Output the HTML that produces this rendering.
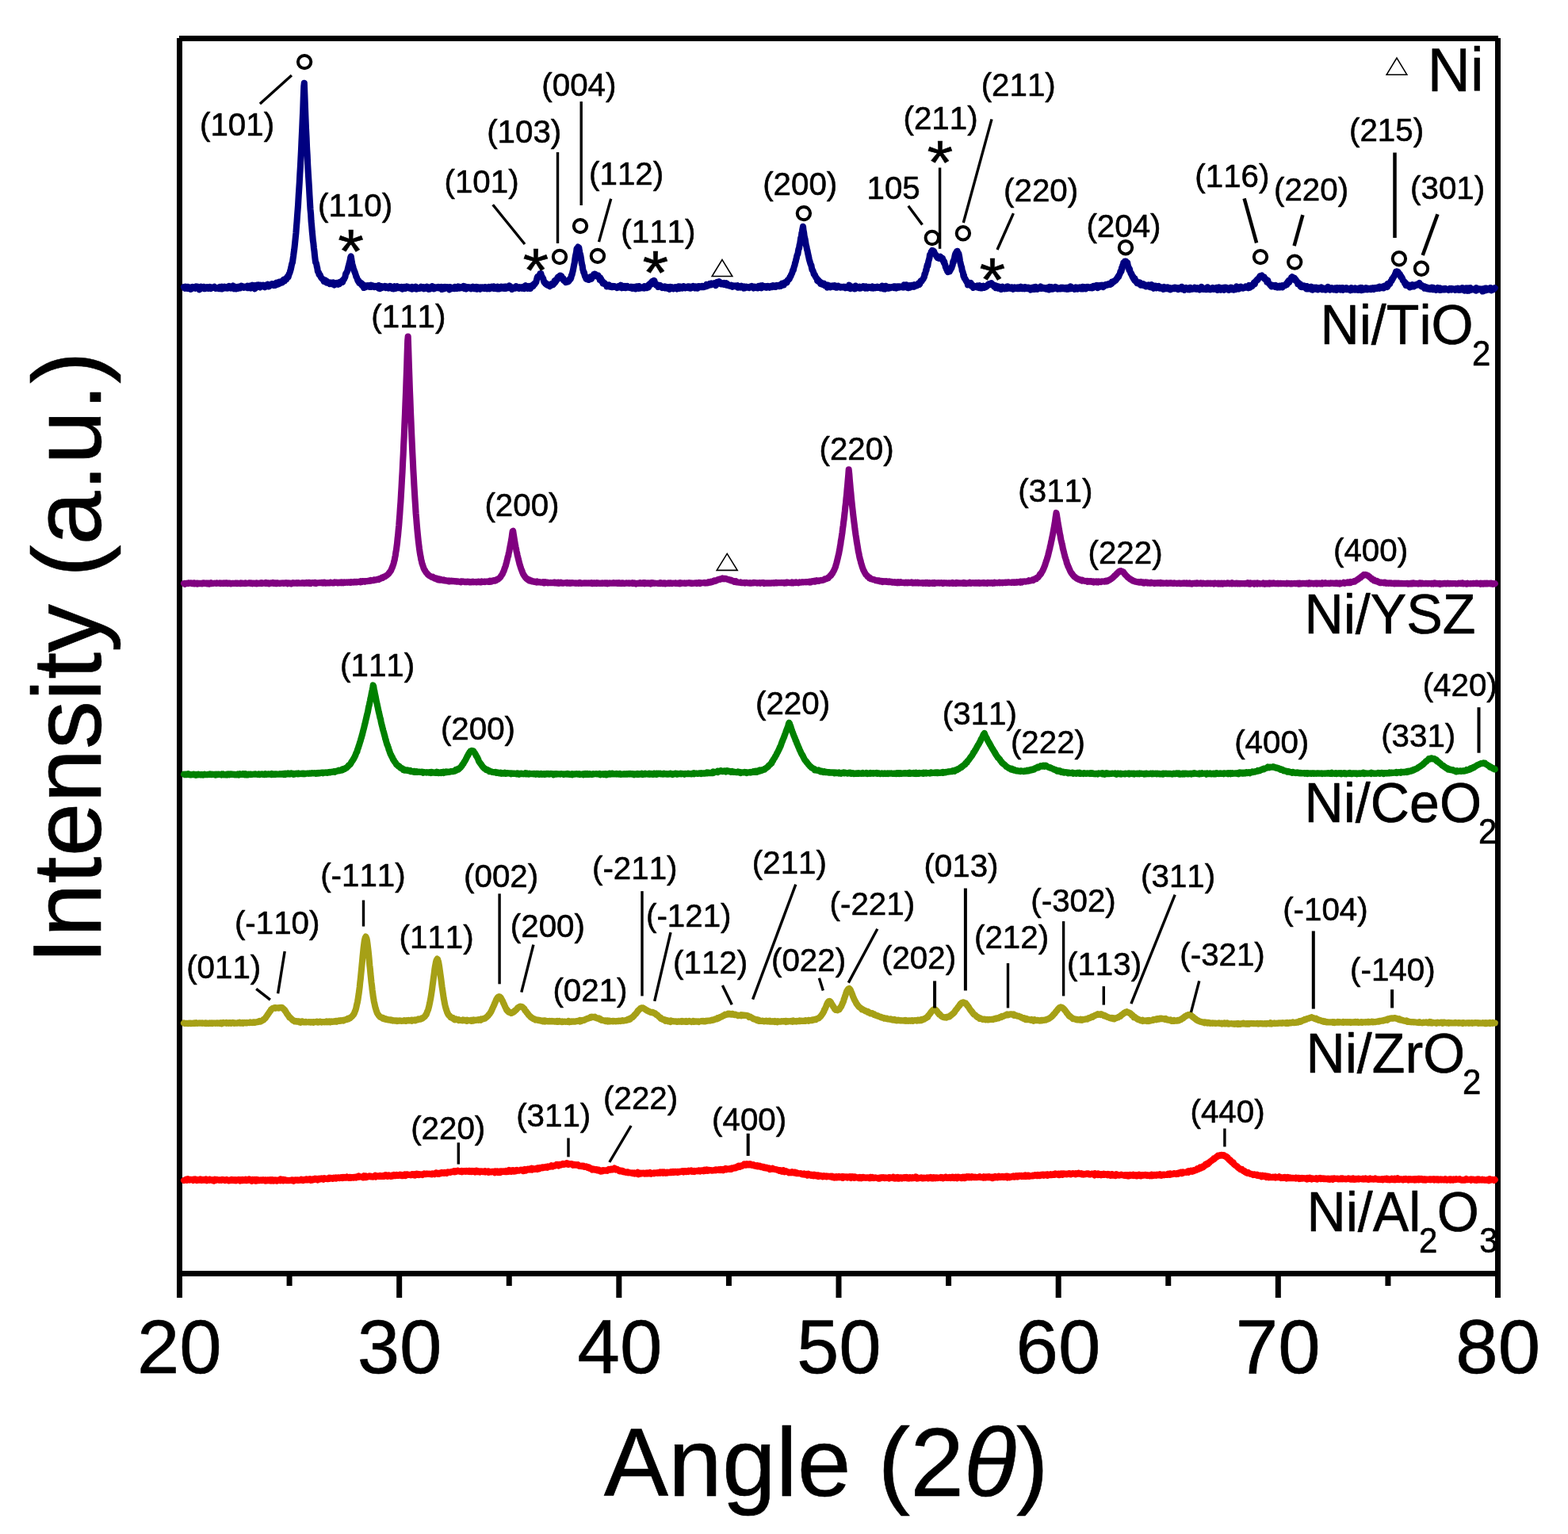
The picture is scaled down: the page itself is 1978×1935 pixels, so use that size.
<!DOCTYPE html>
<html lang="en">
<head>
<meta charset="utf-8">
<title>XRD patterns of Ni catalysts</title>
<style>
html,body{margin:0;padding:0;background:#fff;}
body{width:1978px;height:1935px;overflow:hidden;}
svg{display:block;}
text{font-family:"Liberation Sans",Arial,sans-serif;font-kerning:none;fill:#000;stroke:#000;stroke-width:0.6px;stroke-linejoin:round;}
</style>
</head>
<body>
<svg xmlns="http://www.w3.org/2000/svg" width="1978" height="1935" viewBox="0 0 1978 1935">
<rect x="0" y="0" width="1978" height="1935" fill="#ffffff"/>
<rect x="223.00" y="48.00" width="7.00" height="1589.00" fill="#000"/>
<rect x="1886.00" y="48.00" width="7.00" height="1589.00" fill="#000"/>
<rect x="226.00" y="45.00" width="1664.00" height="7.00" fill="#000"/>
<rect x="223.00" y="1603.00" width="1670.00" height="7.00" fill="#000"/>
<rect x="361.58" y="1608.00" width="7.00" height="14.00" fill="#000"/>
<rect x="500.17" y="1608.00" width="7.00" height="29.00" fill="#000"/>
<rect x="638.75" y="1608.00" width="7.00" height="14.00" fill="#000"/>
<rect x="777.33" y="1608.00" width="7.00" height="29.00" fill="#000"/>
<rect x="915.92" y="1608.00" width="7.00" height="14.00" fill="#000"/>
<rect x="1054.50" y="1608.00" width="7.00" height="29.00" fill="#000"/>
<rect x="1193.08" y="1608.00" width="7.00" height="14.00" fill="#000"/>
<rect x="1331.67" y="1608.00" width="7.00" height="29.00" fill="#000"/>
<rect x="1470.25" y="1608.00" width="7.00" height="14.00" fill="#000"/>
<rect x="1608.83" y="1608.00" width="7.00" height="29.00" fill="#000"/>
<rect x="1747.42" y="1608.00" width="7.00" height="14.00" fill="#000"/>
<path d="M232.0,361.9 232.6,363.2 233.1,363.7 233.7,362.5 234.2,361.8 234.8,362.8 235.3,363.2 235.9,363.7 236.4,361.9 237.0,361.8 237.5,363.4 238.1,363.2 238.6,364.1 239.2,363.6 239.7,362.8 240.3,362.6 240.8,364.9 241.4,362.6 241.9,362.2 242.5,361.9 243.0,362.9 243.6,362.9 244.1,362.5 244.7,362.8 245.2,363.0 245.8,363.4 246.3,363.7 246.9,363.0 247.4,361.4 248.0,363.4 248.5,361.7 249.1,362.7 249.6,361.6 250.2,362.8 250.7,362.2 251.3,363.0 251.8,365.4 252.4,362.7 252.9,363.5 253.5,361.7 254.0,362.5 254.6,363.3 255.1,362.7 255.7,363.1 256.2,362.8 256.8,362.0 257.3,363.2 257.9,362.1 258.4,364.2 259.0,362.3 259.5,363.3 260.1,362.7 260.6,363.5 261.2,362.2 261.7,363.5 262.3,362.6 262.8,363.7 263.4,363.2 263.9,362.8 264.5,362.1 265.0,363.3 265.6,363.1 266.1,364.0 266.7,362.4 267.2,363.1 267.8,363.1 268.3,362.9 268.9,362.8 269.4,362.8 270.0,362.2 270.5,361.8 271.1,362.3 271.6,363.1 272.2,363.8 272.7,363.4 273.3,363.5 273.8,363.2 274.4,363.2 274.9,362.8 275.5,363.2 276.0,364.0 276.6,362.3 277.1,362.0 277.7,364.2 278.2,362.8 278.8,363.3 279.3,363.3 279.9,361.6 280.4,364.5 281.0,364.0 281.5,362.7 282.1,363.1 282.6,362.6 283.2,361.8 283.7,362.4 284.3,362.8 284.8,363.4 285.4,363.1 285.9,362.5 286.5,363.6 287.0,361.9 287.6,363.1 288.1,363.3 288.7,362.2 289.2,361.0 289.8,361.7 290.3,362.6 290.9,362.8 291.4,363.6 292.0,361.6 292.5,362.4 293.1,362.9 293.6,362.2 294.2,360.5 294.7,363.0 295.3,364.2 295.8,363.1 296.4,361.6 296.9,362.0 297.5,362.5 298.0,364.3 298.6,362.8 299.1,362.3 299.7,363.5 300.2,362.2 300.8,363.7 301.3,361.7 301.9,361.8 302.4,362.8 303.0,363.3 303.5,362.7 304.1,362.4 304.6,360.7 305.2,361.5 305.7,361.6 306.3,361.7 306.8,362.5 307.4,361.8 307.9,362.7 308.5,362.1 309.0,361.7 309.6,362.1 310.1,362.3 310.7,362.6 311.2,361.5 311.8,361.7 312.3,360.8 312.9,363.2 313.4,363.0 314.0,361.7 314.5,361.4 315.1,360.8 315.6,361.9 316.2,361.9 316.7,363.5 317.3,361.9 317.8,361.1 318.4,359.7 318.9,362.8 319.5,361.8 320.0,360.3 320.6,361.7 321.1,360.2 321.7,364.3 322.2,362.4 322.8,361.9 323.3,361.3 323.9,359.7 324.4,361.2 325.0,360.1 325.5,361.8 326.1,359.5 326.6,360.5 327.2,362.1 327.7,362.4 328.3,360.2 328.8,359.8 329.4,361.7 329.9,361.7 330.5,360.1 331.0,360.3 331.6,360.3 332.1,359.8 332.7,360.2 333.2,361.7 333.8,361.2 334.3,362.2 334.9,360.5 335.4,360.4 336.0,359.6 336.5,360.3 337.1,359.2 337.6,358.8 338.2,360.7 338.7,361.3 339.3,360.7 339.8,361.0 340.4,360.1 340.9,359.2 341.5,359.8 342.0,359.3 342.6,358.7 343.1,358.1 343.7,358.2 344.2,359.3 344.8,359.3 345.3,358.7 345.9,360.1 346.4,359.0 347.0,359.2 347.5,359.6 348.1,357.8 348.6,356.7 349.2,358.8 349.7,357.5 350.3,358.9 350.8,358.0 351.4,358.3 351.9,358.0 352.5,355.5 353.0,357.5 353.6,356.2 354.1,355.9 354.7,355.9 355.2,356.6 355.8,356.5 356.3,356.3 356.9,353.8 357.4,354.3 358.0,352.6 358.5,354.0 359.1,354.1 359.6,352.6 360.2,352.9 360.7,352.3 361.3,352.3 361.8,350.2 362.4,349.4 362.9,348.6 363.5,349.7 364.0,348.1 364.6,346.0 365.1,344.9 365.7,343.4 366.2,341.8 366.8,339.6 367.3,337.4 367.9,334.3 368.4,332.2 369.0,331.1 369.5,327.0 370.1,323.1 370.6,319.0 371.2,314.9 371.7,310.5 372.3,304.6 372.8,299.7 373.4,293.8 373.9,286.6 374.5,279.7 375.0,272.3 375.6,264.5 376.1,257.9 376.7,246.7 377.2,239.4 377.8,229.8 378.3,220.0 378.9,210.3 379.4,200.5 380.0,188.6 380.5,176.9 381.1,164.5 381.6,152.3 382.2,139.8 382.7,124.7 383.3,109.0 383.8,104.7 384.4,120.1 384.9,134.2 385.5,149.7 386.0,161.9 386.6,173.6 387.1,186.6 387.7,196.1 388.2,208.0 388.8,218.3 389.3,226.3 389.9,235.8 390.4,245.4 391.0,255.6 391.5,264.1 392.1,269.9 392.6,279.1 393.2,285.0 393.7,291.5 394.3,297.4 394.8,303.2 395.4,307.2 395.9,312.7 396.5,316.9 397.0,322.3 397.6,327.2 398.1,331.0 398.7,331.5 399.2,333.1 399.8,336.5 400.3,338.2 400.9,342.5 401.4,343.1 402.0,343.5 402.5,346.2 403.1,347.1 403.6,346.5 404.2,348.3 404.7,349.4 405.3,350.3 405.8,351.1 406.4,351.4 406.9,352.3 407.5,352.2 408.0,352.4 408.6,354.8 409.1,354.2 409.7,354.7 410.2,353.3 410.8,354.8 411.3,355.9 411.9,354.4 412.4,356.6 413.0,355.6 413.5,356.4 414.1,356.2 414.6,356.7 415.2,357.6 415.7,356.5 416.3,358.2 416.8,356.5 417.4,356.5 417.9,357.9 418.5,356.6 419.0,357.3 419.6,358.4 420.1,358.7 420.7,356.4 421.2,358.3 421.8,359.4 422.3,358.9 422.9,357.8 423.4,357.5 424.0,357.7 424.5,357.0 425.1,357.7 425.6,357.7 426.2,357.7 426.7,358.7 427.3,357.4 427.8,356.3 428.4,358.1 428.9,356.1 429.5,356.3 430.0,356.2 430.6,355.6 431.1,354.6 431.7,354.6 432.2,355.9 432.8,352.9 433.3,352.5 433.9,352.5 434.4,351.2 435.0,350.1 435.5,348.9 436.1,345.3 436.6,344.7 437.2,344.0 437.7,342.7 438.3,341.6 438.8,339.1 439.4,336.6 439.9,334.8 440.5,332.4 441.0,330.5 441.6,328.4 442.1,325.0 442.7,323.3 443.2,326.1 443.8,330.3 444.3,332.8 444.9,334.9 445.4,336.9 446.0,338.9 446.5,340.2 447.1,342.6 447.6,342.9 448.2,345.3 448.7,346.4 449.3,349.0 449.8,349.3 450.4,351.0 450.9,352.5 451.5,354.4 452.0,353.6 452.6,354.3 453.1,356.5 453.7,355.7 454.2,357.5 454.8,357.2 455.3,358.1 455.9,357.1 456.4,359.5 457.0,358.9 457.5,358.8 458.1,361.4 458.6,360.5 459.2,363.0 459.7,360.6 460.3,360.2 460.8,360.7 461.4,362.0 461.9,360.8 462.5,361.3 463.0,361.4 463.6,360.3 464.1,361.2 464.7,360.8 465.2,360.3 465.8,362.0 466.3,361.9 466.9,361.5 467.4,360.7 468.0,359.9 468.5,361.9 469.1,361.5 469.6,360.3 470.2,361.6 470.7,360.5 471.3,361.7 471.8,361.9 472.4,362.1 472.9,362.0 473.5,362.0 474.0,361.0 474.6,361.6 475.1,361.5 475.7,361.8 476.2,362.2 476.8,362.5 477.3,363.4 477.9,360.0 478.4,362.4 479.0,362.0 479.5,364.0 480.1,362.9 480.6,360.9 481.2,362.5 481.7,361.8 482.3,363.0 482.8,361.4 483.4,362.2 483.9,362.2 484.5,362.2 485.0,361.8 485.6,360.9 486.1,362.7 486.7,363.1 487.2,362.3 487.8,361.6 488.3,362.6 488.9,362.9 489.4,362.3 490.0,362.4 490.5,363.6 491.1,361.6 491.6,362.0 492.2,360.9 492.7,361.9 493.3,361.9 493.8,361.7 494.4,362.0 494.9,364.0 495.5,362.4 496.0,362.5 496.6,364.3 497.1,362.5 497.7,361.2 498.2,362.9 498.8,361.8 499.3,363.9 499.9,361.6 500.4,362.1 501.0,361.3 501.5,362.7 502.1,361.8 502.6,362.6 503.2,362.3 503.7,362.2 504.3,363.4 504.8,363.4 505.4,362.7 505.9,362.0 506.5,361.8 507.0,362.9 507.6,364.6 508.1,362.3 508.7,362.1 509.2,362.2 509.8,361.8 510.3,362.0 510.9,362.6 511.4,363.9 512.0,362.7 512.5,362.3 513.1,361.5 513.6,362.9 514.2,362.7 514.7,361.8 515.3,361.9 515.8,362.8 516.4,363.6 516.9,363.3 517.5,363.0 518.0,362.5 518.6,363.1 519.1,362.8 519.7,364.6 520.2,361.9 520.8,362.5 521.3,363.8 521.9,362.6 522.4,364.0 523.0,362.8 523.5,363.0 524.1,362.6 524.6,361.7 525.2,362.1 525.7,364.6 526.3,363.4 526.8,363.4 527.4,363.6 527.9,363.3 528.5,363.7 529.0,362.7 529.6,362.7 530.1,363.7 530.7,362.6 531.2,361.8 531.8,362.7 532.3,362.5 532.9,363.4 533.4,362.3 534.0,362.1 534.5,362.6 535.1,364.2 535.6,362.9 536.2,363.0 536.7,362.9 537.3,363.2 537.8,363.7 538.4,364.0 538.9,361.6 539.5,364.0 540.0,362.9 540.6,362.7 541.1,364.9 541.7,362.8 542.2,364.5 542.8,363.7 543.3,362.1 543.9,363.3 544.4,363.5 545.0,362.9 545.5,361.1 546.1,362.7 546.6,362.8 547.2,362.1 547.7,364.4 548.3,362.8 548.8,362.7 549.4,362.7 549.9,362.4 550.5,362.4 551.0,363.1 551.6,363.2 552.1,362.6 552.7,362.9 553.2,361.9 553.8,363.4 554.3,362.4 554.9,363.2 555.4,362.3 556.0,362.6 556.5,363.2 557.1,362.0 557.6,365.0 558.2,363.0 558.7,362.9 559.3,362.4 559.8,364.3 560.4,364.1 560.9,363.3 561.5,361.9 562.0,362.6 562.6,363.5 563.1,362.6 563.7,362.1 564.2,362.1 564.8,362.4 565.3,363.0 565.9,362.5 566.4,363.0 567.0,365.3 567.5,364.4 568.1,362.2 568.6,363.3 569.2,363.1 569.7,362.9 570.3,363.9 570.8,362.8 571.4,362.8 571.9,362.7 572.5,363.0 573.0,364.1 573.6,363.7 574.1,362.0 574.7,362.7 575.2,362.4 575.8,363.7 576.3,363.2 576.9,363.8 577.4,363.0 578.0,361.5 578.5,363.4 579.1,363.2 579.6,363.5 580.2,362.0 580.7,363.1 581.3,362.5 581.8,362.5 582.4,363.3 582.9,363.3 583.4,362.3 584.0,361.7 584.5,361.1 585.1,362.6 585.6,364.0 586.2,363.0 586.7,361.3 587.3,362.4 587.8,363.4 588.4,364.4 588.9,364.0 589.5,363.3 590.0,363.2 590.6,362.2 591.1,362.7 591.7,362.8 592.2,362.4 592.8,363.1 593.3,362.7 593.9,363.3 594.4,364.2 595.0,363.6 595.5,363.4 596.1,362.9 596.6,361.8 597.2,363.0 597.7,363.5 598.3,362.2 598.8,364.1 599.4,362.8 599.9,363.4 600.5,362.8 601.0,362.1 601.6,364.7 602.1,362.1 602.7,363.8 603.2,362.6 603.8,363.3 604.3,362.4 604.9,362.7 605.4,363.8 606.0,364.6 606.5,362.4 607.1,363.1 607.6,363.8 608.2,362.5 608.7,363.6 609.3,362.4 609.8,363.5 610.4,363.4 610.9,364.0 611.5,363.3 612.0,362.1 612.6,363.6 613.1,362.2 613.7,363.6 614.2,364.2 614.8,363.5 615.3,362.6 615.9,364.0 616.4,363.2 617.0,362.0 617.5,362.7 618.1,364.2 618.6,362.8 619.2,363.1 619.7,362.8 620.3,361.7 620.8,362.6 621.4,363.3 621.9,363.2 622.5,362.9 623.0,361.3 623.6,364.0 624.1,363.6 624.7,363.8 625.2,364.0 625.8,362.6 626.3,362.5 626.9,363.3 627.4,364.3 628.0,361.6 628.5,362.8 629.1,362.4 629.6,363.4 630.2,364.2 630.7,362.7 631.3,362.0 631.8,363.0 632.4,362.7 632.9,361.7 633.5,363.7 634.0,362.5 634.6,363.5 635.1,361.9 635.7,363.8 636.2,361.8 636.8,363.8 637.3,361.5 637.9,364.0 638.4,362.6 639.0,361.7 639.5,362.7 640.1,363.2 640.6,362.1 641.2,362.5 641.7,363.1 642.3,362.8 642.8,360.4 643.4,362.5 643.9,363.2 644.5,363.1 645.0,363.7 645.6,362.3 646.1,364.9 646.7,363.5 647.2,363.1 647.8,363.7 648.3,363.6 648.9,362.9 649.4,362.3 650.0,363.6 650.5,363.1 651.1,361.2 651.6,361.9 652.2,363.1 652.7,362.8 653.3,362.9 653.8,363.2 654.4,362.8 654.9,363.9 655.5,362.2 656.0,362.3 656.6,362.9 657.1,363.2 657.7,363.2 658.2,363.7 658.8,362.1 659.3,363.4 659.9,362.8 660.4,361.6 661.0,362.3 661.5,364.0 662.1,363.0 662.6,361.9 663.2,360.3 663.7,361.6 664.3,361.6 664.8,362.2 665.4,363.9 665.9,362.6 666.5,362.2 667.0,361.1 667.6,360.8 668.1,361.5 668.7,361.2 669.2,363.9 669.8,361.0 670.3,360.7 670.9,361.9 671.4,360.8 672.0,359.4 672.5,361.1 673.1,359.4 673.6,358.1 674.2,358.8 674.7,358.2 675.3,356.7 675.8,356.6 676.4,355.6 676.9,353.0 677.5,350.8 678.0,349.2 678.6,349.6 679.1,349.4 679.7,348.0 680.2,347.4 680.8,347.1 681.3,345.4 681.9,346.5 682.4,345.1 683.0,347.8 683.5,348.7 684.1,349.6 684.6,350.7 685.2,351.4 685.7,353.7 686.3,355.7 686.8,355.4 687.4,357.0 687.9,356.7 688.5,358.1 689.0,357.6 689.6,359.1 690.1,359.0 690.7,359.7 691.2,359.1 691.8,358.8 692.3,359.5 692.9,360.7 693.4,361.1 694.0,359.5 694.5,360.3 695.1,360.2 695.6,359.7 696.2,357.9 696.7,359.1 697.3,357.8 697.8,359.1 698.4,358.3 698.9,357.7 699.5,354.6 700.0,356.5 700.6,355.8 701.1,353.4 701.7,354.4 702.2,352.8 702.8,351.8 703.3,350.5 703.9,349.4 704.4,349.1 705.0,351.3 705.5,348.5 706.1,348.3 706.6,347.5 707.2,347.7 707.7,348.2 708.3,348.4 708.8,350.5 709.4,350.3 709.9,351.9 710.5,351.0 711.0,353.4 711.6,353.2 712.1,354.4 712.7,354.2 713.2,354.0 713.8,356.0 714.3,355.0 714.9,355.3 715.4,354.8 716.0,355.5 716.5,354.9 717.1,355.1 717.6,354.7 718.2,353.3 718.7,351.9 719.3,352.5 719.8,351.8 720.4,350.3 720.9,347.2 721.5,346.9 722.0,344.6 722.6,342.3 723.1,339.9 723.7,336.5 724.2,334.0 724.8,331.4 725.3,327.0 725.9,323.0 726.4,320.9 727.0,318.2 727.5,314.0 728.1,312.9 728.6,312.7 729.2,311.6 729.7,312.2 730.3,312.4 730.8,316.0 731.4,319.2 731.9,320.5 732.5,323.2 733.0,326.1 733.6,330.9 734.1,333.3 734.7,335.4 735.2,339.7 735.8,341.7 736.3,343.7 736.9,343.7 737.4,346.6 738.0,348.6 738.5,348.3 739.1,350.9 739.6,352.0 740.2,352.2 740.7,351.2 741.3,351.4 741.8,352.8 742.4,352.9 742.9,352.9 743.5,352.7 744.0,351.4 744.6,350.8 745.1,349.2 745.7,350.9 746.2,351.6 746.8,348.9 747.3,348.3 747.9,348.8 748.4,348.1 749.0,346.2 749.5,346.4 750.1,345.8 750.6,348.1 751.2,345.8 751.7,347.1 752.3,348.1 752.8,348.4 753.4,348.4 753.9,349.0 754.5,347.3 755.0,348.6 755.6,349.0 756.1,350.0 756.7,353.0 757.2,350.3 757.8,352.8 758.3,352.1 758.9,354.8 759.4,355.5 760.0,354.6 760.5,357.3 761.1,356.3 761.6,357.8 762.2,357.5 762.7,357.2 763.3,357.8 763.8,358.4 764.4,359.3 764.9,359.3 765.5,361.4 766.0,359.6 766.6,359.6 767.1,359.6 767.7,359.8 768.2,359.4 768.8,359.9 769.3,361.6 769.9,361.1 770.4,361.0 771.0,361.5 771.5,362.2 772.1,361.9 772.6,362.1 773.2,361.1 773.7,361.4 774.3,361.1 774.8,361.7 775.4,361.2 775.9,361.6 776.5,361.8 777.0,361.8 777.6,361.8 778.1,361.6 778.7,363.1 779.2,361.8 779.8,361.3 780.3,362.3 780.9,361.3 781.4,361.4 782.0,362.3 782.5,361.0 783.1,359.7 783.6,362.6 784.2,363.2 784.7,361.0 785.3,361.7 785.8,362.9 786.4,360.8 786.9,361.7 787.5,361.5 788.0,362.3 788.6,360.9 789.1,363.2 789.7,362.4 790.2,362.8 790.8,362.3 791.3,360.9 791.9,362.4 792.4,361.5 793.0,362.6 793.5,361.9 794.1,362.3 794.6,362.4 795.2,363.2 795.7,363.2 796.3,361.8 796.8,362.6 797.4,363.8 797.9,363.0 798.5,362.1 799.0,362.5 799.6,362.4 800.1,363.4 800.7,362.7 801.2,362.9 801.8,364.4 802.3,361.5 802.9,361.8 803.4,361.2 804.0,361.3 804.5,363.3 805.1,362.8 805.6,363.9 806.2,361.0 806.7,361.9 807.3,363.7 807.8,363.4 808.4,363.2 808.9,363.2 809.5,362.5 810.0,362.4 810.6,362.4 811.1,363.1 811.7,362.2 812.2,362.5 812.8,363.4 813.3,361.2 813.9,361.4 814.4,362.4 815.0,361.6 815.5,361.5 816.1,363.1 816.6,361.5 817.2,360.5 817.7,361.4 818.3,362.1 818.8,358.7 819.4,358.5 819.9,358.6 820.5,357.4 821.0,359.0 821.6,357.0 822.1,355.7 822.7,355.9 823.2,354.5 823.8,354.5 824.3,355.1 824.9,357.2 825.4,353.9 826.0,356.5 826.5,357.9 827.1,358.0 827.6,359.6 828.2,359.0 828.7,359.4 829.3,359.7 829.8,359.5 830.4,361.9 830.9,360.0 831.5,361.2 832.0,361.1 832.6,361.1 833.1,360.1 833.7,361.7 834.2,362.2 834.8,362.3 835.3,363.0 835.9,362.2 836.4,361.9 837.0,362.7 837.5,363.0 838.1,361.8 838.6,361.4 839.2,361.8 839.7,363.5 840.3,363.4 840.8,362.0 841.4,362.8 841.9,363.4 842.5,363.8 843.0,362.2 843.6,362.5 844.1,363.9 844.7,364.7 845.2,364.0 845.8,361.9 846.3,363.1 846.9,362.6 847.4,362.8 848.0,362.3 848.5,362.4 849.1,362.8 849.6,364.3 850.2,363.4 850.7,363.2 851.3,362.8 851.8,362.2 852.4,362.6 852.9,363.8 853.5,363.5 854.0,364.4 854.6,363.0 855.1,362.8 855.7,361.5 856.2,363.1 856.8,361.4 857.3,364.0 857.9,362.3 858.4,362.8 859.0,361.7 859.5,362.4 860.1,362.1 860.6,363.7 861.2,363.0 861.7,361.8 862.3,361.2 862.8,362.7 863.4,362.4 863.9,361.9 864.5,363.2 865.0,362.6 865.6,362.8 866.1,362.3 866.7,362.3 867.2,362.3 867.8,361.4 868.3,363.2 868.9,363.0 869.4,361.3 870.0,362.7 870.5,363.6 871.1,362.8 871.6,363.6 872.2,362.4 872.7,362.6 873.3,361.5 873.8,361.8 874.4,361.0 874.9,361.7 875.5,362.6 876.0,362.8 876.6,363.3 877.1,362.4 877.7,361.5 878.2,362.6 878.8,362.1 879.3,363.6 879.9,363.7 880.4,362.8 881.0,361.1 881.5,361.5 882.1,362.0 882.6,361.2 883.2,362.2 883.7,362.2 884.3,362.3 884.8,361.7 885.4,360.7 885.9,360.7 886.5,361.1 887.0,362.2 887.6,362.3 888.1,361.7 888.7,361.1 889.2,361.3 889.8,361.3 890.3,361.5 890.9,361.0 891.4,359.0 892.0,360.9 892.5,360.3 893.1,359.5 893.6,360.1 894.2,359.8 894.7,359.4 895.3,357.9 895.8,359.2 896.4,359.4 896.9,358.8 897.5,357.4 898.0,358.9 898.6,359.0 899.1,358.4 899.7,358.5 900.2,357.7 900.8,357.3 901.3,358.2 901.9,357.3 902.4,357.7 903.0,360.0 903.5,357.9 904.1,357.4 904.6,355.9 905.2,357.2 905.7,357.7 906.3,356.5 906.8,356.9 907.4,355.3 907.9,357.5 908.5,356.6 909.0,357.7 909.6,358.3 910.1,357.1 910.7,358.1 911.2,357.6 911.8,357.4 912.3,357.4 912.9,357.1 913.4,358.9 914.0,358.7 914.5,357.3 915.1,358.9 915.6,357.8 916.2,357.3 916.7,359.6 917.3,357.8 917.8,359.9 918.4,359.3 918.9,360.0 919.5,359.8 920.0,360.4 920.6,359.9 921.1,360.2 921.7,360.1 922.2,360.9 922.8,359.8 923.3,361.1 923.9,361.6 924.4,360.5 925.0,361.0 925.5,360.3 926.1,360.6 926.6,361.1 927.2,360.7 927.7,360.4 928.3,361.2 928.8,361.4 929.4,361.6 929.9,362.0 930.5,360.1 931.0,362.7 931.6,361.5 932.1,361.1 932.7,361.4 933.2,362.1 933.8,362.5 934.3,361.6 934.9,362.0 935.4,360.7 936.0,362.1 936.5,361.9 937.1,361.7 937.6,362.8 938.2,363.5 938.7,363.0 939.3,361.5 939.8,363.4 940.4,361.9 940.9,362.2 941.5,361.8 942.0,362.6 942.6,362.7 943.1,362.4 943.7,362.1 944.2,362.2 944.8,362.0 945.3,363.1 945.9,361.9 946.4,362.2 947.0,362.1 947.5,361.7 948.1,362.1 948.6,361.1 949.2,362.6 949.7,362.7 950.3,362.0 950.8,363.5 951.4,361.6 951.9,362.7 952.5,362.6 953.0,361.8 953.6,362.0 954.1,362.9 954.7,362.3 955.2,362.4 955.8,363.3 956.3,362.4 956.9,360.9 957.4,361.6 958.0,362.8 958.5,362.0 959.1,361.3 959.6,360.5 960.2,362.4 960.7,363.3 961.3,361.1 961.8,360.3 962.4,362.4 962.9,361.6 963.5,361.8 964.0,361.7 964.6,361.2 965.1,362.3 965.7,362.6 966.2,362.2 966.8,361.4 967.3,362.7 967.9,361.7 968.4,362.2 969.0,361.0 969.5,362.2 970.1,362.3 970.6,362.7 971.2,361.6 971.7,361.9 972.3,361.1 972.8,362.2 973.4,362.1 973.9,362.2 974.5,361.0 975.0,360.3 975.6,361.2 976.1,361.0 976.7,360.5 977.2,361.5 977.8,361.8 978.3,361.2 978.9,361.7 979.4,361.1 980.0,359.9 980.5,360.2 981.1,360.2 981.6,361.0 982.2,361.1 982.7,360.3 983.3,360.9 983.8,359.3 984.4,359.7 984.9,360.8 985.5,359.8 986.0,360.1 986.6,357.6 987.1,357.6 987.7,358.0 988.2,359.2 988.8,359.4 989.3,357.3 989.9,356.6 990.4,356.2 991.0,355.9 991.5,356.6 992.1,355.4 992.6,356.6 993.2,355.1 993.7,353.4 994.3,353.4 994.8,352.3 995.4,352.3 995.9,351.5 996.5,349.5 997.0,349.5 997.6,348.1 998.1,346.4 998.7,345.5 999.2,344.5 999.8,342.3 1000.3,340.5 1000.9,340.5 1001.4,337.9 1002.0,335.7 1002.5,334.7 1003.1,331.3 1003.6,330.5 1004.2,327.4 1004.7,326.0 1005.3,322.8 1005.8,321.3 1006.4,320.3 1006.9,317.0 1007.5,313.7 1008.0,313.5 1008.6,309.0 1009.1,307.9 1009.7,303.5 1010.2,299.8 1010.8,299.3 1011.3,294.3 1011.9,291.9 1012.4,288.7 1013.0,285.8 1013.5,290.4 1014.1,293.3 1014.6,297.5 1015.2,300.1 1015.7,302.1 1016.3,306.0 1016.8,309.3 1017.4,311.2 1017.9,314.4 1018.5,316.1 1019.0,318.9 1019.6,321.6 1020.1,323.7 1020.7,326.8 1021.2,328.6 1021.8,330.6 1022.3,332.5 1022.9,334.0 1023.4,334.7 1024.0,338.2 1024.5,340.4 1025.1,340.8 1025.6,342.0 1026.2,343.6 1026.7,345.9 1027.3,346.4 1027.8,346.6 1028.4,348.4 1028.9,349.0 1029.5,350.4 1030.0,350.7 1030.6,351.6 1031.1,354.2 1031.7,354.6 1032.2,353.1 1032.8,354.2 1033.3,355.2 1033.9,355.8 1034.4,355.5 1035.0,357.7 1035.5,356.1 1036.1,358.3 1036.6,358.6 1037.2,358.0 1037.7,358.1 1038.3,358.9 1038.8,359.2 1039.4,357.6 1039.9,358.5 1040.5,360.1 1041.0,359.7 1041.6,359.6 1042.1,359.3 1042.7,359.7 1043.2,359.7 1043.8,362.6 1044.3,359.6 1044.9,361.9 1045.4,361.1 1046.0,361.0 1046.5,361.1 1047.1,360.7 1047.6,362.3 1048.2,361.5 1048.7,361.2 1049.3,361.1 1049.8,361.5 1050.4,360.5 1050.9,361.2 1051.5,361.0 1052.0,362.0 1052.6,362.0 1053.1,360.1 1053.7,361.5 1054.2,362.4 1054.8,360.7 1055.3,360.8 1055.9,362.6 1056.4,361.7 1057.0,361.5 1057.5,360.9 1058.1,362.0 1058.6,361.5 1059.2,362.1 1059.7,362.3 1060.3,362.6 1060.8,361.8 1061.4,361.7 1061.9,362.1 1062.5,362.0 1063.0,362.3 1063.6,361.8 1064.1,362.0 1064.7,361.7 1065.2,361.8 1065.8,362.4 1066.3,363.2 1066.9,361.9 1067.4,362.8 1068.0,362.6 1068.5,362.4 1069.1,362.9 1069.6,361.9 1070.2,362.8 1070.7,362.6 1071.3,359.7 1071.8,362.7 1072.4,362.9 1072.9,364.0 1073.5,361.6 1074.0,362.5 1074.6,362.8 1075.1,361.7 1075.7,363.4 1076.2,362.9 1076.8,361.9 1077.3,361.6 1077.9,362.2 1078.4,364.4 1079.0,364.2 1079.5,360.6 1080.1,361.2 1080.6,363.1 1081.2,362.5 1081.7,362.1 1082.3,363.1 1082.8,362.7 1083.4,362.8 1083.9,362.8 1084.5,361.8 1085.0,363.7 1085.6,362.3 1086.1,363.5 1086.7,363.2 1087.2,362.7 1087.8,362.8 1088.3,362.6 1088.9,361.2 1089.4,362.4 1090.0,363.0 1090.5,361.4 1091.1,361.5 1091.6,363.5 1092.2,363.3 1092.7,361.5 1093.3,363.1 1093.8,362.7 1094.4,363.5 1094.9,362.5 1095.5,362.5 1096.0,362.1 1096.6,362.9 1097.1,362.6 1097.7,362.2 1098.2,362.4 1098.8,362.1 1099.3,363.2 1099.9,361.9 1100.4,361.5 1101.0,362.0 1101.5,363.6 1102.1,362.3 1102.6,363.2 1103.2,363.3 1103.7,362.3 1104.3,363.3 1104.8,363.1 1105.4,362.7 1105.9,362.2 1106.5,362.7 1107.0,361.7 1107.6,362.5 1108.1,362.2 1108.7,363.0 1109.2,363.0 1109.8,362.2 1110.3,363.4 1110.9,363.6 1111.4,362.7 1112.0,362.1 1112.5,363.1 1113.1,360.7 1113.6,362.2 1114.2,363.1 1114.7,364.2 1115.3,362.1 1115.8,363.9 1116.4,364.5 1116.9,364.1 1117.5,360.8 1118.0,363.5 1118.6,362.8 1119.1,363.4 1119.7,362.5 1120.2,362.1 1120.8,362.4 1121.3,363.8 1121.9,363.2 1122.4,362.3 1123.0,362.8 1123.5,363.2 1124.1,363.0 1124.6,362.5 1125.2,362.0 1125.7,361.9 1126.3,362.1 1126.8,362.0 1127.4,361.2 1127.9,361.3 1128.5,363.1 1129.0,361.5 1129.6,361.3 1130.1,362.3 1130.7,363.5 1131.2,363.3 1131.8,362.0 1132.3,361.5 1132.9,361.8 1133.4,361.5 1134.0,361.8 1134.5,362.6 1135.1,361.3 1135.6,361.5 1136.2,361.9 1136.7,362.1 1137.3,361.5 1137.8,361.4 1138.4,361.1 1138.9,361.4 1139.5,362.4 1140.0,361.7 1140.6,359.4 1141.1,362.3 1141.7,361.7 1142.2,361.1 1142.8,361.5 1143.3,359.3 1143.9,360.3 1144.4,362.5 1145.0,363.2 1145.5,363.2 1146.1,360.8 1146.6,361.4 1147.2,361.9 1147.7,360.2 1148.3,362.5 1148.8,360.5 1149.4,361.3 1149.9,360.0 1150.5,361.1 1151.0,360.7 1151.6,361.5 1152.1,359.6 1152.7,360.4 1153.2,361.7 1153.8,359.2 1154.3,360.3 1154.9,360.2 1155.4,359.3 1156.0,359.3 1156.5,360.4 1157.1,360.0 1157.6,359.3 1158.2,358.8 1158.7,357.3 1159.3,358.0 1159.8,358.9 1160.4,357.9 1160.9,355.5 1161.5,354.4 1162.0,354.9 1162.6,354.8 1163.1,353.4 1163.7,352.8 1164.2,352.3 1164.8,351.6 1165.3,349.9 1165.9,349.4 1166.4,345.7 1167.0,345.7 1167.5,343.9 1168.1,340.5 1168.6,340.8 1169.2,336.4 1169.7,334.4 1170.3,335.4 1170.8,332.0 1171.4,329.0 1171.9,327.5 1172.5,325.2 1173.0,321.4 1173.6,320.8 1174.1,320.1 1174.7,317.6 1175.2,317.0 1175.8,316.1 1176.3,316.9 1176.9,316.2 1177.4,316.6 1178.0,316.9 1178.5,318.0 1179.1,319.8 1179.6,320.9 1180.2,321.1 1180.7,321.4 1181.3,323.2 1181.8,323.8 1182.4,325.0 1182.9,323.8 1183.5,324.1 1184.0,324.9 1184.6,325.7 1185.1,324.4 1185.7,324.4 1186.2,323.7 1186.8,324.3 1187.3,325.7 1187.9,326.1 1188.4,327.0 1189.0,325.6 1189.5,328.6 1190.1,328.4 1190.6,330.9 1191.2,329.9 1191.7,333.1 1192.3,333.9 1192.8,337.0 1193.4,337.3 1193.9,339.4 1194.5,339.1 1195.0,341.9 1195.6,340.7 1196.1,343.1 1196.7,341.5 1197.2,341.2 1197.8,342.6 1198.3,341.2 1198.9,340.8 1199.4,338.9 1200.0,338.6 1200.5,337.6 1201.1,335.4 1201.6,334.5 1202.2,330.4 1202.7,330.9 1203.3,327.7 1203.8,327.0 1204.4,323.4 1204.9,321.2 1205.5,319.6 1206.0,318.8 1206.6,318.1 1207.1,316.9 1207.7,316.8 1208.2,318.5 1208.8,320.1 1209.3,319.7 1209.9,322.4 1210.4,325.0 1211.0,329.4 1211.5,331.6 1212.1,333.8 1212.6,336.1 1213.2,337.2 1213.7,341.4 1214.3,342.3 1214.8,344.0 1215.4,348.1 1215.9,347.0 1216.5,350.8 1217.0,351.2 1217.6,351.6 1218.1,353.5 1218.7,353.7 1219.2,355.3 1219.8,355.4 1220.3,355.6 1220.9,359.3 1221.4,357.2 1222.0,358.8 1222.5,358.4 1223.1,359.3 1223.6,358.0 1224.2,358.4 1224.7,356.9 1225.3,360.5 1225.8,360.3 1226.4,359.1 1226.9,360.9 1227.5,360.9 1228.0,362.9 1228.6,360.8 1229.1,361.5 1229.7,361.4 1230.2,361.6 1230.8,361.0 1231.3,360.8 1231.9,361.8 1232.4,362.3 1233.0,360.4 1233.5,360.5 1234.1,361.5 1234.6,363.0 1235.2,361.4 1235.7,360.3 1236.3,362.3 1236.8,362.3 1237.4,363.3 1237.9,361.9 1238.5,363.4 1239.0,361.2 1239.6,362.6 1240.1,361.9 1240.7,360.8 1241.2,361.5 1241.8,362.8 1242.3,362.5 1242.9,361.2 1243.4,362.2 1244.0,361.9 1244.5,361.6 1245.1,360.8 1245.6,360.5 1246.2,359.2 1246.7,359.4 1247.3,359.1 1247.8,358.0 1248.4,358.0 1248.9,358.1 1249.5,357.9 1250.0,358.6 1250.6,357.1 1251.1,357.9 1251.7,358.8 1252.2,358.7 1252.8,359.7 1253.3,359.6 1253.9,361.3 1254.4,360.6 1255.0,360.2 1255.5,362.1 1256.1,363.1 1256.6,360.4 1257.2,362.1 1257.7,362.4 1258.3,363.3 1258.8,363.7 1259.4,362.5 1259.9,361.4 1260.5,363.3 1261.0,363.6 1261.6,363.2 1262.1,362.9 1262.7,362.2 1263.2,364.9 1263.8,362.0 1264.3,361.7 1264.9,363.8 1265.4,363.2 1266.0,363.6 1266.5,363.3 1267.1,364.4 1267.6,364.2 1268.2,362.7 1268.7,363.9 1269.3,362.2 1269.8,361.8 1270.4,364.1 1270.9,362.8 1271.5,361.4 1272.0,363.2 1272.6,362.7 1273.1,363.6 1273.7,363.2 1274.2,362.6 1274.8,362.7 1275.3,363.9 1275.9,362.5 1276.4,363.4 1277.0,362.5 1277.5,363.7 1278.1,364.7 1278.6,363.8 1279.2,364.2 1279.7,363.7 1280.3,362.5 1280.8,363.1 1281.4,363.4 1281.9,363.7 1282.5,362.9 1283.0,363.9 1283.6,362.8 1284.1,363.4 1284.7,363.4 1285.2,362.5 1285.8,364.2 1286.3,363.4 1286.9,363.5 1287.4,363.4 1288.0,361.7 1288.5,362.3 1289.1,362.7 1289.6,364.2 1290.2,363.0 1290.7,363.9 1291.3,362.6 1291.8,362.8 1292.4,363.1 1292.9,364.3 1293.5,362.1 1294.0,363.3 1294.6,363.8 1295.1,363.6 1295.7,363.5 1296.2,364.1 1296.8,363.7 1297.3,362.7 1297.9,364.0 1298.4,362.9 1299.0,363.2 1299.5,364.7 1300.1,365.5 1300.6,364.7 1301.2,363.8 1301.7,362.9 1302.3,362.9 1302.8,364.9 1303.4,363.8 1303.9,362.4 1304.5,364.8 1305.0,364.0 1305.6,364.6 1306.1,363.9 1306.7,361.8 1307.2,362.9 1307.8,363.4 1308.3,363.4 1308.9,364.8 1309.4,363.0 1310.0,363.5 1310.5,363.5 1311.1,363.5 1311.6,362.7 1312.2,362.6 1312.7,361.5 1313.3,363.8 1313.8,363.4 1314.4,363.7 1314.9,362.7 1315.5,363.6 1316.0,362.8 1316.6,362.7 1317.1,363.8 1317.7,364.1 1318.2,364.0 1318.8,363.5 1319.3,363.2 1319.9,364.7 1320.4,364.6 1321.0,363.0 1321.5,362.7 1322.1,363.9 1322.6,363.8 1323.2,362.8 1323.7,365.4 1324.3,361.9 1324.8,362.9 1325.4,363.8 1325.9,364.4 1326.5,362.1 1327.0,363.2 1327.6,364.7 1328.1,364.7 1328.7,363.4 1329.2,363.6 1329.8,362.8 1330.3,363.9 1330.9,362.7 1331.4,361.9 1332.0,362.3 1332.5,363.6 1333.1,362.5 1333.6,364.4 1334.2,364.6 1334.7,364.3 1335.3,364.1 1335.8,364.4 1336.4,363.7 1336.9,364.2 1337.5,363.9 1338.0,364.2 1338.6,362.7 1339.1,363.0 1339.7,362.7 1340.2,364.2 1340.8,363.9 1341.3,362.9 1341.9,362.7 1342.4,363.0 1343.0,364.2 1343.5,363.4 1344.1,363.3 1344.6,362.9 1345.2,363.4 1345.7,364.8 1346.3,362.9 1346.8,363.2 1347.4,364.8 1347.9,364.0 1348.5,362.5 1349.0,364.3 1349.6,362.4 1350.1,363.9 1350.7,361.4 1351.2,362.6 1351.8,364.1 1352.3,362.9 1352.9,362.8 1353.4,363.4 1354.0,363.4 1354.5,363.0 1355.1,362.8 1355.6,364.8 1356.2,364.5 1356.7,363.6 1357.3,362.4 1357.8,362.9 1358.4,363.0 1358.9,363.7 1359.5,364.5 1360.0,362.8 1360.6,363.3 1361.1,362.9 1361.7,363.3 1362.2,362.6 1362.8,363.5 1363.3,364.1 1363.9,362.8 1364.4,362.8 1365.0,363.2 1365.5,362.0 1366.1,364.5 1366.6,361.9 1367.2,362.7 1367.7,362.2 1368.3,364.1 1368.8,362.5 1369.4,362.4 1369.9,364.3 1370.5,362.7 1371.0,362.1 1371.6,362.7 1372.1,362.8 1372.7,362.0 1373.2,362.5 1373.8,362.4 1374.3,363.1 1374.9,363.1 1375.4,363.1 1376.0,362.3 1376.5,363.0 1377.1,362.1 1377.6,363.2 1378.2,362.5 1378.7,361.8 1379.3,363.0 1379.8,360.8 1380.4,361.1 1380.9,361.2 1381.5,361.7 1382.0,360.7 1382.6,360.7 1383.1,360.1 1383.7,361.6 1384.2,360.8 1384.8,363.1 1385.3,361.9 1385.9,360.2 1386.4,362.1 1387.0,361.1 1387.5,361.7 1388.1,359.9 1388.6,361.6 1389.2,361.5 1389.7,360.1 1390.3,359.7 1390.8,359.9 1391.4,360.3 1391.9,362.0 1392.5,361.4 1393.0,361.0 1393.6,359.5 1394.1,359.2 1394.7,359.7 1395.2,359.0 1395.8,358.7 1396.3,358.8 1396.9,359.5 1397.4,358.6 1398.0,358.7 1398.5,358.1 1399.1,358.0 1399.6,357.7 1400.2,358.8 1400.7,357.8 1401.3,358.6 1401.8,357.0 1402.4,357.8 1402.9,355.6 1403.5,356.1 1404.0,356.1 1404.6,355.3 1405.1,355.4 1405.7,354.4 1406.2,354.6 1406.8,353.7 1407.3,353.8 1407.9,353.0 1408.4,351.8 1409.0,351.5 1409.5,351.1 1410.1,349.2 1410.6,349.3 1411.2,349.2 1411.7,346.9 1412.3,346.3 1412.8,345.1 1413.4,342.5 1413.9,342.8 1414.5,342.3 1415.0,338.0 1415.6,339.0 1416.1,335.2 1416.7,335.6 1417.2,331.7 1417.8,333.0 1418.3,331.3 1418.9,329.6 1419.4,329.6 1420.0,329.5 1420.5,329.9 1421.1,331.6 1421.6,332.0 1422.2,331.3 1422.7,334.3 1423.3,336.3 1423.8,337.5 1424.4,340.3 1424.9,339.0 1425.5,342.1 1426.0,343.4 1426.6,345.3 1427.1,344.9 1427.7,346.2 1428.2,348.2 1428.8,349.5 1429.3,348.9 1429.9,351.5 1430.4,352.0 1431.0,353.3 1431.5,351.2 1432.1,354.3 1432.6,353.7 1433.2,354.5 1433.7,355.9 1434.3,357.0 1434.8,356.1 1435.4,356.2 1435.9,357.6 1436.5,356.1 1437.0,356.9 1437.6,356.9 1438.1,356.7 1438.7,357.9 1439.2,359.6 1439.8,358.3 1440.3,358.7 1440.9,358.4 1441.4,359.5 1442.0,358.9 1442.5,358.2 1443.1,359.2 1443.6,360.4 1444.2,359.3 1444.7,360.5 1445.3,359.6 1445.8,361.4 1446.4,360.2 1446.9,360.6 1447.5,360.0 1448.0,361.0 1448.6,360.3 1449.1,359.4 1449.7,360.9 1450.2,359.8 1450.8,362.1 1451.3,361.6 1451.9,361.1 1452.4,361.7 1453.0,359.2 1453.5,362.6 1454.1,360.9 1454.6,362.1 1455.2,363.7 1455.7,360.4 1456.3,361.5 1456.8,362.2 1457.4,362.3 1457.9,360.7 1458.5,361.3 1459.0,363.4 1459.6,361.7 1460.1,362.7 1460.7,361.3 1461.2,361.7 1461.8,361.0 1462.3,362.8 1462.9,363.5 1463.4,362.7 1464.0,362.5 1464.5,362.9 1465.1,363.2 1465.6,362.6 1466.2,363.3 1466.7,364.5 1467.3,364.8 1467.8,362.5 1468.4,362.0 1468.9,364.6 1469.5,363.9 1470.0,364.1 1470.6,363.7 1471.1,363.0 1471.7,364.0 1472.2,364.2 1472.8,364.3 1473.3,362.5 1473.9,364.2 1474.4,363.1 1475.0,363.1 1475.5,363.7 1476.1,363.2 1476.6,365.4 1477.2,364.0 1477.7,363.7 1478.3,363.4 1478.8,363.8 1479.4,363.4 1479.9,364.1 1480.5,364.3 1481.0,364.3 1481.6,362.6 1482.1,363.4 1482.7,363.8 1483.2,362.7 1483.8,364.0 1484.3,363.6 1484.9,363.8 1485.4,364.1 1486.0,363.3 1486.5,365.0 1487.1,364.6 1487.6,363.4 1488.2,364.2 1488.7,364.4 1489.3,363.2 1489.8,363.6 1490.4,364.4 1490.9,361.8 1491.5,362.8 1492.0,364.1 1492.6,364.4 1493.1,363.2 1493.7,364.6 1494.2,365.7 1494.8,364.1 1495.3,363.9 1495.9,364.0 1496.4,363.1 1497.0,364.4 1497.5,364.1 1498.1,364.6 1498.6,365.1 1499.2,364.0 1499.7,364.1 1500.3,364.3 1500.8,365.4 1501.4,362.8 1501.9,364.0 1502.5,363.5 1503.0,364.1 1503.6,364.7 1504.1,364.1 1504.7,364.6 1505.2,364.2 1505.8,363.5 1506.3,363.5 1506.9,362.9 1507.4,364.2 1508.0,363.7 1508.5,364.7 1509.1,364.8 1509.6,363.4 1510.2,363.2 1510.7,364.6 1511.3,363.4 1511.8,364.2 1512.4,364.6 1512.9,363.8 1513.5,365.5 1514.0,363.5 1514.6,364.4 1515.1,363.8 1515.7,361.8 1516.2,364.0 1516.8,364.0 1517.3,364.6 1517.9,364.0 1518.4,363.5 1519.0,363.7 1519.5,363.9 1520.1,364.7 1520.6,363.9 1521.2,365.1 1521.7,364.8 1522.3,363.5 1522.8,365.0 1523.4,362.3 1523.9,364.1 1524.5,363.3 1525.0,364.0 1525.6,365.1 1526.1,364.1 1526.7,364.0 1527.2,365.2 1527.8,363.5 1528.3,363.5 1528.9,364.9 1529.4,364.6 1530.0,363.0 1530.5,364.2 1531.1,364.8 1531.6,364.0 1532.2,363.8 1532.7,364.2 1533.3,364.3 1533.8,363.6 1534.4,364.8 1534.9,362.8 1535.5,364.1 1536.0,365.8 1536.6,363.3 1537.1,364.1 1537.7,362.3 1538.2,363.4 1538.8,363.2 1539.3,364.1 1539.9,363.7 1540.4,365.6 1541.0,363.3 1541.5,364.1 1542.1,364.2 1542.6,364.6 1543.2,364.8 1543.7,362.8 1544.3,365.8 1544.8,363.8 1545.4,363.5 1545.9,362.7 1546.5,363.7 1547.0,362.6 1547.6,364.2 1548.1,363.5 1548.7,364.3 1549.2,363.4 1549.8,364.0 1550.3,365.8 1550.9,364.9 1551.4,364.1 1552.0,363.2 1552.5,365.1 1553.1,362.6 1553.6,362.8 1554.2,364.9 1554.7,363.4 1555.3,365.0 1555.8,364.3 1556.4,365.6 1556.9,365.3 1557.5,364.3 1558.0,363.3 1558.6,364.2 1559.1,364.9 1559.7,363.8 1560.2,361.4 1560.8,363.4 1561.3,363.4 1561.9,363.6 1562.4,363.3 1563.0,364.5 1563.5,362.5 1564.1,363.9 1564.6,361.9 1565.2,361.7 1565.7,362.6 1566.3,362.8 1566.8,362.6 1567.4,362.7 1567.9,363.7 1568.5,363.6 1569.0,363.2 1569.6,363.2 1570.1,362.4 1570.7,362.1 1571.2,361.6 1571.8,362.4 1572.3,361.7 1572.9,362.2 1573.4,362.9 1574.0,362.7 1574.5,363.1 1575.1,361.1 1575.6,359.9 1576.2,360.6 1576.7,362.9 1577.3,361.6 1577.8,360.4 1578.4,361.5 1578.9,359.8 1579.5,361.1 1580.0,359.0 1580.6,358.6 1581.1,359.0 1581.7,357.0 1582.2,357.2 1582.8,358.4 1583.3,356.5 1583.9,354.7 1584.4,354.7 1585.0,354.2 1585.5,352.9 1586.1,353.1 1586.6,353.0 1587.2,351.4 1587.7,351.4 1588.3,350.3 1588.8,349.6 1589.4,348.4 1589.9,349.4 1590.5,349.5 1591.0,347.9 1591.6,347.6 1592.1,348.9 1592.7,348.9 1593.2,350.1 1593.8,350.1 1594.3,350.1 1594.9,349.8 1595.4,352.1 1596.0,352.3 1596.5,351.9 1597.1,352.5 1597.6,352.9 1598.2,355.5 1598.7,355.3 1599.3,353.6 1599.8,356.1 1600.4,356.9 1600.9,357.8 1601.5,358.4 1602.0,358.5 1602.6,359.8 1603.1,360.4 1603.7,359.7 1604.2,361.4 1604.8,360.3 1605.3,360.0 1605.9,361.0 1606.4,359.9 1607.0,361.0 1607.5,360.5 1608.1,361.2 1608.6,361.8 1609.2,359.8 1609.7,362.1 1610.3,362.1 1610.8,361.7 1611.4,362.5 1611.9,362.2 1612.5,361.7 1613.0,361.1 1613.6,362.5 1614.1,362.5 1614.7,360.6 1615.2,361.2 1615.8,360.7 1616.3,362.2 1616.9,361.0 1617.4,360.3 1618.0,362.3 1618.5,361.3 1619.1,360.8 1619.6,360.6 1620.2,359.9 1620.7,359.8 1621.3,360.1 1621.8,359.3 1622.4,358.1 1622.9,358.1 1623.5,358.9 1624.0,356.4 1624.6,355.2 1625.1,355.7 1625.7,354.0 1626.2,356.3 1626.8,354.0 1627.3,353.3 1627.9,352.5 1628.4,353.2 1629.0,350.4 1629.5,350.7 1630.1,349.2 1630.6,351.4 1631.2,350.4 1631.7,352.1 1632.3,350.8 1632.8,350.6 1633.4,351.5 1633.9,353.3 1634.5,352.7 1635.0,354.3 1635.6,354.2 1636.1,354.9 1636.7,355.7 1637.2,358.1 1637.8,356.6 1638.3,358.3 1638.9,359.2 1639.4,358.5 1640.0,358.4 1640.5,361.2 1641.1,361.8 1641.6,360.6 1642.2,360.1 1642.7,362.1 1643.3,361.6 1643.8,361.2 1644.4,361.8 1644.9,360.4 1645.5,361.8 1646.0,361.6 1646.6,361.7 1647.1,363.3 1647.7,363.2 1648.2,364.4 1648.8,361.0 1649.3,362.7 1649.9,362.6 1650.4,364.4 1651.0,364.3 1651.5,363.6 1652.1,363.6 1652.6,363.0 1653.2,363.2 1653.7,363.3 1654.3,361.7 1654.8,365.3 1655.4,364.4 1655.9,365.5 1656.5,364.8 1657.0,364.3 1657.6,364.6 1658.1,362.6 1658.7,363.1 1659.2,364.7 1659.8,363.7 1660.3,362.7 1660.9,364.0 1661.4,363.0 1662.0,364.1 1662.5,365.4 1663.1,363.2 1663.6,363.8 1664.2,364.6 1664.7,364.1 1665.3,364.3 1665.8,363.5 1666.4,363.9 1666.9,362.3 1667.5,364.1 1668.0,365.3 1668.6,363.3 1669.1,364.1 1669.7,364.8 1670.2,365.3 1670.8,365.2 1671.3,363.6 1671.9,364.0 1672.4,365.7 1673.0,363.9 1673.5,364.6 1674.1,363.7 1674.6,363.8 1675.2,361.9 1675.7,363.9 1676.3,362.6 1676.8,363.5 1677.4,363.6 1677.9,365.5 1678.5,365.0 1679.0,364.7 1679.6,364.0 1680.1,363.3 1680.7,364.8 1681.2,363.7 1681.8,364.3 1682.3,365.2 1682.9,364.3 1683.4,364.4 1684.0,363.6 1684.5,365.3 1685.1,364.9 1685.6,365.0 1686.2,365.8 1686.7,363.1 1687.3,364.5 1687.8,365.0 1688.4,364.7 1688.9,364.7 1689.5,364.8 1690.0,363.2 1690.6,364.4 1691.1,365.4 1691.7,364.4 1692.2,364.3 1692.8,365.1 1693.3,363.0 1693.9,364.8 1694.4,365.7 1695.0,364.3 1695.5,363.8 1696.1,364.9 1696.6,364.1 1697.2,363.8 1697.7,364.6 1698.3,363.1 1698.8,365.0 1699.4,363.5 1699.9,364.0 1700.5,365.0 1701.0,364.4 1701.6,364.7 1702.1,365.6 1702.7,365.7 1703.2,366.1 1703.8,364.0 1704.3,365.2 1704.9,363.1 1705.4,365.1 1706.0,365.5 1706.5,363.9 1707.1,364.8 1707.6,365.1 1708.2,364.3 1708.7,363.9 1709.3,365.6 1709.8,363.4 1710.4,364.6 1710.9,365.2 1711.5,364.6 1712.0,365.7 1712.6,365.6 1713.1,364.8 1713.7,365.8 1714.2,365.0 1714.8,363.4 1715.3,364.1 1715.9,364.6 1716.4,364.5 1717.0,363.0 1717.5,366.2 1718.1,363.1 1718.6,363.4 1719.2,364.7 1719.7,364.5 1720.3,365.5 1720.8,364.5 1721.4,364.6 1721.9,364.9 1722.5,363.7 1723.0,363.2 1723.6,363.9 1724.1,365.0 1724.7,364.0 1725.2,365.2 1725.8,363.7 1726.3,364.8 1726.9,364.2 1727.4,364.8 1728.0,364.1 1728.5,364.3 1729.1,363.7 1729.6,365.1 1730.2,364.0 1730.7,364.4 1731.3,364.5 1731.8,363.2 1732.4,363.3 1732.9,363.9 1733.5,364.9 1734.0,363.0 1734.6,363.0 1735.1,363.0 1735.7,363.4 1736.2,362.8 1736.8,363.0 1737.3,364.0 1737.9,362.7 1738.4,363.5 1739.0,362.5 1739.5,363.2 1740.1,363.7 1740.6,361.6 1741.2,363.2 1741.7,363.3 1742.3,363.0 1742.8,363.1 1743.4,363.1 1743.9,361.6 1744.5,362.5 1745.0,362.9 1745.6,363.3 1746.1,361.0 1746.7,361.4 1747.2,360.6 1747.8,361.4 1748.3,360.3 1748.9,360.1 1749.4,361.1 1750.0,362.0 1750.5,358.1 1751.1,360.6 1751.6,358.0 1752.2,358.8 1752.7,357.9 1753.3,358.0 1753.8,356.1 1754.4,354.8 1754.9,354.6 1755.5,354.5 1756.0,352.2 1756.6,352.3 1757.1,351.0 1757.7,350.1 1758.2,348.9 1758.8,348.4 1759.3,347.6 1759.9,345.8 1760.4,344.9 1761.0,342.8 1761.5,343.3 1762.1,342.4 1762.6,344.0 1763.2,342.6 1763.7,343.2 1764.3,344.6 1764.8,345.6 1765.4,346.5 1765.9,345.7 1766.5,347.5 1767.0,349.2 1767.6,348.6 1768.1,350.1 1768.7,350.3 1769.2,351.8 1769.8,353.8 1770.3,354.2 1770.9,354.6 1771.4,355.2 1772.0,357.6 1772.5,357.7 1773.1,356.7 1773.6,360.0 1774.2,358.4 1774.7,359.1 1775.3,359.2 1775.8,359.5 1776.4,360.7 1776.9,359.3 1777.5,360.7 1778.0,360.6 1778.6,362.4 1779.1,361.5 1779.7,361.6 1780.2,361.7 1780.8,361.7 1781.3,361.3 1781.9,359.2 1782.4,361.4 1783.0,360.7 1783.5,361.3 1784.1,360.8 1784.6,359.9 1785.2,359.4 1785.7,359.1 1786.3,359.9 1786.8,359.4 1787.4,358.6 1787.9,358.8 1788.5,359.2 1789.0,358.4 1789.6,358.8 1790.1,358.5 1790.7,357.0 1791.2,359.4 1791.8,359.6 1792.3,360.5 1792.9,361.2 1793.4,359.9 1794.0,361.3 1794.5,361.3 1795.1,361.5 1795.6,362.4 1796.2,362.7 1796.7,361.2 1797.3,363.7 1797.8,362.6 1798.4,362.4 1798.9,362.5 1799.5,363.1 1800.0,362.5 1800.6,364.4 1801.1,364.0 1801.7,363.0 1802.2,364.5 1802.8,364.1 1803.3,364.0 1803.9,364.8 1804.4,364.0 1805.0,363.9 1805.5,364.6 1806.1,362.7 1806.6,363.3 1807.2,364.7 1807.7,365.2 1808.3,363.0 1808.8,364.4 1809.4,363.8 1809.9,364.2 1810.5,364.9 1811.0,365.6 1811.6,365.9 1812.1,365.2 1812.7,365.0 1813.2,364.6 1813.8,363.0 1814.3,364.9 1814.9,363.6 1815.4,363.7 1816.0,364.7 1816.5,363.3 1817.1,366.0 1817.6,365.1 1818.2,364.9 1818.7,365.0 1819.3,364.8 1819.8,364.7 1820.4,365.2 1820.9,364.1 1821.5,364.9 1822.0,364.8 1822.6,365.3 1823.1,363.8 1823.7,364.9 1824.2,364.6 1824.8,365.2 1825.3,365.2 1825.9,364.9 1826.4,365.1 1827.0,365.1 1827.5,365.9 1828.1,365.0 1828.6,365.2 1829.2,364.0 1829.7,364.6 1830.3,365.4 1830.8,365.6 1831.4,364.0 1831.9,364.8 1832.5,364.6 1833.0,364.9 1833.6,364.4 1834.1,364.5 1834.7,364.8 1835.2,364.9 1835.8,365.7 1836.3,364.2 1836.9,364.1 1837.4,365.5 1838.0,365.3 1838.5,364.7 1839.1,363.9 1839.6,365.7 1840.2,364.0 1840.7,365.8 1841.3,365.1 1841.8,364.8 1842.4,364.8 1842.9,365.6 1843.5,364.9 1844.0,363.5 1844.6,364.3 1845.1,363.2 1845.7,365.2 1846.2,365.7 1846.8,365.8 1847.3,363.8 1847.9,366.6 1848.4,366.4 1849.0,364.8 1849.5,363.3 1850.1,364.2 1850.6,365.8 1851.2,366.6 1851.7,364.5 1852.3,363.5 1852.8,364.2 1853.4,366.5 1853.9,365.0 1854.5,363.8 1855.0,363.3 1855.6,365.5 1856.1,365.6 1856.7,364.6 1857.2,364.8 1857.8,365.0 1858.3,364.7 1858.9,364.5 1859.4,364.5 1860.0,364.5 1860.5,366.0 1861.1,365.3 1861.6,365.8 1862.2,366.5 1862.7,363.2 1863.3,364.9 1863.8,365.8 1864.4,364.8 1864.9,364.5 1865.5,365.3 1866.0,364.6 1866.6,364.3 1867.1,364.8 1867.7,365.1 1868.2,365.0 1868.8,365.7 1869.3,365.0 1869.9,364.6 1870.4,367.5 1871.0,364.8 1871.5,364.8 1872.1,364.9 1872.6,364.5 1873.2,363.8 1873.7,365.2 1874.3,366.2 1874.8,363.6 1875.4,364.4 1875.9,365.4 1876.5,364.5 1877.0,365.5 1877.6,365.0 1878.1,364.2 1878.7,364.9 1879.2,364.6 1879.8,365.5 1880.3,363.0 1880.9,365.4 1881.4,366.1 1882.0,365.2 1882.5,365.3 1883.1,364.6 1883.6,365.3 1884.2,365.0 1884.7,364.0 1885.3,364.1 1885.8,363.2" fill="none" stroke="#000080" stroke-width="8.10" stroke-linejoin="round" stroke-linecap="round"/>
<path d="M232.0,736.0 232.6,735.8 233.1,736.8 233.7,736.0 234.2,735.9 234.8,736.0 235.3,735.7 235.9,735.7 236.4,736.0 237.0,735.7 237.5,736.1 238.1,735.8 238.6,735.4 239.2,735.5 239.7,735.6 240.3,735.3 240.8,735.8 241.4,735.8 241.9,736.1 242.5,735.6 243.0,735.8 243.6,736.0 244.1,736.1 244.7,735.6 245.2,736.3 245.8,735.7 246.3,736.2 246.9,735.8 247.4,735.7 248.0,735.5 248.5,735.8 249.1,736.5 249.6,735.7 250.2,736.3 250.7,736.2 251.3,735.8 251.8,736.1 252.4,736.2 252.9,735.8 253.5,735.7 254.0,736.1 254.6,735.9 255.1,736.4 255.7,736.0 256.2,735.5 256.8,735.8 257.3,735.5 257.9,736.0 258.4,736.0 259.0,735.7 259.5,735.6 260.1,736.1 260.6,735.7 261.2,736.2 261.7,735.6 262.3,735.8 262.8,735.7 263.4,735.6 263.9,736.6 264.5,736.3 265.0,735.7 265.6,736.0 266.1,735.4 266.7,736.2 267.2,736.1 267.8,735.7 268.3,735.7 268.9,735.9 269.4,736.0 270.0,735.7 270.5,735.6 271.1,735.8 271.6,735.7 272.2,736.0 272.7,735.9 273.3,735.9 273.8,735.4 274.4,735.7 274.9,735.7 275.5,735.7 276.0,735.8 276.6,735.7 277.1,735.4 277.7,736.1 278.2,736.1 278.8,735.7 279.3,736.0 279.9,735.6 280.4,735.5 281.0,735.8 281.5,736.2 282.1,735.8 282.6,735.4 283.2,735.9 283.7,735.7 284.3,735.6 284.8,735.9 285.4,735.4 285.9,735.3 286.5,735.4 287.0,736.1 287.6,735.8 288.1,735.7 288.7,735.6 289.2,736.0 289.8,736.1 290.3,735.6 290.9,735.9 291.4,736.4 292.0,736.0 292.5,735.7 293.1,735.9 293.6,735.8 294.2,736.0 294.7,735.9 295.3,735.7 295.8,735.8 296.4,735.9 296.9,735.6 297.5,735.8 298.0,735.6 298.6,736.1 299.1,736.2 299.7,735.6 300.2,736.0 300.8,735.8 301.3,735.8 301.9,735.7 302.4,735.9 303.0,736.1 303.5,735.5 304.1,736.1 304.6,735.7 305.2,735.5 305.7,735.8 306.3,736.0 306.8,735.8 307.4,735.9 307.9,735.7 308.5,735.7 309.0,736.1 309.6,735.5 310.1,736.0 310.7,735.9 311.2,735.7 311.8,735.7 312.3,735.7 312.9,735.8 313.4,735.8 314.0,735.7 314.5,735.3 315.1,735.2 315.6,735.9 316.2,735.6 316.7,735.6 317.3,735.7 317.8,735.5 318.4,736.2 318.9,735.8 319.5,735.7 320.0,735.5 320.6,736.0 321.1,736.0 321.7,736.1 322.2,736.0 322.8,735.5 323.3,735.4 323.9,736.1 324.4,735.6 325.0,735.7 325.5,735.7 326.1,735.9 326.6,735.9 327.2,735.5 327.7,735.6 328.3,735.3 328.8,735.9 329.4,735.7 329.9,735.3 330.5,736.0 331.0,735.7 331.6,735.5 332.1,735.6 332.7,735.6 333.2,735.8 333.8,735.8 334.3,735.6 334.9,735.8 335.4,735.1 336.0,735.6 336.5,735.9 337.1,736.0 337.6,735.9 338.2,735.4 338.7,735.3 339.3,735.6 339.8,736.3 340.4,735.8 340.9,735.5 341.5,735.3 342.0,735.7 342.6,735.6 343.1,735.8 343.7,735.7 344.2,735.1 344.8,735.7 345.3,735.9 345.9,735.5 346.4,735.4 347.0,735.4 347.5,735.3 348.1,736.2 348.6,736.0 349.2,735.5 349.7,736.0 350.3,735.4 350.8,735.5 351.4,735.5 351.9,735.6 352.5,735.8 353.0,736.2 353.6,735.8 354.1,735.6 354.7,735.7 355.2,735.6 355.8,735.7 356.3,735.4 356.9,735.7 357.4,735.8 358.0,735.9 358.5,735.4 359.1,735.7 359.6,735.7 360.2,735.4 360.7,735.1 361.3,735.5 361.8,735.8 362.4,735.5 362.9,736.2 363.5,735.8 364.0,735.4 364.6,735.6 365.1,735.7 365.7,735.7 366.2,735.5 366.8,735.7 367.3,736.3 367.9,735.8 368.4,735.6 369.0,735.5 369.5,735.1 370.1,735.6 370.6,735.5 371.2,735.6 371.7,735.4 372.3,735.8 372.8,735.8 373.4,735.4 373.9,735.2 374.5,735.6 375.0,735.9 375.6,735.6 376.1,735.7 376.7,735.2 377.2,735.4 377.8,735.7 378.3,735.6 378.9,735.5 379.4,735.7 380.0,735.7 380.5,735.5 381.1,735.3 381.6,735.1 382.2,735.6 382.7,735.4 383.3,735.4 383.8,735.8 384.4,735.3 384.9,735.4 385.5,735.6 386.0,735.2 386.6,734.9 387.1,735.3 387.7,735.7 388.2,735.3 388.8,735.4 389.3,735.0 389.9,735.7 390.4,735.0 391.0,735.3 391.5,735.4 392.1,735.9 392.6,735.4 393.2,735.2 393.7,735.0 394.3,735.3 394.8,735.1 395.4,735.2 395.9,735.4 396.5,735.7 397.0,735.1 397.6,735.7 398.1,734.9 398.7,735.8 399.2,735.2 399.8,735.2 400.3,735.2 400.9,735.4 401.4,735.3 402.0,735.2 402.5,735.1 403.1,735.2 403.6,735.3 404.2,735.1 404.7,735.1 405.3,734.9 405.8,735.3 406.4,735.4 406.9,735.0 407.5,735.5 408.0,735.2 408.6,735.3 409.1,734.8 409.7,735.4 410.2,735.5 410.8,735.7 411.3,735.0 411.9,735.2 412.4,735.4 413.0,735.3 413.5,735.0 414.1,735.2 414.6,735.4 415.2,735.3 415.7,735.1 416.3,735.4 416.8,734.7 417.4,735.2 417.9,734.9 418.5,735.0 419.0,735.3 419.6,735.5 420.1,735.1 420.7,735.1 421.2,735.4 421.8,735.2 422.3,734.4 422.9,734.8 423.4,734.8 424.0,734.8 424.5,734.6 425.1,735.1 425.6,735.0 426.2,735.3 426.7,734.8 427.3,734.9 427.8,734.7 428.4,735.1 428.9,735.2 429.5,735.2 430.0,735.1 430.6,734.6 431.1,735.1 431.7,734.5 432.2,734.6 432.8,734.7 433.3,735.2 433.9,734.5 434.4,734.4 435.0,734.7 435.5,734.9 436.1,734.8 436.6,734.7 437.2,734.4 437.7,734.5 438.3,734.9 438.8,734.6 439.4,734.4 439.9,734.4 440.5,734.8 441.0,734.9 441.6,734.5 442.1,734.2 442.7,734.8 443.2,734.2 443.8,734.4 444.3,734.4 444.9,734.3 445.4,734.2 446.0,734.6 446.5,734.3 447.1,733.8 447.6,734.0 448.2,734.4 448.7,734.0 449.3,733.8 449.8,734.3 450.4,734.1 450.9,734.0 451.5,734.1 452.0,733.8 452.6,733.9 453.1,734.0 453.7,733.6 454.2,734.1 454.8,733.4 455.3,734.2 455.9,733.6 456.4,733.7 457.0,733.2 457.5,733.7 458.1,733.2 458.6,733.5 459.2,733.4 459.7,733.1 460.3,733.7 460.8,733.2 461.4,733.0 461.9,733.0 462.5,733.1 463.0,733.0 463.6,733.1 464.1,732.7 464.7,732.8 465.2,732.6 465.8,732.5 466.3,732.8 466.9,732.3 467.4,732.0 468.0,732.5 468.5,732.1 469.1,732.3 469.6,732.2 470.2,732.1 470.7,731.9 471.3,732.2 471.8,731.5 472.4,731.9 472.9,731.5 473.5,731.5 474.0,731.2 474.6,731.4 475.1,731.2 475.7,730.8 476.2,730.8 476.8,730.8 477.3,730.5 477.9,731.0 478.4,730.4 479.0,729.9 479.5,730.1 480.1,729.8 480.6,729.4 481.2,729.2 481.7,728.7 482.3,729.1 482.8,729.0 483.4,728.4 483.9,728.0 484.5,727.5 485.0,727.3 485.6,727.3 486.1,726.8 486.7,726.6 487.2,726.1 487.8,725.8 488.3,725.4 488.9,725.0 489.4,724.5 490.0,724.0 490.5,723.2 491.1,722.6 491.6,721.7 492.2,721.1 492.7,720.3 493.3,719.5 493.8,718.0 494.4,716.8 494.9,715.6 495.5,713.9 496.0,712.5 496.6,710.6 497.1,708.3 497.7,706.5 498.2,703.4 498.8,700.6 499.3,696.8 499.9,693.8 500.4,689.7 501.0,685.3 501.5,679.8 502.1,675.0 502.6,669.1 503.2,663.1 503.7,656.3 504.3,648.9 504.8,641.1 505.4,633.3 505.9,624.4 506.5,614.4 507.0,605.0 507.6,594.9 508.1,583.9 508.7,572.9 509.2,561.0 509.8,549.3 510.3,536.4 510.9,523.0 511.4,509.6 512.0,495.1 512.5,480.3 513.1,464.0 513.6,447.0 514.2,429.7 514.7,424.5 515.3,442.2 515.8,458.7 516.4,475.7 516.9,490.9 517.5,505.2 518.0,519.2 518.6,532.7 519.1,545.1 519.7,558.1 520.2,569.3 520.8,581.0 521.3,591.9 521.9,602.2 522.4,612.0 523.0,621.9 523.5,630.2 524.1,639.0 524.6,647.3 525.2,654.1 525.7,660.8 526.3,667.5 526.8,672.8 527.4,678.7 527.9,683.6 528.5,688.2 529.0,692.3 529.6,696.4 530.1,699.6 530.7,702.4 531.2,705.7 531.8,707.6 532.3,710.4 532.9,711.8 533.4,713.5 534.0,715.2 534.5,717.0 535.1,717.9 535.6,719.0 536.2,719.6 536.7,720.9 537.3,721.6 537.8,722.3 538.4,722.9 538.9,723.3 539.5,724.6 540.0,724.5 540.6,725.4 541.1,725.8 541.7,726.1 542.2,726.5 542.8,726.9 543.3,727.0 543.9,727.4 544.4,727.8 545.0,728.0 545.5,728.2 546.1,727.8 546.6,728.7 547.2,728.6 547.7,729.4 548.3,729.6 548.8,729.6 549.4,729.8 549.9,729.4 550.5,730.0 551.0,730.0 551.6,730.8 552.1,730.1 552.7,731.2 553.2,730.7 553.8,730.4 554.3,731.4 554.9,731.1 555.4,731.3 556.0,731.6 556.5,731.0 557.1,731.4 557.6,731.7 558.2,732.0 558.7,731.8 559.3,732.1 559.8,731.5 560.4,732.2 560.9,731.9 561.5,732.1 562.0,732.3 562.6,732.6 563.1,732.3 563.7,732.6 564.2,732.5 564.8,732.8 565.3,732.6 565.9,733.1 566.4,732.5 567.0,732.6 567.5,733.2 568.1,732.8 568.6,733.2 569.2,733.2 569.7,732.7 570.3,733.1 570.8,733.1 571.4,733.2 571.9,732.9 572.5,733.3 573.0,733.4 573.6,733.1 574.1,733.4 574.7,733.5 575.2,733.1 575.8,733.5 576.3,733.8 576.9,733.8 577.4,733.3 578.0,733.4 578.5,733.7 579.1,733.8 579.6,733.9 580.2,733.8 580.7,734.0 581.3,733.6 581.8,734.3 582.4,733.8 582.9,733.6 583.4,733.7 584.0,733.4 584.5,733.7 585.1,733.8 585.6,734.0 586.2,734.2 586.7,733.7 587.3,733.8 587.8,734.2 588.4,734.3 588.9,734.2 589.5,734.1 590.0,733.7 590.6,733.9 591.1,733.7 591.7,733.9 592.2,734.4 592.8,734.5 593.3,734.0 593.9,734.2 594.4,734.4 595.0,733.8 595.5,733.8 596.1,733.9 596.6,733.6 597.2,734.3 597.7,734.1 598.3,734.0 598.8,734.1 599.4,734.2 599.9,734.1 600.5,733.8 601.0,734.3 601.6,734.0 602.1,734.2 602.7,733.9 603.2,734.1 603.8,733.7 604.3,734.1 604.9,734.0 605.4,734.3 606.0,733.8 606.5,733.8 607.1,734.2 607.6,733.5 608.2,734.1 608.7,733.9 609.3,733.8 609.8,733.9 610.4,733.8 610.9,733.6 611.5,734.0 612.0,733.6 612.6,733.8 613.1,733.7 613.7,733.5 614.2,733.5 614.8,733.7 615.3,733.5 615.9,733.9 616.4,733.7 617.0,733.4 617.5,733.7 618.1,732.8 618.6,733.7 619.2,732.9 619.7,732.8 620.3,733.4 620.8,732.6 621.4,732.7 621.9,732.9 622.5,732.2 623.0,732.6 623.6,732.7 624.1,732.1 624.7,732.5 625.2,731.7 625.8,732.1 626.3,731.6 626.9,731.3 627.4,730.9 628.0,730.4 628.5,730.6 629.1,729.6 629.6,729.5 630.2,729.2 630.7,728.5 631.3,728.0 631.8,726.9 632.4,726.0 632.9,725.5 633.5,724.5 634.0,723.8 634.6,721.9 635.1,721.1 635.7,719.9 636.2,718.2 636.8,716.4 637.3,715.2 637.9,713.6 638.4,711.3 639.0,709.3 639.5,707.2 640.1,705.0 640.6,702.5 641.2,701.4 641.7,698.0 642.3,695.8 642.8,693.1 643.4,689.8 643.9,687.2 644.5,684.5 645.0,681.1 645.6,677.7 646.1,673.7 646.7,669.9 647.2,669.7 647.8,673.9 648.3,677.0 648.9,680.7 649.4,684.0 650.0,687.0 650.5,689.8 651.1,692.4 651.6,695.5 652.2,697.8 652.7,700.5 653.3,702.7 653.8,705.0 654.4,707.3 654.9,709.2 655.5,711.7 656.0,713.0 656.6,715.2 657.1,716.7 657.7,718.5 658.2,719.4 658.8,721.2 659.3,722.5 659.9,723.9 660.4,724.9 661.0,725.7 661.5,726.5 662.1,727.3 662.6,728.2 663.2,728.9 663.7,729.3 664.3,730.0 664.8,729.8 665.4,730.8 665.9,731.4 666.5,731.3 667.0,731.4 667.6,732.2 668.1,731.6 668.7,732.6 669.2,732.2 669.8,732.8 670.3,732.5 670.9,733.3 671.4,733.1 672.0,733.1 672.5,733.3 673.1,733.8 673.6,733.9 674.2,733.7 674.7,733.6 675.3,734.1 675.8,733.9 676.4,733.8 676.9,734.4 677.5,733.6 678.0,734.2 678.6,734.5 679.1,734.3 679.7,734.3 680.2,734.5 680.8,734.1 681.3,734.4 681.9,734.4 682.4,734.7 683.0,734.6 683.5,734.6 684.1,734.9 684.6,734.9 685.2,734.3 685.7,735.3 686.3,734.8 686.8,734.6 687.4,735.2 687.9,734.2 688.5,734.5 689.0,734.9 689.6,734.7 690.1,734.6 690.7,734.8 691.2,735.3 691.8,734.9 692.3,735.2 692.9,735.2 693.4,735.0 694.0,735.0 694.5,734.9 695.1,735.1 695.6,735.3 696.2,735.0 696.7,735.1 697.3,735.2 697.8,735.1 698.4,735.2 698.9,734.7 699.5,735.3 700.0,734.8 700.6,735.4 701.1,735.2 701.7,735.1 702.2,734.9 702.8,735.5 703.3,735.2 703.9,735.2 704.4,734.8 705.0,735.7 705.5,735.2 706.1,735.1 706.6,735.6 707.2,735.5 707.7,734.7 708.3,735.3 708.8,735.7 709.4,735.3 709.9,735.2 710.5,735.6 711.0,735.6 711.6,735.2 712.1,735.2 712.7,735.3 713.2,735.3 713.8,735.1 714.3,735.3 714.9,735.6 715.4,735.1 716.0,735.7 716.5,735.6 717.1,735.6 717.6,735.7 718.2,735.3 718.7,735.1 719.3,735.8 719.8,735.5 720.4,735.6 720.9,735.7 721.5,735.2 722.0,735.5 722.6,735.5 723.1,735.3 723.7,735.3 724.2,735.5 724.8,735.6 725.3,735.8 725.9,735.8 726.4,735.9 727.0,735.4 727.5,735.6 728.1,735.5 728.6,735.5 729.2,735.4 729.7,735.9 730.3,735.9 730.8,735.6 731.4,734.9 731.9,735.3 732.5,735.4 733.0,736.0 733.6,735.9 734.1,735.5 734.7,735.8 735.2,735.7 735.8,735.6 736.3,735.6 736.9,735.4 737.4,735.4 738.0,735.6 738.5,735.4 739.1,735.7 739.6,735.6 740.2,735.4 740.7,735.7 741.3,735.5 741.8,735.6 742.4,735.4 742.9,735.8 743.5,735.7 744.0,735.6 744.6,735.6 745.1,735.8 745.7,735.5 746.2,735.2 746.8,736.1 747.3,735.7 747.9,735.9 748.4,735.5 749.0,735.3 749.5,735.4 750.1,735.8 750.6,735.6 751.2,735.6 751.7,735.6 752.3,735.3 752.8,736.1 753.4,735.5 753.9,735.4 754.5,735.4 755.0,735.8 755.6,736.0 756.1,735.7 756.7,735.8 757.2,735.6 757.8,736.0 758.3,735.8 758.9,735.8 759.4,735.5 760.0,736.0 760.5,735.9 761.1,735.6 761.6,735.5 762.2,735.8 762.7,735.4 763.3,735.7 763.8,735.5 764.4,735.5 764.9,736.0 765.5,735.5 766.0,735.3 766.6,736.1 767.1,735.6 767.7,736.0 768.2,735.7 768.8,735.5 769.3,735.3 769.9,735.7 770.4,735.8 771.0,735.6 771.5,735.6 772.1,735.5 772.6,735.7 773.2,735.8 773.7,735.7 774.3,735.2 774.8,735.5 775.4,735.6 775.9,735.6 776.5,735.3 777.0,735.6 777.6,735.4 778.1,735.3 778.7,735.8 779.2,735.5 779.8,736.0 780.3,736.0 780.9,735.3 781.4,735.8 782.0,735.4 782.5,735.9 783.1,736.0 783.6,736.1 784.2,736.0 784.7,735.4 785.3,735.8 785.8,735.4 786.4,735.9 786.9,735.9 787.5,735.7 788.0,736.0 788.6,735.5 789.1,735.6 789.7,735.5 790.2,735.3 790.8,735.8 791.3,735.8 791.9,735.5 792.4,735.5 793.0,735.4 793.5,735.9 794.1,735.9 794.6,735.6 795.2,735.7 795.7,735.6 796.3,735.5 796.8,735.8 797.4,736.0 797.9,735.3 798.5,736.0 799.0,735.5 799.6,735.7 800.1,735.4 800.7,735.6 801.2,735.7 801.8,735.7 802.3,736.4 802.9,735.7 803.4,735.7 804.0,735.7 804.5,735.9 805.1,735.9 805.6,735.9 806.2,735.8 806.7,735.8 807.3,735.2 807.8,735.8 808.4,735.5 808.9,735.8 809.5,735.6 810.0,735.9 810.6,735.7 811.1,735.9 811.7,735.3 812.2,736.0 812.8,735.4 813.3,736.2 813.9,735.4 814.4,735.8 815.0,735.5 815.5,735.8 816.1,736.0 816.6,735.5 817.2,735.8 817.7,736.0 818.3,735.5 818.8,736.0 819.4,735.6 819.9,735.9 820.5,735.5 821.0,736.5 821.6,735.7 822.1,735.3 822.7,735.9 823.2,735.7 823.8,735.4 824.3,735.7 824.9,735.5 825.4,735.8 826.0,735.5 826.5,735.5 827.1,735.8 827.6,735.8 828.2,735.8 828.7,735.8 829.3,735.7 829.8,735.8 830.4,736.1 830.9,736.0 831.5,735.9 832.0,736.1 832.6,735.3 833.1,736.0 833.7,735.3 834.2,735.6 834.8,735.5 835.3,735.9 835.9,736.1 836.4,735.6 837.0,735.3 837.5,736.0 838.1,735.7 838.6,735.4 839.2,736.3 839.7,735.8 840.3,735.8 840.8,735.8 841.4,735.7 841.9,735.9 842.5,735.8 843.0,736.0 843.6,735.4 844.1,735.7 844.7,736.0 845.2,735.5 845.8,735.9 846.3,735.5 846.9,736.0 847.4,736.1 848.0,735.9 848.5,735.7 849.1,735.5 849.6,735.6 850.2,735.8 850.7,735.7 851.3,735.5 851.8,735.8 852.4,735.4 852.9,736.0 853.5,735.9 854.0,735.7 854.6,736.0 855.1,735.7 855.7,736.1 856.2,735.7 856.8,735.4 857.3,735.2 857.9,736.2 858.4,735.3 859.0,735.7 859.5,735.9 860.1,735.6 860.6,735.5 861.2,735.6 861.7,735.7 862.3,735.7 862.8,735.8 863.4,735.4 863.9,735.9 864.5,735.7 865.0,735.9 865.6,735.9 866.1,735.8 866.7,735.4 867.2,735.5 867.8,735.5 868.3,735.4 868.9,735.5 869.4,735.2 870.0,735.6 870.5,735.6 871.1,735.9 871.6,735.5 872.2,736.0 872.7,735.6 873.3,735.5 873.8,735.6 874.4,735.9 874.9,735.8 875.5,735.6 876.0,735.6 876.6,735.4 877.1,735.2 877.7,735.5 878.2,735.4 878.8,735.9 879.3,735.4 879.9,735.8 880.4,735.5 881.0,735.4 881.5,735.6 882.1,734.9 882.6,735.0 883.2,735.9 883.7,735.5 884.3,735.5 884.8,735.3 885.4,735.4 885.9,735.3 886.5,735.3 887.0,735.3 887.6,735.3 888.1,735.4 888.7,734.9 889.2,735.0 889.8,735.5 890.3,735.0 890.9,735.1 891.4,735.0 892.0,734.8 892.5,735.3 893.1,734.9 893.6,734.3 894.2,734.9 894.7,734.2 895.3,734.0 895.8,734.2 896.4,734.5 896.9,733.7 897.5,734.2 898.0,733.7 898.6,734.1 899.1,733.8 899.7,733.3 900.2,732.7 900.8,733.1 901.3,732.5 901.9,733.0 902.4,732.5 903.0,732.7 903.5,732.1 904.1,731.8 904.6,732.0 905.2,731.4 905.7,731.5 906.3,731.2 906.8,730.9 907.4,730.5 907.9,730.8 908.5,730.9 909.0,730.3 909.6,730.0 910.1,730.0 910.7,729.7 911.2,729.4 911.8,730.1 912.3,729.8 912.9,729.7 913.4,730.2 914.0,729.8 914.5,729.8 915.1,730.1 915.6,729.9 916.2,730.2 916.7,730.4 917.3,730.6 917.8,730.7 918.4,731.1 918.9,731.2 919.5,731.3 920.0,731.6 920.6,731.4 921.1,731.5 921.7,731.9 922.2,732.4 922.8,732.0 923.3,732.6 923.9,732.5 924.4,732.7 925.0,732.8 925.5,732.8 926.1,733.7 926.6,733.4 927.2,733.6 927.7,733.8 928.3,733.2 928.8,734.3 929.4,734.5 929.9,734.2 930.5,734.4 931.0,734.6 931.6,734.7 932.1,734.8 932.7,734.8 933.2,734.7 933.8,734.9 934.3,734.5 934.9,734.9 935.4,735.2 936.0,735.3 936.5,735.1 937.1,735.2 937.6,735.0 938.2,735.3 938.7,735.1 939.3,734.9 939.8,735.5 940.4,735.2 940.9,735.3 941.5,734.9 942.0,735.3 942.6,735.3 943.1,735.4 943.7,735.4 944.2,735.4 944.8,735.5 945.3,735.6 945.9,735.6 946.4,735.1 947.0,735.4 947.5,735.7 948.1,735.6 948.6,735.3 949.2,735.4 949.7,735.3 950.3,735.4 950.8,734.9 951.4,734.9 951.9,735.2 952.5,735.0 953.0,735.1 953.6,735.1 954.1,735.4 954.7,735.3 955.2,735.7 955.8,735.4 956.3,735.3 956.9,735.4 957.4,735.3 958.0,735.1 958.5,735.1 959.1,735.7 959.6,735.2 960.2,735.2 960.7,735.1 961.3,735.2 961.8,735.0 962.4,735.2 962.9,734.9 963.5,735.0 964.0,735.9 964.6,735.4 965.1,735.4 965.7,735.7 966.2,735.5 966.8,735.4 967.3,735.3 967.9,735.6 968.4,735.2 969.0,735.3 969.5,735.2 970.1,735.6 970.6,735.3 971.2,735.4 971.7,735.7 972.3,735.7 972.8,735.4 973.4,735.4 973.9,735.2 974.5,735.3 975.0,735.5 975.6,735.4 976.1,735.6 976.7,735.4 977.2,735.0 977.8,735.1 978.3,734.8 978.9,735.4 979.4,735.0 980.0,735.4 980.5,735.2 981.1,735.3 981.6,735.1 982.2,735.2 982.7,735.3 983.3,735.1 983.8,735.2 984.4,735.1 984.9,735.1 985.5,735.1 986.0,734.9 986.6,735.1 987.1,735.3 987.7,735.2 988.2,735.0 988.8,734.9 989.3,735.6 989.9,735.4 990.4,734.8 991.0,734.8 991.5,734.7 992.1,735.3 992.6,734.7 993.2,735.1 993.7,734.8 994.3,735.0 994.8,734.8 995.4,735.0 995.9,735.0 996.5,735.2 997.0,735.3 997.6,735.1 998.1,735.0 998.7,735.3 999.2,734.5 999.8,735.3 1000.3,734.8 1000.9,734.8 1001.4,735.2 1002.0,734.7 1002.5,734.8 1003.1,735.0 1003.6,735.1 1004.2,734.5 1004.7,734.9 1005.3,734.8 1005.8,734.7 1006.4,735.1 1006.9,735.3 1007.5,734.8 1008.0,734.8 1008.6,734.4 1009.1,734.5 1009.7,734.5 1010.2,734.6 1010.8,734.6 1011.3,734.3 1011.9,734.4 1012.4,734.2 1013.0,734.3 1013.5,734.4 1014.1,734.4 1014.6,734.3 1015.2,734.3 1015.7,734.2 1016.3,734.0 1016.8,734.4 1017.4,734.0 1017.9,734.0 1018.5,734.3 1019.0,734.1 1019.6,734.1 1020.1,734.4 1020.7,733.8 1021.2,733.6 1021.8,734.4 1022.3,733.7 1022.9,733.6 1023.4,734.2 1024.0,733.8 1024.5,733.6 1025.1,733.1 1025.6,733.5 1026.2,733.3 1026.7,733.6 1027.3,732.9 1027.8,733.4 1028.4,733.6 1028.9,733.2 1029.5,733.0 1030.0,732.4 1030.6,732.9 1031.1,732.7 1031.7,732.6 1032.2,732.4 1032.8,733.0 1033.3,732.9 1033.9,732.2 1034.4,732.2 1035.0,732.1 1035.5,731.9 1036.1,732.1 1036.6,732.0 1037.2,732.0 1037.7,731.7 1038.3,731.6 1038.8,731.7 1039.4,731.3 1039.9,731.1 1040.5,730.4 1041.0,730.6 1041.6,730.3 1042.1,730.2 1042.7,730.2 1043.2,729.5 1043.8,729.7 1044.3,728.9 1044.9,729.1 1045.4,728.1 1046.0,727.9 1046.5,727.0 1047.1,726.7 1047.6,725.8 1048.2,726.0 1048.7,725.1 1049.3,723.8 1049.8,723.7 1050.4,722.6 1050.9,721.5 1051.5,720.6 1052.0,719.6 1052.6,718.3 1053.1,717.0 1053.7,715.6 1054.2,714.1 1054.8,711.8 1055.3,710.3 1055.9,707.8 1056.4,705.8 1057.0,703.3 1057.5,701.0 1058.1,698.8 1058.6,695.8 1059.2,693.2 1059.7,689.5 1060.3,686.7 1060.8,682.3 1061.4,679.4 1061.9,675.8 1062.5,671.8 1063.0,667.4 1063.6,663.2 1064.1,658.9 1064.7,654.9 1065.2,650.0 1065.8,644.9 1066.3,639.5 1066.9,635.1 1067.4,629.3 1068.0,624.2 1068.5,617.8 1069.1,611.9 1069.6,605.9 1070.2,599.2 1070.7,592.4 1071.3,597.9 1071.8,604.6 1072.4,611.2 1072.9,617.0 1073.5,622.7 1074.0,628.5 1074.6,634.2 1075.1,639.1 1075.7,644.2 1076.2,649.1 1076.8,653.7 1077.3,657.9 1077.9,662.5 1078.4,666.9 1079.0,671.3 1079.5,674.9 1080.1,678.4 1080.6,682.3 1081.2,685.7 1081.7,688.7 1082.3,692.3 1082.8,695.8 1083.4,697.9 1083.9,700.8 1084.5,703.5 1085.0,705.6 1085.6,707.3 1086.1,710.0 1086.7,711.7 1087.2,713.4 1087.8,715.3 1088.3,716.7 1088.9,718.3 1089.4,719.7 1090.0,720.3 1090.5,721.8 1091.1,722.6 1091.6,723.5 1092.2,724.7 1092.7,725.0 1093.3,725.6 1093.8,726.0 1094.4,727.3 1094.9,727.5 1095.5,728.0 1096.0,728.1 1096.6,729.1 1097.1,728.5 1097.7,729.6 1098.2,730.1 1098.8,730.3 1099.3,730.3 1099.9,730.5 1100.4,730.6 1101.0,730.8 1101.5,731.0 1102.1,731.1 1102.6,731.3 1103.2,731.3 1103.7,731.6 1104.3,731.9 1104.8,732.2 1105.4,732.0 1105.9,732.3 1106.5,732.2 1107.0,732.6 1107.6,732.3 1108.1,732.2 1108.7,732.3 1109.2,732.5 1109.8,732.7 1110.3,733.3 1110.9,733.1 1111.4,733.1 1112.0,732.8 1112.5,733.0 1113.1,733.1 1113.6,734.0 1114.2,733.7 1114.7,733.7 1115.3,733.2 1115.8,733.4 1116.4,733.5 1116.9,733.7 1117.5,733.3 1118.0,733.9 1118.6,733.8 1119.1,733.4 1119.7,733.8 1120.2,734.2 1120.8,734.1 1121.3,734.2 1121.9,733.6 1122.4,734.3 1123.0,734.2 1123.5,734.2 1124.1,733.9 1124.6,733.9 1125.2,734.6 1125.7,734.4 1126.3,734.6 1126.8,734.7 1127.4,734.2 1127.9,734.3 1128.5,734.1 1129.0,734.8 1129.6,734.5 1130.1,734.5 1130.7,734.4 1131.2,734.6 1131.8,735.2 1132.3,734.4 1132.9,734.2 1133.4,734.9 1134.0,734.6 1134.5,735.1 1135.1,734.8 1135.6,734.9 1136.2,734.3 1136.7,734.7 1137.3,734.6 1137.8,734.8 1138.4,734.9 1138.9,734.8 1139.5,734.8 1140.0,735.2 1140.6,735.1 1141.1,735.4 1141.7,734.8 1142.2,734.7 1142.8,734.5 1143.3,734.7 1143.9,734.9 1144.4,735.3 1145.0,734.7 1145.5,734.6 1146.1,735.0 1146.6,734.9 1147.2,735.1 1147.7,734.9 1148.3,735.0 1148.8,735.0 1149.4,735.2 1149.9,734.6 1150.5,735.2 1151.0,734.7 1151.6,735.4 1152.1,735.0 1152.7,735.3 1153.2,735.0 1153.8,735.3 1154.3,735.3 1154.9,734.8 1155.4,735.4 1156.0,735.2 1156.5,735.0 1157.1,735.3 1157.6,734.7 1158.2,734.9 1158.7,735.5 1159.3,735.2 1159.8,735.5 1160.4,735.3 1160.9,735.5 1161.5,735.5 1162.0,735.4 1162.6,735.3 1163.1,735.1 1163.7,735.4 1164.2,735.8 1164.8,735.2 1165.3,735.5 1165.9,735.3 1166.4,735.4 1167.0,735.6 1167.5,735.0 1168.1,735.8 1168.6,735.2 1169.2,734.9 1169.7,734.9 1170.3,735.3 1170.8,735.8 1171.4,735.4 1171.9,735.2 1172.5,736.0 1173.0,735.1 1173.6,735.4 1174.1,735.5 1174.7,735.5 1175.2,735.5 1175.8,735.2 1176.3,735.8 1176.9,735.4 1177.4,735.6 1178.0,735.2 1178.5,735.0 1179.1,735.9 1179.6,735.4 1180.2,735.3 1180.7,735.2 1181.3,735.3 1181.8,735.5 1182.4,735.4 1182.9,735.4 1183.5,735.4 1184.0,735.1 1184.6,735.5 1185.1,735.6 1185.7,735.3 1186.2,735.3 1186.8,735.5 1187.3,735.1 1187.9,735.5 1188.4,735.3 1189.0,735.6 1189.5,736.0 1190.1,735.4 1190.6,735.2 1191.2,735.6 1191.7,735.5 1192.3,735.4 1192.8,735.4 1193.4,735.4 1193.9,735.6 1194.5,735.4 1195.0,735.5 1195.6,735.6 1196.1,735.8 1196.7,735.6 1197.2,735.7 1197.8,735.9 1198.3,735.4 1198.9,735.8 1199.4,735.7 1200.0,735.2 1200.5,735.3 1201.1,735.7 1201.6,734.9 1202.2,735.2 1202.7,735.9 1203.3,735.6 1203.8,735.8 1204.4,735.8 1204.9,735.2 1205.5,735.2 1206.0,735.9 1206.6,735.0 1207.1,735.2 1207.7,735.6 1208.2,735.2 1208.8,735.4 1209.3,735.6 1209.9,735.6 1210.4,735.4 1211.0,735.7 1211.5,735.6 1212.1,735.6 1212.6,735.6 1213.2,735.4 1213.7,735.3 1214.3,735.6 1214.8,735.3 1215.4,735.8 1215.9,735.1 1216.5,735.5 1217.0,735.8 1217.6,735.4 1218.1,735.4 1218.7,736.0 1219.2,735.6 1219.8,735.6 1220.3,735.5 1220.9,735.8 1221.4,735.8 1222.0,735.3 1222.5,735.2 1223.1,734.8 1223.6,735.5 1224.2,735.6 1224.7,735.9 1225.3,735.4 1225.8,735.7 1226.4,735.4 1226.9,735.2 1227.5,735.1 1228.0,735.3 1228.6,735.7 1229.1,735.5 1229.7,735.1 1230.2,735.7 1230.8,735.5 1231.3,735.2 1231.9,735.1 1232.4,735.7 1233.0,735.4 1233.5,735.4 1234.1,735.6 1234.6,735.0 1235.2,735.3 1235.7,735.8 1236.3,735.2 1236.8,735.4 1237.4,735.7 1237.9,735.5 1238.5,735.4 1239.0,735.1 1239.6,735.3 1240.1,735.3 1240.7,735.6 1241.2,735.0 1241.8,735.3 1242.3,735.4 1242.9,735.6 1243.4,735.4 1244.0,735.4 1244.5,735.4 1245.1,735.1 1245.6,735.9 1246.2,735.0 1246.7,735.3 1247.3,735.1 1247.8,735.4 1248.4,735.5 1248.9,735.6 1249.5,735.2 1250.0,735.0 1250.6,735.0 1251.1,735.3 1251.7,735.4 1252.2,735.8 1252.8,735.3 1253.3,735.1 1253.9,735.5 1254.4,734.9 1255.0,735.6 1255.5,735.3 1256.1,735.3 1256.6,735.0 1257.2,735.3 1257.7,735.4 1258.3,735.3 1258.8,735.2 1259.4,735.1 1259.9,734.9 1260.5,734.7 1261.0,735.4 1261.6,735.2 1262.1,734.9 1262.7,735.1 1263.2,735.1 1263.8,734.9 1264.3,734.8 1264.9,735.3 1265.4,735.0 1266.0,734.7 1266.5,734.7 1267.1,734.7 1267.6,734.9 1268.2,734.8 1268.7,735.2 1269.3,734.8 1269.8,734.6 1270.4,734.9 1270.9,734.6 1271.5,734.7 1272.0,734.7 1272.6,734.4 1273.1,734.6 1273.7,734.8 1274.2,734.8 1274.8,734.8 1275.3,734.9 1275.9,734.9 1276.4,734.9 1277.0,734.4 1277.5,734.7 1278.1,734.6 1278.6,734.5 1279.2,734.9 1279.7,734.3 1280.3,734.5 1280.8,734.9 1281.4,734.5 1281.9,734.4 1282.5,734.2 1283.0,734.7 1283.6,734.3 1284.1,734.4 1284.7,734.2 1285.2,734.4 1285.8,734.1 1286.3,733.9 1286.9,733.7 1287.4,734.7 1288.0,733.9 1288.5,734.3 1289.1,734.5 1289.6,733.5 1290.2,733.6 1290.7,733.9 1291.3,733.5 1291.8,733.5 1292.4,733.3 1292.9,733.5 1293.5,733.6 1294.0,733.6 1294.6,733.2 1295.1,733.2 1295.7,733.2 1296.2,733.2 1296.8,733.0 1297.3,733.1 1297.9,732.3 1298.4,732.8 1299.0,732.7 1299.5,732.7 1300.1,732.3 1300.6,732.5 1301.2,732.2 1301.7,732.1 1302.3,731.6 1302.8,731.2 1303.4,731.9 1303.9,731.3 1304.5,731.2 1305.0,730.4 1305.6,730.5 1306.1,730.1 1306.7,729.8 1307.2,730.1 1307.8,728.8 1308.3,728.8 1308.9,728.4 1309.4,728.4 1310.0,727.5 1310.5,726.8 1311.1,726.2 1311.6,724.7 1312.2,725.1 1312.7,724.2 1313.3,723.6 1313.8,722.2 1314.4,721.4 1314.9,720.6 1315.5,719.5 1316.0,718.2 1316.6,717.1 1317.1,715.7 1317.7,714.2 1318.2,713.1 1318.8,710.9 1319.3,709.5 1319.9,707.5 1320.4,706.6 1321.0,704.3 1321.5,702.7 1322.1,700.7 1322.6,698.4 1323.2,696.1 1323.7,694.0 1324.3,691.8 1324.8,689.0 1325.4,687.1 1325.9,684.1 1326.5,681.7 1327.0,679.1 1327.6,676.2 1328.1,673.7 1328.7,670.4 1329.2,667.7 1329.8,664.4 1330.3,661.3 1330.9,658.1 1331.4,654.0 1332.0,650.2 1332.5,646.9 1333.1,650.1 1333.6,653.7 1334.2,657.1 1334.7,660.7 1335.3,663.5 1335.8,666.9 1336.4,669.9 1336.9,673.1 1337.5,675.4 1338.0,678.9 1338.6,681.7 1339.1,683.6 1339.7,686.3 1340.2,688.2 1340.8,691.7 1341.3,693.7 1341.9,695.8 1342.4,698.0 1343.0,700.2 1343.5,702.6 1344.1,704.0 1344.6,705.8 1345.2,707.4 1345.7,709.9 1346.3,711.6 1346.8,712.5 1347.4,714.5 1347.9,715.0 1348.5,716.9 1349.0,717.8 1349.6,719.1 1350.1,720.5 1350.7,721.5 1351.2,722.3 1351.8,723.0 1352.3,724.1 1352.9,724.3 1353.4,725.5 1354.0,725.9 1354.5,726.7 1355.1,727.4 1355.6,727.7 1356.2,727.8 1356.7,728.4 1357.3,728.9 1357.8,729.2 1358.4,729.8 1358.9,730.0 1359.5,730.2 1360.0,730.6 1360.6,730.6 1361.1,731.1 1361.7,731.4 1362.2,731.2 1362.8,731.7 1363.3,731.9 1363.9,732.1 1364.4,732.3 1365.0,732.6 1365.5,731.9 1366.1,732.4 1366.6,732.4 1367.2,732.5 1367.7,732.6 1368.3,732.9 1368.8,733.0 1369.4,733.0 1369.9,732.9 1370.5,733.2 1371.0,733.0 1371.6,732.8 1372.1,733.7 1372.7,733.4 1373.2,733.6 1373.8,733.6 1374.3,733.2 1374.9,733.5 1375.4,733.6 1376.0,733.7 1376.5,733.3 1377.1,733.8 1377.6,733.6 1378.2,733.6 1378.7,734.1 1379.3,733.5 1379.8,734.4 1380.4,733.7 1380.9,733.9 1381.5,733.7 1382.0,733.8 1382.6,733.4 1383.1,734.2 1383.7,733.7 1384.2,733.6 1384.8,733.6 1385.3,733.4 1385.9,734.4 1386.4,734.0 1387.0,734.0 1387.5,733.6 1388.1,733.9 1388.6,734.1 1389.2,733.6 1389.7,733.7 1390.3,733.4 1390.8,733.4 1391.4,733.5 1391.9,733.5 1392.5,733.2 1393.0,733.3 1393.6,733.6 1394.1,732.9 1394.7,733.1 1395.2,732.7 1395.8,732.9 1396.3,733.2 1396.9,732.5 1397.4,733.0 1398.0,732.0 1398.5,731.9 1399.1,731.5 1399.6,731.7 1400.2,731.1 1400.7,730.9 1401.3,730.5 1401.8,730.2 1402.4,729.7 1402.9,729.3 1403.5,728.9 1404.0,728.5 1404.6,727.9 1405.1,727.4 1405.7,726.5 1406.2,726.4 1406.8,725.9 1407.3,725.3 1407.9,724.5 1408.4,724.3 1409.0,723.3 1409.5,723.1 1410.1,722.4 1410.6,721.8 1411.2,721.9 1411.7,720.8 1412.3,720.5 1412.8,720.3 1413.4,720.4 1413.9,720.2 1414.5,720.6 1415.0,720.8 1415.6,720.7 1416.1,721.1 1416.7,721.6 1417.2,721.5 1417.8,722.7 1418.3,723.6 1418.9,723.8 1419.4,725.0 1420.0,725.4 1420.5,725.8 1421.1,726.4 1421.6,726.8 1422.2,727.7 1422.7,728.0 1423.3,728.8 1423.8,729.0 1424.4,729.7 1424.9,729.8 1425.5,730.6 1426.0,730.3 1426.6,730.8 1427.1,731.3 1427.7,731.8 1428.2,731.6 1428.8,732.5 1429.3,732.3 1429.9,732.8 1430.4,732.7 1431.0,733.2 1431.5,733.5 1432.1,733.7 1432.6,733.6 1433.2,733.7 1433.7,734.0 1434.3,734.1 1434.8,734.3 1435.4,734.1 1435.9,734.3 1436.5,734.6 1437.0,734.2 1437.6,734.6 1438.1,734.7 1438.7,734.6 1439.2,734.0 1439.8,734.7 1440.3,734.8 1440.9,734.8 1441.4,735.2 1442.0,734.6 1442.5,735.2 1443.1,735.6 1443.6,735.2 1444.2,735.3 1444.7,735.2 1445.3,734.6 1445.8,735.1 1446.4,734.9 1446.9,735.2 1447.5,734.8 1448.0,735.6 1448.6,735.1 1449.1,735.0 1449.7,735.0 1450.2,735.4 1450.8,735.8 1451.3,735.7 1451.9,735.7 1452.4,734.8 1453.0,735.3 1453.5,735.3 1454.1,735.5 1454.6,735.5 1455.2,735.2 1455.7,735.4 1456.3,735.9 1456.8,735.3 1457.4,735.2 1457.9,735.5 1458.5,735.3 1459.0,735.7 1459.6,735.4 1460.1,735.5 1460.7,735.7 1461.2,735.2 1461.8,735.7 1462.3,735.5 1462.9,735.1 1463.4,735.7 1464.0,735.1 1464.5,735.8 1465.1,735.6 1465.6,735.4 1466.2,735.5 1466.7,735.3 1467.3,735.8 1467.8,735.5 1468.4,735.6 1468.9,735.8 1469.5,735.7 1470.0,735.7 1470.6,735.8 1471.1,735.4 1471.7,735.8 1472.2,735.3 1472.8,735.5 1473.3,735.5 1473.9,735.8 1474.4,735.5 1475.0,735.8 1475.5,735.6 1476.1,735.2 1476.6,735.3 1477.2,735.5 1477.7,735.7 1478.3,735.5 1478.8,735.8 1479.4,735.9 1479.9,736.0 1480.5,735.8 1481.0,736.0 1481.6,735.4 1482.1,735.7 1482.7,735.7 1483.2,735.7 1483.8,736.0 1484.3,735.9 1484.9,736.1 1485.4,736.0 1486.0,735.7 1486.5,735.6 1487.1,735.6 1487.6,735.7 1488.2,735.6 1488.7,736.1 1489.3,735.7 1489.8,735.8 1490.4,736.1 1490.9,735.9 1491.5,736.0 1492.0,735.5 1492.6,735.5 1493.1,735.8 1493.7,735.4 1494.2,735.8 1494.8,735.6 1495.3,735.8 1495.9,735.8 1496.4,736.1 1497.0,735.5 1497.5,735.9 1498.1,736.1 1498.6,735.9 1499.2,736.1 1499.7,735.7 1500.3,735.9 1500.8,735.5 1501.4,736.2 1501.9,735.8 1502.5,736.1 1503.0,736.0 1503.6,736.5 1504.1,735.7 1504.7,735.7 1505.2,735.7 1505.8,735.8 1506.3,735.8 1506.9,736.0 1507.4,735.5 1508.0,735.7 1508.5,736.3 1509.1,736.3 1509.6,735.6 1510.2,736.1 1510.7,735.6 1511.3,735.6 1511.8,735.9 1512.4,735.7 1512.9,736.0 1513.5,735.8 1514.0,735.9 1514.6,735.5 1515.1,736.0 1515.7,735.8 1516.2,736.4 1516.8,736.4 1517.3,735.5 1517.9,735.5 1518.4,735.7 1519.0,736.0 1519.5,736.0 1520.1,736.1 1520.6,736.1 1521.2,736.2 1521.7,735.9 1522.3,736.1 1522.8,735.7 1523.4,736.2 1523.9,736.1 1524.5,735.6 1525.0,735.7 1525.6,736.0 1526.1,736.1 1526.7,735.7 1527.2,736.1 1527.8,736.1 1528.3,735.7 1528.9,735.8 1529.4,735.7 1530.0,735.9 1530.5,736.0 1531.1,736.4 1531.6,735.7 1532.2,735.9 1532.7,735.6 1533.3,736.0 1533.8,735.8 1534.4,736.2 1534.9,736.1 1535.5,735.9 1536.0,736.1 1536.6,735.8 1537.1,736.6 1537.7,736.0 1538.2,735.9 1538.8,735.9 1539.3,736.4 1539.9,735.9 1540.4,735.8 1541.0,735.5 1541.5,735.7 1542.1,736.6 1542.6,736.0 1543.2,735.9 1543.7,736.1 1544.3,735.7 1544.8,736.0 1545.4,736.1 1545.9,736.1 1546.5,735.9 1547.0,735.8 1547.6,736.2 1548.1,736.1 1548.7,735.5 1549.2,735.9 1549.8,735.8 1550.3,735.7 1550.9,736.2 1551.4,735.7 1552.0,735.7 1552.5,735.8 1553.1,735.6 1553.6,736.2 1554.2,735.4 1554.7,736.2 1555.3,735.5 1555.8,735.7 1556.4,736.2 1556.9,736.3 1557.5,736.1 1558.0,736.3 1558.6,735.9 1559.1,736.0 1559.7,736.1 1560.2,735.7 1560.8,735.9 1561.3,736.3 1561.9,736.1 1562.4,735.9 1563.0,735.9 1563.5,736.5 1564.1,736.5 1564.6,736.0 1565.2,735.9 1565.7,736.2 1566.3,736.1 1566.8,736.1 1567.4,736.1 1567.9,736.3 1568.5,736.0 1569.0,736.0 1569.6,736.1 1570.1,736.4 1570.7,736.0 1571.2,735.8 1571.8,736.2 1572.3,736.0 1572.9,736.1 1573.4,736.2 1574.0,735.4 1574.5,736.1 1575.1,736.1 1575.6,736.5 1576.2,735.6 1576.7,735.7 1577.3,736.4 1577.8,735.5 1578.4,735.8 1578.9,735.7 1579.5,735.8 1580.0,736.0 1580.6,735.9 1581.1,735.9 1581.7,736.2 1582.2,736.7 1582.8,735.8 1583.3,736.1 1583.9,735.8 1584.4,735.9 1585.0,736.0 1585.5,736.4 1586.1,735.6 1586.6,736.4 1587.2,735.8 1587.7,736.0 1588.3,735.8 1588.8,736.3 1589.4,736.5 1589.9,736.3 1590.5,736.2 1591.0,736.3 1591.6,736.3 1592.1,736.0 1592.7,736.2 1593.2,736.4 1593.8,735.4 1594.3,736.3 1594.9,736.1 1595.4,736.6 1596.0,736.0 1596.5,735.8 1597.1,736.1 1597.6,735.8 1598.2,735.7 1598.7,736.3 1599.3,736.1 1599.8,735.8 1600.4,736.0 1600.9,735.9 1601.5,736.4 1602.0,735.5 1602.6,736.3 1603.1,736.0 1603.7,736.0 1604.2,735.6 1604.8,736.1 1605.3,736.1 1605.9,735.6 1606.4,735.4 1607.0,735.9 1607.5,735.7 1608.1,736.2 1608.6,736.0 1609.2,736.1 1609.7,736.0 1610.3,736.1 1610.8,735.8 1611.4,736.0 1611.9,735.8 1612.5,736.3 1613.0,735.9 1613.6,736.0 1614.1,735.9 1614.7,736.2 1615.2,735.9 1615.8,736.0 1616.3,735.8 1616.9,736.1 1617.4,736.1 1618.0,736.0 1618.5,736.0 1619.1,736.0 1619.6,736.1 1620.2,736.1 1620.7,736.3 1621.3,736.2 1621.8,736.3 1622.4,736.0 1622.9,736.3 1623.5,735.7 1624.0,736.1 1624.6,735.9 1625.1,736.0 1625.7,735.9 1626.2,735.8 1626.8,736.2 1627.3,736.3 1627.9,736.4 1628.4,736.0 1629.0,735.9 1629.5,736.4 1630.1,736.3 1630.6,736.2 1631.2,736.0 1631.7,736.0 1632.3,735.9 1632.8,736.0 1633.4,736.1 1633.9,735.8 1634.5,736.1 1635.0,736.2 1635.6,735.8 1636.1,735.8 1636.7,735.9 1637.2,735.7 1637.8,736.4 1638.3,736.0 1638.9,735.7 1639.4,736.5 1640.0,735.8 1640.5,736.1 1641.1,736.4 1641.6,736.0 1642.2,735.9 1642.7,735.9 1643.3,736.1 1643.8,736.0 1644.4,735.7 1644.9,735.8 1645.5,735.8 1646.0,736.1 1646.6,735.8 1647.1,735.8 1647.7,735.9 1648.2,736.2 1648.8,735.7 1649.3,736.0 1649.9,735.7 1650.4,736.4 1651.0,735.6 1651.5,735.3 1652.1,736.1 1652.6,736.4 1653.2,735.8 1653.7,735.8 1654.3,735.5 1654.8,735.9 1655.4,735.8 1655.9,735.9 1656.5,735.9 1657.0,736.4 1657.6,736.1 1658.1,736.0 1658.7,735.8 1659.2,735.6 1659.8,736.1 1660.3,735.7 1660.9,735.6 1661.4,736.5 1662.0,735.8 1662.5,736.3 1663.1,736.2 1663.6,736.1 1664.2,735.6 1664.7,736.0 1665.3,736.4 1665.8,736.1 1666.4,736.3 1666.9,735.8 1667.5,736.1 1668.0,735.4 1668.6,736.4 1669.1,735.8 1669.7,735.8 1670.2,736.0 1670.8,735.8 1671.3,736.0 1671.9,735.3 1672.4,735.9 1673.0,736.0 1673.5,735.8 1674.1,735.8 1674.6,735.7 1675.2,735.9 1675.7,735.7 1676.3,736.1 1676.8,736.1 1677.4,736.1 1677.9,735.8 1678.5,735.4 1679.0,735.8 1679.6,735.5 1680.1,735.6 1680.7,735.6 1681.2,735.7 1681.8,735.5 1682.3,735.9 1682.9,735.9 1683.4,735.9 1684.0,736.0 1684.5,736.1 1685.1,735.4 1685.6,735.8 1686.2,735.4 1686.7,736.0 1687.3,735.7 1687.8,735.6 1688.4,736.1 1688.9,735.8 1689.5,735.8 1690.0,736.4 1690.6,735.5 1691.1,735.8 1691.7,735.9 1692.2,735.7 1692.8,735.5 1693.3,735.5 1693.9,735.5 1694.4,735.4 1695.0,734.9 1695.5,735.5 1696.1,735.9 1696.6,735.5 1697.2,735.4 1697.7,735.1 1698.3,735.2 1698.8,735.1 1699.4,734.9 1699.9,734.5 1700.5,735.1 1701.0,735.1 1701.6,735.2 1702.1,734.9 1702.7,734.3 1703.2,734.0 1703.8,735.0 1704.3,734.3 1704.9,734.1 1705.4,734.0 1706.0,734.1 1706.5,733.9 1707.1,733.9 1707.6,733.4 1708.2,733.8 1708.7,733.8 1709.3,733.0 1709.8,732.6 1710.4,732.4 1710.9,732.2 1711.5,731.9 1712.0,731.3 1712.6,730.8 1713.1,730.9 1713.7,730.4 1714.2,729.9 1714.8,729.4 1715.3,729.0 1715.9,728.5 1716.4,728.7 1717.0,727.7 1717.5,727.0 1718.1,727.0 1718.6,726.8 1719.2,725.9 1719.7,725.9 1720.3,725.1 1720.8,725.5 1721.4,725.3 1721.9,725.3 1722.5,724.8 1723.0,725.1 1723.6,725.4 1724.1,725.3 1724.7,725.9 1725.2,726.0 1725.8,726.2 1726.3,726.8 1726.9,727.2 1727.4,727.7 1728.0,727.9 1728.5,728.6 1729.1,729.0 1729.6,729.7 1730.2,729.6 1730.7,730.7 1731.3,730.5 1731.8,731.0 1732.4,731.5 1732.9,732.1 1733.5,731.5 1734.0,732.0 1734.6,732.4 1735.1,732.9 1735.7,732.8 1736.2,733.5 1736.8,733.5 1737.3,733.1 1737.9,733.8 1738.4,733.6 1739.0,734.1 1739.5,734.6 1740.1,735.0 1740.6,734.6 1741.2,735.0 1741.7,734.6 1742.3,734.7 1742.8,735.1 1743.4,734.8 1743.9,735.0 1744.5,735.0 1745.0,735.2 1745.6,735.4 1746.1,734.7 1746.7,735.1 1747.2,734.8 1747.8,735.6 1748.3,735.3 1748.9,735.8 1749.4,735.5 1750.0,735.3 1750.5,735.6 1751.1,735.5 1751.6,735.9 1752.2,735.7 1752.7,735.4 1753.3,735.4 1753.8,735.5 1754.4,735.8 1754.9,735.4 1755.5,735.8 1756.0,735.7 1756.6,735.9 1757.1,735.7 1757.7,735.8 1758.2,735.5 1758.8,735.6 1759.3,736.3 1759.9,735.7 1760.4,735.7 1761.0,735.6 1761.5,735.6 1762.1,736.1 1762.6,735.8 1763.2,735.5 1763.7,735.6 1764.3,736.1 1764.8,735.9 1765.4,736.1 1765.9,735.8 1766.5,735.9 1767.0,736.1 1767.6,735.8 1768.1,736.1 1768.7,735.8 1769.2,736.2 1769.8,736.0 1770.3,736.0 1770.9,736.2 1771.4,736.0 1772.0,736.0 1772.5,736.1 1773.1,736.0 1773.6,736.2 1774.2,735.9 1774.7,735.9 1775.3,735.8 1775.8,736.4 1776.4,736.6 1776.9,736.1 1777.5,736.1 1778.0,736.1 1778.6,736.4 1779.1,735.8 1779.7,736.0 1780.2,736.3 1780.8,735.8 1781.3,736.3 1781.9,736.4 1782.4,736.1 1783.0,735.5 1783.5,736.2 1784.1,736.1 1784.6,736.1 1785.2,736.2 1785.7,735.7 1786.3,735.7 1786.8,736.3 1787.4,736.2 1787.9,736.1 1788.5,736.4 1789.0,736.6 1789.6,736.5 1790.1,735.7 1790.7,735.4 1791.2,735.4 1791.8,736.0 1792.3,736.2 1792.9,736.4 1793.4,735.7 1794.0,736.1 1794.5,735.7 1795.1,736.0 1795.6,736.0 1796.2,736.0 1796.7,736.3 1797.3,736.2 1797.8,735.9 1798.4,735.8 1798.9,735.8 1799.5,735.8 1800.0,736.2 1800.6,736.0 1801.1,736.3 1801.7,735.9 1802.2,736.1 1802.8,736.1 1803.3,735.9 1803.9,736.0 1804.4,736.1 1805.0,736.0 1805.5,736.4 1806.1,735.7 1806.6,735.8 1807.2,735.9 1807.7,735.9 1808.3,736.5 1808.8,736.0 1809.4,736.0 1809.9,735.5 1810.5,736.1 1811.0,735.8 1811.6,736.4 1812.1,736.1 1812.7,735.9 1813.2,736.2 1813.8,736.2 1814.3,736.4 1814.9,736.1 1815.4,735.8 1816.0,736.1 1816.5,735.9 1817.1,736.9 1817.6,736.2 1818.2,736.2 1818.7,736.4 1819.3,736.0 1819.8,736.2 1820.4,736.4 1820.9,736.3 1821.5,735.9 1822.0,736.1 1822.6,735.8 1823.1,735.7 1823.7,735.9 1824.2,736.4 1824.8,736.1 1825.3,736.0 1825.9,736.1 1826.4,735.7 1827.0,736.1 1827.5,736.0 1828.1,736.4 1828.6,736.0 1829.2,735.8 1829.7,736.2 1830.3,736.2 1830.8,736.0 1831.4,736.2 1831.9,736.2 1832.5,736.1 1833.0,736.1 1833.6,736.0 1834.1,736.0 1834.7,736.0 1835.2,736.0 1835.8,736.1 1836.3,736.3 1836.9,736.4 1837.4,736.3 1838.0,736.3 1838.5,736.4 1839.1,736.2 1839.6,736.2 1840.2,735.7 1840.7,735.9 1841.3,736.0 1841.8,736.0 1842.4,735.7 1842.9,736.2 1843.5,735.9 1844.0,735.7 1844.6,736.1 1845.1,735.5 1845.7,736.2 1846.2,736.4 1846.8,736.1 1847.3,736.1 1847.9,736.3 1848.4,736.2 1849.0,736.0 1849.5,736.5 1850.1,736.2 1850.6,736.5 1851.2,735.7 1851.7,736.2 1852.3,736.2 1852.8,736.2 1853.4,736.3 1853.9,736.3 1854.5,736.0 1855.0,736.3 1855.6,736.0 1856.1,736.2 1856.7,736.3 1857.2,736.2 1857.8,736.2 1858.3,735.8 1858.9,735.9 1859.4,735.8 1860.0,736.1 1860.5,736.0 1861.1,735.9 1861.6,736.1 1862.2,736.2 1862.7,735.7 1863.3,736.1 1863.8,735.8 1864.4,735.9 1864.9,736.1 1865.5,736.1 1866.0,736.2 1866.6,735.9 1867.1,736.1 1867.7,736.6 1868.2,735.8 1868.8,736.4 1869.3,736.3 1869.9,736.0 1870.4,736.5 1871.0,736.7 1871.5,735.9 1872.1,736.1 1872.6,736.4 1873.2,735.7 1873.7,736.0 1874.3,736.4 1874.8,736.2 1875.4,735.7 1875.9,736.0 1876.5,736.3 1877.0,735.8 1877.6,736.0 1878.1,735.9 1878.7,736.1 1879.2,735.9 1879.8,735.9 1880.3,736.4 1880.9,736.4 1881.4,735.6 1882.0,735.9 1882.5,735.9 1883.1,736.7 1883.6,736.4 1884.2,736.6 1884.7,736.3 1885.3,736.5 1885.8,736.2" fill="none" stroke="#800080" stroke-width="8.10" stroke-linejoin="round" stroke-linecap="round"/>
<path d="M232.0,976.7 232.6,976.9 233.1,977.2 233.7,976.9 234.2,976.7 234.8,976.6 235.3,977.2 235.9,977.0 236.4,976.8 237.0,976.8 237.5,976.3 238.1,977.1 238.6,976.8 239.2,977.0 239.7,977.4 240.3,976.9 240.8,977.0 241.4,977.3 241.9,977.0 242.5,977.1 243.0,976.7 243.6,976.8 244.1,976.6 244.7,977.3 245.2,977.4 245.8,976.9 246.3,977.0 246.9,976.9 247.4,977.8 248.0,977.3 248.5,977.0 249.1,977.2 249.6,977.4 250.2,976.8 250.7,977.2 251.3,977.2 251.8,977.0 252.4,977.2 252.9,977.4 253.5,977.0 254.0,976.9 254.6,977.3 255.1,977.1 255.7,977.1 256.2,977.6 256.8,977.1 257.3,977.0 257.9,976.7 258.4,977.1 259.0,977.1 259.5,977.2 260.1,977.2 260.6,977.2 261.2,977.1 261.7,977.0 262.3,977.2 262.8,976.8 263.4,976.7 263.9,976.7 264.5,977.0 265.0,976.5 265.6,976.9 266.1,976.9 266.7,977.1 267.2,976.7 267.8,977.0 268.3,977.0 268.9,976.8 269.4,977.0 270.0,976.9 270.5,976.7 271.1,976.9 271.6,976.7 272.2,977.5 272.7,976.9 273.3,976.8 273.8,976.6 274.4,977.0 274.9,977.1 275.5,977.0 276.0,976.6 276.6,976.7 277.1,976.7 277.7,977.0 278.2,976.7 278.8,976.9 279.3,977.4 279.9,976.4 280.4,976.9 281.0,976.9 281.5,976.5 282.1,977.2 282.6,976.9 283.2,977.0 283.7,977.1 284.3,977.3 284.8,976.7 285.4,976.7 285.9,976.6 286.5,976.6 287.0,977.4 287.6,976.8 288.1,976.4 288.7,977.1 289.2,977.4 289.8,976.6 290.3,976.9 290.9,976.5 291.4,976.3 292.0,976.8 292.5,976.6 293.1,976.6 293.6,976.9 294.2,977.0 294.7,976.8 295.3,977.2 295.8,976.7 296.4,976.8 296.9,977.1 297.5,977.5 298.0,977.4 298.6,977.1 299.1,976.9 299.7,976.5 300.2,977.3 300.8,976.8 301.3,977.5 301.9,976.9 302.4,976.3 303.0,977.1 303.5,976.9 304.1,976.7 304.6,976.9 305.2,976.8 305.7,976.9 306.3,976.3 306.8,976.8 307.4,976.9 307.9,976.5 308.5,977.2 309.0,976.8 309.6,976.2 310.1,977.2 310.7,976.7 311.2,976.8 311.8,976.7 312.3,977.3 312.9,976.8 313.4,976.6 314.0,976.6 314.5,976.9 315.1,976.9 315.6,976.6 316.2,977.0 316.7,976.6 317.3,976.8 317.8,976.9 318.4,976.8 318.9,976.8 319.5,976.8 320.0,976.6 320.6,976.8 321.1,976.8 321.7,976.4 322.2,976.3 322.8,976.8 323.3,976.7 323.9,976.8 324.4,976.9 325.0,976.8 325.5,976.5 326.1,976.8 326.6,976.5 327.2,977.2 327.7,977.0 328.3,976.7 328.8,976.5 329.4,976.8 329.9,976.6 330.5,976.4 331.0,976.8 331.6,976.7 332.1,976.9 332.7,976.6 333.2,977.2 333.8,977.1 334.3,976.2 334.9,976.1 335.4,976.4 336.0,977.0 336.5,976.8 337.1,976.6 337.6,976.7 338.2,976.3 338.7,976.6 339.3,976.3 339.8,976.6 340.4,976.5 340.9,976.4 341.5,976.4 342.0,976.7 342.6,977.1 343.1,976.1 343.7,976.7 344.2,976.4 344.8,977.0 345.3,976.8 345.9,976.3 346.4,976.5 347.0,976.9 347.5,977.0 348.1,976.3 348.6,976.2 349.2,976.6 349.7,976.8 350.3,976.7 350.8,976.5 351.4,976.6 351.9,976.6 352.5,976.5 353.0,976.2 353.6,976.6 354.1,976.5 354.7,976.7 355.2,976.4 355.8,976.2 356.3,976.6 356.9,976.6 357.4,976.9 358.0,976.0 358.5,976.2 359.1,976.3 359.6,976.9 360.2,975.7 360.7,976.6 361.3,976.1 361.8,976.0 362.4,976.5 362.9,976.5 363.5,975.4 364.0,975.9 364.6,976.3 365.1,976.1 365.7,976.5 366.2,976.0 366.8,976.1 367.3,975.6 367.9,976.3 368.4,976.2 369.0,976.4 369.5,976.0 370.1,976.7 370.6,976.0 371.2,976.6 371.7,976.6 372.3,975.9 372.8,976.2 373.4,975.9 373.9,975.6 374.5,976.2 375.0,976.1 375.6,976.4 376.1,976.5 376.7,975.5 377.2,975.9 377.8,976.1 378.3,976.2 378.9,976.0 379.4,975.7 380.0,975.9 380.5,976.1 381.1,975.5 381.6,975.5 382.2,975.5 382.7,975.7 383.3,976.2 383.8,975.7 384.4,976.0 384.9,976.2 385.5,976.1 386.0,975.8 386.6,975.7 387.1,975.7 387.7,975.6 388.2,975.5 388.8,975.8 389.3,975.9 389.9,975.5 390.4,975.4 391.0,975.6 391.5,975.6 392.1,975.8 392.6,975.6 393.2,975.5 393.7,975.1 394.3,975.3 394.8,975.4 395.4,975.2 395.9,975.5 396.5,975.4 397.0,975.1 397.6,975.4 398.1,975.6 398.7,975.9 399.2,975.2 399.8,975.1 400.3,975.4 400.9,975.6 401.4,975.0 402.0,975.3 402.5,975.0 403.1,975.3 403.6,974.8 404.2,974.9 404.7,974.9 405.3,974.9 405.8,974.6 406.4,974.8 406.9,974.6 407.5,975.3 408.0,975.1 408.6,974.6 409.1,974.6 409.7,974.7 410.2,974.5 410.8,974.4 411.3,974.7 411.9,974.8 412.4,974.6 413.0,974.8 413.5,974.4 414.1,974.3 414.6,974.1 415.2,974.1 415.7,973.9 416.3,974.5 416.8,974.3 417.4,973.9 417.9,973.9 418.5,973.6 419.0,974.0 419.6,973.7 420.1,973.6 420.7,973.5 421.2,973.1 421.8,973.3 422.3,973.8 422.9,973.0 423.4,972.9 424.0,973.0 424.5,972.7 425.1,972.6 425.6,972.4 426.2,972.4 426.7,972.5 427.3,971.7 427.8,971.9 428.4,971.7 428.9,972.0 429.5,971.5 430.0,971.7 430.6,971.2 431.1,971.5 431.7,970.6 432.2,971.3 432.8,970.3 433.3,970.3 433.9,969.8 434.4,969.7 435.0,969.9 435.5,969.4 436.1,968.7 436.6,968.6 437.2,968.6 437.7,967.9 438.3,967.2 438.8,966.9 439.4,966.4 439.9,965.3 440.5,965.1 441.0,964.6 441.6,964.5 442.1,963.5 442.7,962.7 443.2,961.4 443.8,960.9 444.3,959.8 444.9,959.3 445.4,958.2 446.0,957.6 446.5,956.3 447.1,955.3 447.6,954.2 448.2,953.2 448.7,951.6 449.3,950.2 449.8,949.0 450.4,948.4 450.9,945.9 451.5,944.3 452.0,943.1 452.6,940.9 453.1,939.8 453.7,937.6 454.2,936.0 454.8,934.2 455.3,932.1 455.9,930.5 456.4,928.4 457.0,926.6 457.5,924.4 458.1,922.0 458.6,920.2 459.2,918.0 459.7,915.6 460.3,913.4 460.8,911.3 461.4,908.5 461.9,906.7 462.5,904.0 463.0,901.7 463.6,899.4 464.1,897.4 464.7,893.9 465.2,891.3 465.8,889.4 466.3,886.5 466.9,884.0 467.4,880.9 468.0,879.0 468.5,876.0 469.1,872.8 469.6,870.6 470.2,867.5 470.7,864.4 471.3,865.9 471.8,869.8 472.4,871.9 472.9,875.1 473.5,877.5 474.0,880.1 474.6,883.3 475.1,885.8 475.7,888.3 476.2,890.6 476.8,893.4 477.3,895.9 477.9,898.6 478.4,900.6 479.0,903.1 479.5,905.6 480.1,907.1 480.6,910.2 481.2,912.8 481.7,914.8 482.3,917.0 482.8,919.3 483.4,921.6 483.9,922.9 484.5,925.3 485.0,927.3 485.6,929.2 486.1,931.8 486.7,933.2 487.2,935.3 487.8,937.3 488.3,939.2 488.9,940.2 489.4,941.8 490.0,943.3 490.5,945.5 491.1,946.6 491.6,948.5 492.2,950.0 492.7,951.6 493.3,952.0 493.8,953.6 494.4,954.7 494.9,955.2 495.5,957.1 496.0,958.2 496.6,958.4 497.1,959.9 497.7,960.7 498.2,961.4 498.8,961.9 499.3,962.6 499.9,964.2 500.4,964.5 501.0,964.9 501.5,965.7 502.1,965.6 502.6,966.6 503.2,966.8 503.7,966.6 504.3,967.5 504.8,968.4 505.4,968.7 505.9,969.0 506.5,969.2 507.0,969.6 507.6,969.3 508.1,970.0 508.7,971.1 509.2,970.5 509.8,970.6 510.3,971.5 510.9,971.1 511.4,971.2 512.0,971.5 512.5,971.7 513.1,971.4 513.6,971.9 514.2,971.9 514.7,971.7 515.3,972.3 515.8,972.4 516.4,972.3 516.9,972.4 517.5,973.0 518.0,972.0 518.6,973.1 519.1,973.0 519.7,973.0 520.2,973.0 520.8,973.1 521.3,973.5 521.9,973.0 522.4,973.8 523.0,973.0 523.5,973.6 524.1,973.5 524.6,974.0 525.2,973.8 525.7,973.2 526.3,973.8 526.8,973.5 527.4,973.9 527.9,973.8 528.5,973.6 529.0,973.6 529.6,974.0 530.1,973.9 530.7,973.9 531.2,973.7 531.8,974.2 532.3,973.9 532.9,973.6 533.4,973.7 534.0,974.7 534.5,974.2 535.1,974.0 535.6,974.0 536.2,974.2 536.7,974.3 537.3,974.3 537.8,974.6 538.4,974.2 538.9,974.5 539.5,974.4 540.0,974.3 540.6,974.6 541.1,974.6 541.7,974.2 542.2,974.7 542.8,974.4 543.3,974.1 543.9,975.1 544.4,974.9 545.0,974.0 545.5,974.6 546.1,974.6 546.6,974.5 547.2,974.3 547.7,974.6 548.3,974.6 548.8,974.4 549.4,974.8 549.9,974.1 550.5,973.8 551.0,974.8 551.6,975.0 552.1,974.1 552.7,974.2 553.2,975.1 553.8,974.5 554.3,974.8 554.9,974.8 555.4,974.5 556.0,974.2 556.5,974.9 557.1,974.5 557.6,974.1 558.2,974.0 558.7,974.4 559.3,973.9 559.8,974.9 560.4,974.4 560.9,974.5 561.5,974.1 562.0,974.3 562.6,973.5 563.1,973.8 563.7,974.1 564.2,973.6 564.8,973.6 565.3,973.5 565.9,974.0 566.4,974.0 567.0,973.6 567.5,973.7 568.1,973.5 568.6,973.0 569.2,973.1 569.7,973.1 570.3,973.3 570.8,973.0 571.4,973.2 571.9,972.6 572.5,972.8 573.0,972.5 573.6,972.7 574.1,972.1 574.7,972.1 575.2,971.1 575.8,971.6 576.3,971.1 576.9,971.0 577.4,970.6 578.0,969.8 578.5,970.4 579.1,969.9 579.6,969.1 580.2,968.9 580.7,968.0 581.3,967.9 581.8,966.5 582.4,966.5 582.9,965.6 583.4,964.3 584.0,963.9 584.5,963.4 585.1,962.0 585.6,961.2 586.2,960.4 586.7,959.4 587.3,958.5 587.8,957.4 588.4,956.4 588.9,955.1 589.5,954.2 590.0,952.8 590.6,952.5 591.1,951.0 591.7,950.2 592.2,949.2 592.8,948.7 593.3,947.7 593.9,947.9 594.4,947.1 595.0,946.8 595.5,947.2 596.1,947.2 596.6,947.2 597.2,947.4 597.7,948.3 598.3,949.1 598.8,949.6 599.4,950.9 599.9,951.6 600.5,953.0 601.0,953.8 601.6,954.6 602.1,955.4 602.7,956.8 603.2,957.6 603.8,959.8 604.3,960.6 604.9,961.6 605.4,962.2 606.0,963.2 606.5,963.4 607.1,964.6 607.6,965.0 608.2,966.3 608.7,966.7 609.3,967.8 609.8,967.7 610.4,968.6 610.9,969.3 611.5,969.3 612.0,970.0 612.6,970.7 613.1,970.3 613.7,971.0 614.2,971.3 614.8,971.6 615.3,971.3 615.9,972.0 616.4,971.8 617.0,973.0 617.5,972.7 618.1,973.0 618.6,972.9 619.2,973.3 619.7,973.2 620.3,973.5 620.8,973.9 621.4,973.8 621.9,974.0 622.5,974.1 623.0,974.3 623.6,974.2 624.1,974.3 624.7,974.3 625.2,973.9 625.8,974.3 626.3,974.9 626.9,974.7 627.4,974.6 628.0,974.4 628.5,974.6 629.1,975.1 629.6,975.4 630.2,975.1 630.7,974.7 631.3,974.5 631.8,975.0 632.4,975.7 632.9,975.4 633.5,975.0 634.0,975.2 634.6,975.2 635.1,975.6 635.7,975.8 636.2,975.7 636.8,974.9 637.3,975.7 637.9,975.9 638.4,975.3 639.0,975.7 639.5,975.7 640.1,975.1 640.6,975.1 641.2,975.4 641.7,975.4 642.3,975.7 642.8,975.4 643.4,975.4 643.9,975.5 644.5,976.1 645.0,975.6 645.6,976.1 646.1,976.0 646.7,975.6 647.2,975.9 647.8,975.6 648.3,975.8 648.9,976.0 649.4,975.8 650.0,975.8 650.5,975.9 651.1,975.8 651.6,976.3 652.2,975.5 652.7,975.9 653.3,975.6 653.8,975.8 654.4,975.9 654.9,976.6 655.5,975.9 656.0,975.9 656.6,976.1 657.1,975.9 657.7,975.7 658.2,976.2 658.8,976.2 659.3,976.0 659.9,976.0 660.4,976.4 661.0,976.0 661.5,975.8 662.1,975.9 662.6,975.3 663.2,976.4 663.7,976.2 664.3,976.3 664.8,975.6 665.4,976.4 665.9,976.1 666.5,976.2 667.0,976.6 667.6,976.4 668.1,975.7 668.7,976.0 669.2,976.2 669.8,976.1 670.3,976.0 670.9,976.2 671.4,976.2 672.0,976.1 672.5,976.4 673.1,975.9 673.6,976.1 674.2,975.8 674.7,976.2 675.3,976.4 675.8,976.7 676.4,976.0 676.9,975.8 677.5,975.9 678.0,976.1 678.6,976.5 679.1,975.9 679.7,976.2 680.2,976.8 680.8,976.4 681.3,976.5 681.9,976.4 682.4,976.0 683.0,976.6 683.5,976.8 684.1,976.3 684.6,976.3 685.2,976.2 685.7,976.5 686.3,976.2 686.8,976.8 687.4,976.3 687.9,976.4 688.5,976.6 689.0,976.0 689.6,975.8 690.1,976.4 690.7,976.1 691.2,975.8 691.8,976.2 692.3,976.6 692.9,976.2 693.4,976.6 694.0,976.2 694.5,976.3 695.1,975.8 695.6,976.1 696.2,976.4 696.7,976.3 697.3,976.0 697.8,976.4 698.4,977.2 698.9,976.7 699.5,976.5 700.0,976.0 700.6,976.0 701.1,976.3 701.7,976.1 702.2,976.6 702.8,976.1 703.3,976.4 703.9,976.3 704.4,976.4 705.0,976.2 705.5,976.3 706.1,976.4 706.6,976.6 707.2,976.4 707.7,976.1 708.3,976.1 708.8,976.2 709.4,976.2 709.9,976.3 710.5,976.4 711.0,976.9 711.6,976.4 712.1,976.3 712.7,976.6 713.2,976.6 713.8,976.5 714.3,976.2 714.9,976.5 715.4,976.7 716.0,976.0 716.5,976.4 717.1,976.3 717.6,976.7 718.2,976.9 718.7,976.4 719.3,976.5 719.8,976.8 720.4,976.9 720.9,977.1 721.5,976.4 722.0,977.1 722.6,976.5 723.1,976.6 723.7,976.3 724.2,976.6 724.8,976.3 725.3,976.7 725.9,976.3 726.4,976.5 727.0,976.1 727.5,976.1 728.1,976.5 728.6,976.6 729.2,976.6 729.7,976.5 730.3,976.1 730.8,976.4 731.4,976.9 731.9,976.3 732.5,976.6 733.0,976.6 733.6,976.5 734.1,976.5 734.7,976.8 735.2,976.5 735.8,977.2 736.3,976.2 736.9,976.7 737.4,976.5 738.0,976.1 738.5,976.9 739.1,976.7 739.6,976.6 740.2,976.8 740.7,976.1 741.3,976.6 741.8,976.8 742.4,976.4 742.9,976.3 743.5,976.7 744.0,976.1 744.6,976.3 745.1,976.6 745.7,977.0 746.2,976.8 746.8,976.6 747.3,976.8 747.9,976.3 748.4,976.1 749.0,976.5 749.5,976.2 750.1,976.4 750.6,976.3 751.2,976.3 751.7,976.0 752.3,976.0 752.8,976.5 753.4,976.4 753.9,976.4 754.5,976.5 755.0,976.6 755.6,976.3 756.1,976.0 756.7,976.5 757.2,977.1 757.8,976.5 758.3,976.7 758.9,976.6 759.4,976.3 760.0,976.5 760.5,976.4 761.1,976.3 761.6,977.0 762.2,976.4 762.7,976.3 763.3,976.1 763.8,976.5 764.4,977.1 764.9,976.6 765.5,977.1 766.0,976.5 766.6,976.3 767.1,976.1 767.7,976.3 768.2,976.6 768.8,975.8 769.3,976.5 769.9,976.7 770.4,976.6 771.0,975.9 771.5,976.0 772.1,976.3 772.6,975.8 773.2,976.3 773.7,976.2 774.3,976.5 774.8,976.4 775.4,976.4 775.9,976.4 776.5,976.5 777.0,976.5 777.6,976.0 778.1,976.6 778.7,976.5 779.2,976.1 779.8,976.3 780.3,976.6 780.9,976.2 781.4,976.5 782.0,976.0 782.5,976.4 783.1,977.0 783.6,976.8 784.2,976.8 784.7,976.8 785.3,976.5 785.8,976.4 786.4,976.7 786.9,976.4 787.5,976.1 788.0,976.7 788.6,976.8 789.1,976.6 789.7,976.6 790.2,976.2 790.8,976.6 791.3,976.4 791.9,976.6 792.4,976.3 793.0,976.3 793.5,976.0 794.1,976.5 794.6,976.0 795.2,975.9 795.7,976.3 796.3,976.4 796.8,976.2 797.4,976.7 797.9,976.6 798.5,976.0 799.0,976.2 799.6,976.2 800.1,977.2 800.7,976.2 801.2,976.2 801.8,976.5 802.3,976.6 802.9,976.3 803.4,976.8 804.0,976.0 804.5,976.7 805.1,976.2 805.6,976.9 806.2,976.8 806.7,976.3 807.3,976.5 807.8,976.2 808.4,976.1 808.9,976.5 809.5,975.8 810.0,976.8 810.6,976.0 811.1,977.0 811.7,976.4 812.2,976.2 812.8,976.1 813.3,976.5 813.9,975.7 814.4,976.5 815.0,976.2 815.5,976.1 816.1,976.1 816.6,976.2 817.2,976.6 817.7,976.6 818.3,976.5 818.8,975.9 819.4,976.7 819.9,976.4 820.5,976.4 821.0,976.0 821.6,976.6 822.1,976.3 822.7,976.5 823.2,976.6 823.8,976.9 824.3,976.4 824.9,975.9 825.4,976.5 826.0,976.0 826.5,976.3 827.1,976.0 827.6,976.7 828.2,976.9 828.7,975.7 829.3,976.0 829.8,976.2 830.4,975.7 830.9,976.0 831.5,976.3 832.0,976.3 832.6,975.8 833.1,976.3 833.7,976.5 834.2,976.5 834.8,976.0 835.3,976.0 835.9,976.1 836.4,976.7 837.0,976.5 837.5,975.9 838.1,976.4 838.6,976.2 839.2,976.0 839.7,976.4 840.3,976.2 840.8,976.6 841.4,976.7 841.9,976.1 842.5,976.4 843.0,976.7 843.6,976.1 844.1,976.1 844.7,976.2 845.2,976.4 845.8,975.8 846.3,976.4 846.9,976.1 847.4,976.4 848.0,976.3 848.5,977.0 849.1,976.2 849.6,976.5 850.2,976.2 850.7,976.5 851.3,976.3 851.8,975.6 852.4,975.6 852.9,975.9 853.5,976.1 854.0,976.6 854.6,976.0 855.1,976.3 855.7,976.0 856.2,976.3 856.8,976.0 857.3,976.0 857.9,976.0 858.4,975.7 859.0,976.4 859.5,976.2 860.1,975.9 860.6,975.8 861.2,976.1 861.7,976.1 862.3,976.1 862.8,976.0 863.4,976.6 863.9,976.1 864.5,975.9 865.0,976.2 865.6,976.2 866.1,976.3 866.7,976.0 867.2,976.0 867.8,975.7 868.3,976.0 868.9,976.2 869.4,975.8 870.0,976.2 870.5,976.3 871.1,976.1 871.6,976.1 872.2,976.3 872.7,975.8 873.3,975.8 873.8,976.1 874.4,976.1 874.9,976.2 875.5,975.3 876.0,976.2 876.6,975.6 877.1,975.9 877.7,975.6 878.2,975.8 878.8,975.6 879.3,975.8 879.9,975.9 880.4,976.0 881.0,975.8 881.5,975.6 882.1,975.2 882.6,975.3 883.2,975.4 883.7,975.5 884.3,975.9 884.8,975.2 885.4,975.5 885.9,975.5 886.5,975.7 887.0,975.3 887.6,975.4 888.1,975.4 888.7,975.4 889.2,975.7 889.8,975.1 890.3,975.1 890.9,975.2 891.4,974.6 892.0,975.4 892.5,975.2 893.1,974.8 893.6,975.1 894.2,974.7 894.7,975.1 895.3,975.3 895.8,975.0 896.4,975.0 896.9,975.1 897.5,974.7 898.0,974.4 898.6,974.1 899.1,975.0 899.7,973.5 900.2,975.0 900.8,973.8 901.3,974.0 901.9,973.7 902.4,973.8 903.0,973.5 903.5,973.6 904.1,973.5 904.6,973.5 905.2,972.9 905.7,974.0 906.3,972.8 906.8,973.0 907.4,973.2 907.9,972.7 908.5,972.9 909.0,972.9 909.6,972.3 910.1,972.7 910.7,972.7 911.2,972.9 911.8,973.2 912.3,972.5 912.9,972.7 913.4,972.9 914.0,972.5 914.5,973.0 915.1,972.8 915.6,973.4 916.2,972.4 916.7,972.7 917.3,972.3 917.8,972.9 918.4,972.8 918.9,972.8 919.5,972.6 920.0,973.2 920.6,973.0 921.1,973.1 921.7,973.7 922.2,973.9 922.8,973.1 923.3,972.8 923.9,973.4 924.4,973.8 925.0,973.9 925.5,973.8 926.1,973.6 926.6,973.9 927.2,973.9 927.7,973.8 928.3,974.1 928.8,974.0 929.4,974.1 929.9,974.3 930.5,974.3 931.0,973.6 931.6,974.2 932.1,974.1 932.7,974.5 933.2,973.9 933.8,974.3 934.3,974.9 934.9,974.4 935.4,974.2 936.0,974.4 936.5,974.4 937.1,974.5 937.6,974.5 938.2,974.5 938.7,974.1 939.3,973.9 939.8,974.0 940.4,974.4 940.9,974.5 941.5,974.3 942.0,975.0 942.6,974.3 943.1,974.4 943.7,974.5 944.2,974.4 944.8,974.4 945.3,974.1 945.9,974.2 946.4,973.9 947.0,974.5 947.5,974.0 948.1,974.0 948.6,974.2 949.2,973.7 949.7,973.8 950.3,973.2 950.8,974.0 951.4,974.0 951.9,973.7 952.5,973.6 953.0,972.9 953.6,973.6 954.1,973.1 954.7,972.9 955.2,973.6 955.8,972.4 956.3,972.6 956.9,973.1 957.4,973.0 958.0,972.4 958.5,971.5 959.1,972.2 959.6,972.4 960.2,972.1 960.7,971.4 961.3,971.8 961.8,971.6 962.4,971.1 962.9,970.9 963.5,970.8 964.0,970.2 964.6,970.6 965.1,969.5 965.7,969.4 966.2,969.1 966.8,968.6 967.3,968.0 967.9,967.8 968.4,967.3 969.0,967.2 969.5,965.8 970.1,965.9 970.6,965.0 971.2,964.6 971.7,964.3 972.3,963.5 972.8,962.6 973.4,962.6 973.9,960.7 974.5,960.2 975.0,959.7 975.6,958.2 976.1,957.4 976.7,956.6 977.2,955.8 977.8,954.8 978.3,953.6 978.9,952.9 979.4,952.1 980.0,950.5 980.5,949.7 981.1,948.7 981.6,947.4 982.2,946.5 982.7,945.0 983.3,944.4 983.8,942.3 984.4,941.7 984.9,940.6 985.5,938.7 986.0,937.1 986.6,935.8 987.1,934.6 987.7,932.7 988.2,931.7 988.8,930.3 989.3,929.1 989.9,927.2 990.4,925.9 991.0,924.4 991.5,922.8 992.1,921.2 992.6,919.9 993.2,918.5 993.7,917.0 994.3,915.2 994.8,913.1 995.4,911.8 995.9,912.3 996.5,914.1 997.0,915.3 997.6,917.1 998.1,919.0 998.7,920.5 999.2,922.1 999.8,923.8 1000.3,924.9 1000.9,926.4 1001.4,928.0 1002.0,929.3 1002.5,930.6 1003.1,931.8 1003.6,933.8 1004.2,934.5 1004.7,935.8 1005.3,937.7 1005.8,938.6 1006.4,940.2 1006.9,941.3 1007.5,942.9 1008.0,943.5 1008.6,945.7 1009.1,946.5 1009.7,947.6 1010.2,949.0 1010.8,950.1 1011.3,951.3 1011.9,952.4 1012.4,952.7 1013.0,954.1 1013.5,955.1 1014.1,956.2 1014.6,957.3 1015.2,958.3 1015.7,959.1 1016.3,959.5 1016.8,960.2 1017.4,961.4 1017.9,961.5 1018.5,962.4 1019.0,963.3 1019.6,963.8 1020.1,964.4 1020.7,965.3 1021.2,965.7 1021.8,966.6 1022.3,966.9 1022.9,967.1 1023.4,968.0 1024.0,968.6 1024.5,968.8 1025.1,968.8 1025.6,969.2 1026.2,969.9 1026.7,969.9 1027.3,969.9 1027.8,971.3 1028.4,970.9 1028.9,971.3 1029.5,971.6 1030.0,971.6 1030.6,971.5 1031.1,971.8 1031.7,971.7 1032.2,972.1 1032.8,971.6 1033.3,972.3 1033.9,972.7 1034.4,972.7 1035.0,973.3 1035.5,972.8 1036.1,973.3 1036.6,972.7 1037.2,973.5 1037.7,973.3 1038.3,973.2 1038.8,973.9 1039.4,973.2 1039.9,973.7 1040.5,973.4 1041.0,974.1 1041.6,973.8 1042.1,974.2 1042.7,973.9 1043.2,973.9 1043.8,974.0 1044.3,974.4 1044.9,974.1 1045.4,974.5 1046.0,974.1 1046.5,974.6 1047.1,974.6 1047.6,974.7 1048.2,974.4 1048.7,974.3 1049.3,974.6 1049.8,974.4 1050.4,974.3 1050.9,974.7 1051.5,974.5 1052.0,975.0 1052.6,975.3 1053.1,974.4 1053.7,975.2 1054.2,975.2 1054.8,974.6 1055.3,974.6 1055.9,975.0 1056.4,975.1 1057.0,974.8 1057.5,975.0 1058.1,975.4 1058.6,974.6 1059.2,975.1 1059.7,975.0 1060.3,975.4 1060.8,975.7 1061.4,974.9 1061.9,975.0 1062.5,975.1 1063.0,974.8 1063.6,975.1 1064.1,974.6 1064.7,975.2 1065.2,975.4 1065.8,974.8 1066.3,974.6 1066.9,974.9 1067.4,975.2 1068.0,975.2 1068.5,975.3 1069.1,975.6 1069.6,975.1 1070.2,975.3 1070.7,975.4 1071.3,974.8 1071.8,975.5 1072.4,975.6 1072.9,974.9 1073.5,975.8 1074.0,975.3 1074.6,975.4 1075.1,975.6 1075.7,975.1 1076.2,975.3 1076.8,975.6 1077.3,976.1 1077.9,975.6 1078.4,975.5 1079.0,975.6 1079.5,975.8 1080.1,975.4 1080.6,975.3 1081.2,975.6 1081.7,975.9 1082.3,975.8 1082.8,975.3 1083.4,975.8 1083.9,975.3 1084.5,975.3 1085.0,975.6 1085.6,975.6 1086.1,975.8 1086.7,975.9 1087.2,975.3 1087.8,975.6 1088.3,975.0 1088.9,975.7 1089.4,975.4 1090.0,975.6 1090.5,975.6 1091.1,975.5 1091.6,975.4 1092.2,975.7 1092.7,975.1 1093.3,975.9 1093.8,976.1 1094.4,975.5 1094.9,975.9 1095.5,975.7 1096.0,975.6 1096.6,975.7 1097.1,975.8 1097.7,975.9 1098.2,975.1 1098.8,975.5 1099.3,975.7 1099.9,975.7 1100.4,975.4 1101.0,975.1 1101.5,975.2 1102.1,975.7 1102.6,975.3 1103.2,975.4 1103.7,975.4 1104.3,975.4 1104.8,975.6 1105.4,975.5 1105.9,975.1 1106.5,975.9 1107.0,975.7 1107.6,975.4 1108.1,975.2 1108.7,975.4 1109.2,975.5 1109.8,975.7 1110.3,976.1 1110.9,975.9 1111.4,975.7 1112.0,975.8 1112.5,975.4 1113.1,975.5 1113.6,975.6 1114.2,976.1 1114.7,975.9 1115.3,975.9 1115.8,975.9 1116.4,975.4 1116.9,975.5 1117.5,975.5 1118.0,976.0 1118.6,975.6 1119.1,975.6 1119.7,975.4 1120.2,976.0 1120.8,975.5 1121.3,975.5 1121.9,975.4 1122.4,975.6 1123.0,975.8 1123.5,975.7 1124.1,975.8 1124.6,975.3 1125.2,975.6 1125.7,975.9 1126.3,975.7 1126.8,975.8 1127.4,975.6 1127.9,975.9 1128.5,975.6 1129.0,975.7 1129.6,975.7 1130.1,975.4 1130.7,976.1 1131.2,975.7 1131.8,976.0 1132.3,975.9 1132.9,975.3 1133.4,975.7 1134.0,975.3 1134.5,976.1 1135.1,975.6 1135.6,975.8 1136.2,975.2 1136.7,975.5 1137.3,975.7 1137.8,975.9 1138.4,975.6 1138.9,975.5 1139.5,975.7 1140.0,975.4 1140.6,975.4 1141.1,975.6 1141.7,975.7 1142.2,975.2 1142.8,975.4 1143.3,975.7 1143.9,975.6 1144.4,975.3 1145.0,975.6 1145.5,975.6 1146.1,975.9 1146.6,975.1 1147.2,975.8 1147.7,974.7 1148.3,975.0 1148.8,975.8 1149.4,975.4 1149.9,975.4 1150.5,975.3 1151.0,975.7 1151.6,975.4 1152.1,975.7 1152.7,975.1 1153.2,976.0 1153.8,975.8 1154.3,975.6 1154.9,975.5 1155.4,974.9 1156.0,975.9 1156.5,975.5 1157.1,975.3 1157.6,975.8 1158.2,975.0 1158.7,975.1 1159.3,975.8 1159.8,975.1 1160.4,975.5 1160.9,975.5 1161.5,975.3 1162.0,975.5 1162.6,975.3 1163.1,975.5 1163.7,975.7 1164.2,975.2 1164.8,975.8 1165.3,974.8 1165.9,975.5 1166.4,974.9 1167.0,975.1 1167.5,975.4 1168.1,974.7 1168.6,975.5 1169.2,975.1 1169.7,975.5 1170.3,975.2 1170.8,975.0 1171.4,975.1 1171.9,975.1 1172.5,975.1 1173.0,975.5 1173.6,974.7 1174.1,974.4 1174.7,974.7 1175.2,974.5 1175.8,975.1 1176.3,974.8 1176.9,975.0 1177.4,974.9 1178.0,974.9 1178.5,974.6 1179.1,974.9 1179.6,975.1 1180.2,974.8 1180.7,974.2 1181.3,974.2 1181.8,974.9 1182.4,974.5 1182.9,975.2 1183.5,975.1 1184.0,974.5 1184.6,974.5 1185.1,974.8 1185.7,974.9 1186.2,974.9 1186.8,974.6 1187.3,974.3 1187.9,974.8 1188.4,974.9 1189.0,974.5 1189.5,974.0 1190.1,974.8 1190.6,974.3 1191.2,974.2 1191.7,974.5 1192.3,974.3 1192.8,974.5 1193.4,973.9 1193.9,973.9 1194.5,973.8 1195.0,973.6 1195.6,973.7 1196.1,973.4 1196.7,973.2 1197.2,973.4 1197.8,973.3 1198.3,973.4 1198.9,973.1 1199.4,973.2 1200.0,973.1 1200.5,972.7 1201.1,973.1 1201.6,972.7 1202.2,972.1 1202.7,972.5 1203.3,972.1 1203.8,972.1 1204.4,972.6 1204.9,971.7 1205.5,971.3 1206.0,971.1 1206.6,971.2 1207.1,971.3 1207.7,970.8 1208.2,970.0 1208.8,970.2 1209.3,970.1 1209.9,969.7 1210.4,969.0 1211.0,968.9 1211.5,968.5 1212.1,967.7 1212.6,967.5 1213.2,967.8 1213.7,966.6 1214.3,966.4 1214.8,966.3 1215.4,965.4 1215.9,965.2 1216.5,964.5 1217.0,964.0 1217.6,964.3 1218.1,962.7 1218.7,962.1 1219.2,962.1 1219.8,961.9 1220.3,960.2 1220.9,959.8 1221.4,959.4 1222.0,958.7 1222.5,957.9 1223.1,957.0 1223.6,956.4 1224.2,955.1 1224.7,955.0 1225.3,953.9 1225.8,953.6 1226.4,952.7 1226.9,951.5 1227.5,951.0 1228.0,949.2 1228.6,948.9 1229.1,948.3 1229.7,947.2 1230.2,945.9 1230.8,945.3 1231.3,944.6 1231.9,943.3 1232.4,942.2 1233.0,941.4 1233.5,940.3 1234.1,939.5 1234.6,938.8 1235.2,937.6 1235.7,936.4 1236.3,935.6 1236.8,934.6 1237.4,933.2 1237.9,931.8 1238.5,931.2 1239.0,931.0 1239.6,928.9 1240.1,927.7 1240.7,926.3 1241.2,925.8 1241.8,924.9 1242.3,926.2 1242.9,927.8 1243.4,929.1 1244.0,929.9 1244.5,930.7 1245.1,932.0 1245.6,933.3 1246.2,934.3 1246.7,935.4 1247.3,936.2 1247.8,937.3 1248.4,937.9 1248.9,939.3 1249.5,940.0 1250.0,941.0 1250.6,942.3 1251.1,943.0 1251.7,943.9 1252.2,945.0 1252.8,945.6 1253.3,946.9 1253.9,947.5 1254.4,948.7 1255.0,949.2 1255.5,950.6 1256.1,951.1 1256.6,952.3 1257.2,953.1 1257.7,953.9 1258.3,954.6 1258.8,955.7 1259.4,955.8 1259.9,956.8 1260.5,957.0 1261.0,957.6 1261.6,958.6 1262.1,959.6 1262.7,960.0 1263.2,960.7 1263.8,961.9 1264.3,962.1 1264.9,963.0 1265.4,963.4 1266.0,963.5 1266.5,964.1 1267.1,964.5 1267.6,964.9 1268.2,965.5 1268.7,966.2 1269.3,966.9 1269.8,967.1 1270.4,967.3 1270.9,967.7 1271.5,968.4 1272.0,968.3 1272.6,968.7 1273.1,969.4 1273.7,969.2 1274.2,969.3 1274.8,969.5 1275.3,970.5 1275.9,970.3 1276.4,969.7 1277.0,970.5 1277.5,971.2 1278.1,971.3 1278.6,971.4 1279.2,971.7 1279.7,971.0 1280.3,971.8 1280.8,971.7 1281.4,971.8 1281.9,972.5 1282.5,972.3 1283.0,972.1 1283.6,972.5 1284.1,972.6 1284.7,972.4 1285.2,972.7 1285.8,972.8 1286.3,972.7 1286.9,973.0 1287.4,972.4 1288.0,972.8 1288.5,972.4 1289.1,972.5 1289.6,972.7 1290.2,972.7 1290.7,972.9 1291.3,973.1 1291.8,972.7 1292.4,972.4 1292.9,972.8 1293.5,972.6 1294.0,972.5 1294.6,972.8 1295.1,972.7 1295.7,971.9 1296.2,972.3 1296.8,971.8 1297.3,971.7 1297.9,972.2 1298.4,971.4 1299.0,971.5 1299.5,971.2 1300.1,971.6 1300.6,971.6 1301.2,970.6 1301.7,970.8 1302.3,971.2 1302.8,971.0 1303.4,970.5 1303.9,970.1 1304.5,970.5 1305.0,969.4 1305.6,969.8 1306.1,969.4 1306.7,968.6 1307.2,968.8 1307.8,968.7 1308.3,968.3 1308.9,968.4 1309.4,967.5 1310.0,968.3 1310.5,967.7 1311.1,967.2 1311.6,967.2 1312.2,966.8 1312.7,966.3 1313.3,966.7 1313.8,966.4 1314.4,966.4 1314.9,966.4 1315.5,966.6 1316.0,965.8 1316.6,966.5 1317.1,965.9 1317.7,966.6 1318.2,966.0 1318.8,965.7 1319.3,966.3 1319.9,965.9 1320.4,966.6 1321.0,967.0 1321.5,967.0 1322.1,967.3 1322.6,967.8 1323.2,967.9 1323.7,967.9 1324.3,968.5 1324.8,968.2 1325.4,968.6 1325.9,968.7 1326.5,969.0 1327.0,969.4 1327.6,969.5 1328.1,969.9 1328.7,969.9 1329.2,970.6 1329.8,970.6 1330.3,970.6 1330.9,971.1 1331.4,970.9 1332.0,971.3 1332.5,971.3 1333.1,972.4 1333.6,972.0 1334.2,972.7 1334.7,972.3 1335.3,972.7 1335.8,972.2 1336.4,973.0 1336.9,973.3 1337.5,972.5 1338.0,973.4 1338.6,973.8 1339.1,973.2 1339.7,973.2 1340.2,974.0 1340.8,973.7 1341.3,973.6 1341.9,974.1 1342.4,974.7 1343.0,974.5 1343.5,974.4 1344.1,974.1 1344.6,974.1 1345.2,974.3 1345.7,974.7 1346.3,974.4 1346.8,975.1 1347.4,975.3 1347.9,974.5 1348.5,974.5 1349.0,975.0 1349.6,975.0 1350.1,975.1 1350.7,975.3 1351.2,975.2 1351.8,974.9 1352.3,975.2 1352.9,974.8 1353.4,975.3 1354.0,975.8 1354.5,975.5 1355.1,975.4 1355.6,975.5 1356.2,975.3 1356.7,975.2 1357.3,975.4 1357.8,975.8 1358.4,975.5 1358.9,975.0 1359.5,975.4 1360.0,974.9 1360.6,975.4 1361.1,975.2 1361.7,975.7 1362.2,974.8 1362.8,975.4 1363.3,975.9 1363.9,975.7 1364.4,975.6 1365.0,975.8 1365.5,975.5 1366.1,975.5 1366.6,976.0 1367.2,975.3 1367.7,975.1 1368.3,975.5 1368.8,975.4 1369.4,975.6 1369.9,975.9 1370.5,975.8 1371.0,975.6 1371.6,975.5 1372.1,975.3 1372.7,975.5 1373.2,975.8 1373.8,975.7 1374.3,975.4 1374.9,976.0 1375.4,975.3 1376.0,975.8 1376.5,975.9 1377.1,975.3 1377.6,975.7 1378.2,975.4 1378.7,975.3 1379.3,976.1 1379.8,975.8 1380.4,975.7 1380.9,976.0 1381.5,976.3 1382.0,976.0 1382.6,975.8 1383.1,975.7 1383.7,975.8 1384.2,975.8 1384.8,976.4 1385.3,975.8 1385.9,975.4 1386.4,975.8 1387.0,975.8 1387.5,975.7 1388.1,975.7 1388.6,975.5 1389.2,975.7 1389.7,975.4 1390.3,976.1 1390.8,975.4 1391.4,976.0 1391.9,975.7 1392.5,976.2 1393.0,975.7 1393.6,976.7 1394.1,976.2 1394.7,975.7 1395.2,976.0 1395.8,975.4 1396.3,976.0 1396.9,975.5 1397.4,975.8 1398.0,976.1 1398.5,975.7 1399.1,975.7 1399.6,976.2 1400.2,976.0 1400.7,975.7 1401.3,975.9 1401.8,975.8 1402.4,976.0 1402.9,975.5 1403.5,975.5 1404.0,975.7 1404.6,975.7 1405.1,975.8 1405.7,975.8 1406.2,976.0 1406.8,975.5 1407.3,976.3 1407.9,975.9 1408.4,976.7 1409.0,975.7 1409.5,975.6 1410.1,975.7 1410.6,975.6 1411.2,976.1 1411.7,975.8 1412.3,976.2 1412.8,975.7 1413.4,975.5 1413.9,975.5 1414.5,976.5 1415.0,975.9 1415.6,976.1 1416.1,976.0 1416.7,976.0 1417.2,976.1 1417.8,976.3 1418.3,976.4 1418.9,975.9 1419.4,975.6 1420.0,976.2 1420.5,975.8 1421.1,975.9 1421.6,975.9 1422.2,975.8 1422.7,976.2 1423.3,976.1 1423.8,976.4 1424.4,975.4 1424.9,976.3 1425.5,976.1 1426.0,976.2 1426.6,975.9 1427.1,975.6 1427.7,975.8 1428.2,976.1 1428.8,976.0 1429.3,976.1 1429.9,975.6 1430.4,975.6 1431.0,976.5 1431.5,976.1 1432.1,975.9 1432.6,976.0 1433.2,975.9 1433.7,976.0 1434.3,976.2 1434.8,975.6 1435.4,976.0 1435.9,976.1 1436.5,976.1 1437.0,976.3 1437.6,975.4 1438.1,975.7 1438.7,976.0 1439.2,975.9 1439.8,975.6 1440.3,975.9 1440.9,975.9 1441.4,976.0 1442.0,975.9 1442.5,976.1 1443.1,976.5 1443.6,975.7 1444.2,975.8 1444.7,976.1 1445.3,976.3 1445.8,975.8 1446.4,976.2 1446.9,975.8 1447.5,975.8 1448.0,976.2 1448.6,976.2 1449.1,976.0 1449.7,976.2 1450.2,976.1 1450.8,975.9 1451.3,975.6 1451.9,975.7 1452.4,975.9 1453.0,976.3 1453.5,975.8 1454.1,976.0 1454.6,975.6 1455.2,976.2 1455.7,975.9 1456.3,975.8 1456.8,975.8 1457.4,975.9 1457.9,975.6 1458.5,976.0 1459.0,976.4 1459.6,975.9 1460.1,975.7 1460.7,976.1 1461.2,976.1 1461.8,976.0 1462.3,975.9 1462.9,976.1 1463.4,976.5 1464.0,976.2 1464.5,976.2 1465.1,976.3 1465.6,976.5 1466.2,975.9 1466.7,976.2 1467.3,976.6 1467.8,975.7 1468.4,976.0 1468.9,975.7 1469.5,975.9 1470.0,975.9 1470.6,975.5 1471.1,975.8 1471.7,976.1 1472.2,975.8 1472.8,976.2 1473.3,976.2 1473.9,975.9 1474.4,975.9 1475.0,975.9 1475.5,976.3 1476.1,976.2 1476.6,975.9 1477.2,976.2 1477.7,976.2 1478.3,976.5 1478.8,976.6 1479.4,976.3 1479.9,976.1 1480.5,975.7 1481.0,975.9 1481.6,976.3 1482.1,976.3 1482.7,975.7 1483.2,975.9 1483.8,975.6 1484.3,975.8 1484.9,975.4 1485.4,976.0 1486.0,976.2 1486.5,976.1 1487.1,975.5 1487.6,976.5 1488.2,975.7 1488.7,976.6 1489.3,976.0 1489.8,976.3 1490.4,976.1 1490.9,976.2 1491.5,976.5 1492.0,975.6 1492.6,975.7 1493.1,975.7 1493.7,975.5 1494.2,976.4 1494.8,975.8 1495.3,975.6 1495.9,975.7 1496.4,976.1 1497.0,975.9 1497.5,975.8 1498.1,975.8 1498.6,976.4 1499.2,976.1 1499.7,976.2 1500.3,975.7 1500.8,975.8 1501.4,976.2 1501.9,975.9 1502.5,975.9 1503.0,976.5 1503.6,976.1 1504.1,975.7 1504.7,975.6 1505.2,975.8 1505.8,976.1 1506.3,975.7 1506.9,975.2 1507.4,975.4 1508.0,975.5 1508.5,975.8 1509.1,975.9 1509.6,975.9 1510.2,976.2 1510.7,976.0 1511.3,975.9 1511.8,976.1 1512.4,975.9 1512.9,976.4 1513.5,975.4 1514.0,976.0 1514.6,975.6 1515.1,975.5 1515.7,976.0 1516.2,975.4 1516.8,975.9 1517.3,975.7 1517.9,975.8 1518.4,975.7 1519.0,975.8 1519.5,975.5 1520.1,975.5 1520.6,976.0 1521.2,976.1 1521.7,976.6 1522.3,976.0 1522.8,975.5 1523.4,976.1 1523.9,975.8 1524.5,976.2 1525.0,976.0 1525.6,976.1 1526.1,976.0 1526.7,975.4 1527.2,975.6 1527.8,976.4 1528.3,976.4 1528.9,976.0 1529.4,975.9 1530.0,976.1 1530.5,975.7 1531.1,976.3 1531.6,976.0 1532.2,975.6 1532.7,975.8 1533.3,976.3 1533.8,975.7 1534.4,975.3 1534.9,975.8 1535.5,975.8 1536.0,976.0 1536.6,975.5 1537.1,975.7 1537.7,976.1 1538.2,975.8 1538.8,975.8 1539.3,975.4 1539.9,975.9 1540.4,975.9 1541.0,975.9 1541.5,975.6 1542.1,975.7 1542.6,975.9 1543.2,975.6 1543.7,976.1 1544.3,975.4 1544.8,975.7 1545.4,975.8 1545.9,975.6 1546.5,975.5 1547.0,975.5 1547.6,975.9 1548.1,975.4 1548.7,975.7 1549.2,976.2 1549.8,975.2 1550.3,975.3 1550.9,975.6 1551.4,975.8 1552.0,975.2 1552.5,976.2 1553.1,975.9 1553.6,975.6 1554.2,975.9 1554.7,975.3 1555.3,975.8 1555.8,975.5 1556.4,975.8 1556.9,975.7 1557.5,975.6 1558.0,975.2 1558.6,975.2 1559.1,975.6 1559.7,975.5 1560.2,975.7 1560.8,975.2 1561.3,976.0 1561.9,975.7 1562.4,976.1 1563.0,974.8 1563.5,975.1 1564.1,974.6 1564.6,975.5 1565.2,975.2 1565.7,975.3 1566.3,974.8 1566.8,975.2 1567.4,975.6 1567.9,974.9 1568.5,975.1 1569.0,975.5 1569.6,974.9 1570.1,975.5 1570.7,975.6 1571.2,974.7 1571.8,974.9 1572.3,974.4 1572.9,975.0 1573.4,975.1 1574.0,974.9 1574.5,974.2 1575.1,974.3 1575.6,974.1 1576.2,974.5 1576.7,975.1 1577.3,974.4 1577.8,974.3 1578.4,974.3 1578.9,974.0 1579.5,973.5 1580.0,974.1 1580.6,974.1 1581.1,973.5 1581.7,973.5 1582.2,973.7 1582.8,973.8 1583.3,973.2 1583.9,973.0 1584.4,972.9 1585.0,973.0 1585.5,972.7 1586.1,972.5 1586.6,972.0 1587.2,972.5 1587.7,972.2 1588.3,972.0 1588.8,972.0 1589.4,972.1 1589.9,971.4 1590.5,971.0 1591.0,971.1 1591.6,970.7 1592.1,970.9 1592.7,970.2 1593.2,969.9 1593.8,970.2 1594.3,970.4 1594.9,969.9 1595.4,969.3 1596.0,969.3 1596.5,969.2 1597.1,969.1 1597.6,968.8 1598.2,968.7 1598.7,968.3 1599.3,967.5 1599.8,968.2 1600.4,968.1 1600.9,968.3 1601.5,967.9 1602.0,967.5 1602.6,967.6 1603.1,967.5 1603.7,967.8 1604.2,967.8 1604.8,967.7 1605.3,967.6 1605.9,967.2 1606.4,967.5 1607.0,967.8 1607.5,967.6 1608.1,968.2 1608.6,968.3 1609.2,968.6 1609.7,968.4 1610.3,968.9 1610.8,968.7 1611.4,968.5 1611.9,969.2 1612.5,969.4 1613.0,969.2 1613.6,969.7 1614.1,969.9 1614.7,969.9 1615.2,970.8 1615.8,970.6 1616.3,970.6 1616.9,971.0 1617.4,970.6 1618.0,971.0 1618.5,971.5 1619.1,972.2 1619.6,971.8 1620.2,972.3 1620.7,972.2 1621.3,972.2 1621.8,972.8 1622.4,972.7 1622.9,972.6 1623.5,973.0 1624.0,973.6 1624.6,973.2 1625.1,973.6 1625.7,973.2 1626.2,973.5 1626.8,973.5 1627.3,973.6 1627.9,974.2 1628.4,974.0 1629.0,974.1 1629.5,974.6 1630.1,974.8 1630.6,973.9 1631.2,973.9 1631.7,974.7 1632.3,974.8 1632.8,974.7 1633.4,974.8 1633.9,975.0 1634.5,974.6 1635.0,975.0 1635.6,974.6 1636.1,974.6 1636.7,974.4 1637.2,974.5 1637.8,975.1 1638.3,975.0 1638.9,974.9 1639.4,975.4 1640.0,975.1 1640.5,974.9 1641.1,975.4 1641.6,975.3 1642.2,975.1 1642.7,975.4 1643.3,975.2 1643.8,975.3 1644.4,975.3 1644.9,975.0 1645.5,975.1 1646.0,975.7 1646.6,975.3 1647.1,975.5 1647.7,975.3 1648.2,975.5 1648.8,975.2 1649.3,975.9 1649.9,975.3 1650.4,975.7 1651.0,975.5 1651.5,975.6 1652.1,975.3 1652.6,975.6 1653.2,975.3 1653.7,975.7 1654.3,975.9 1654.8,975.2 1655.4,975.3 1655.9,975.6 1656.5,975.3 1657.0,975.8 1657.6,975.9 1658.1,975.6 1658.7,975.7 1659.2,975.5 1659.8,975.5 1660.3,975.8 1660.9,975.5 1661.4,975.7 1662.0,975.3 1662.5,975.7 1663.1,975.8 1663.6,975.4 1664.2,975.5 1664.7,975.8 1665.3,975.6 1665.8,975.6 1666.4,975.7 1666.9,975.7 1667.5,975.4 1668.0,976.0 1668.6,975.6 1669.1,975.6 1669.7,975.5 1670.2,975.5 1670.8,975.6 1671.3,975.9 1671.9,975.5 1672.4,975.6 1673.0,975.7 1673.5,975.3 1674.1,975.4 1674.6,975.6 1675.2,975.7 1675.7,975.2 1676.3,975.4 1676.8,975.7 1677.4,975.7 1677.9,975.9 1678.5,975.2 1679.0,975.7 1679.6,975.6 1680.1,974.9 1680.7,975.9 1681.2,975.6 1681.8,975.8 1682.3,975.5 1682.9,975.5 1683.4,975.9 1684.0,975.6 1684.5,975.9 1685.1,975.3 1685.6,976.1 1686.2,976.1 1686.7,975.8 1687.3,975.4 1687.8,975.2 1688.4,975.3 1688.9,975.7 1689.5,975.6 1690.0,975.3 1690.6,975.2 1691.1,975.9 1691.7,975.4 1692.2,976.1 1692.8,975.6 1693.3,975.7 1693.9,975.5 1694.4,975.6 1695.0,975.3 1695.5,975.1 1696.1,976.0 1696.6,975.2 1697.2,975.8 1697.7,975.7 1698.3,976.2 1698.8,975.5 1699.4,975.7 1699.9,975.7 1700.5,975.8 1701.0,975.4 1701.6,975.7 1702.1,976.0 1702.7,975.9 1703.2,975.0 1703.8,975.3 1704.3,976.0 1704.9,975.5 1705.4,975.5 1706.0,976.0 1706.5,975.4 1707.1,975.5 1707.6,975.4 1708.2,975.7 1708.7,975.5 1709.3,975.9 1709.8,975.7 1710.4,975.3 1710.9,975.4 1711.5,976.1 1712.0,975.6 1712.6,975.5 1713.1,975.7 1713.7,975.5 1714.2,975.9 1714.8,975.9 1715.3,975.5 1715.9,976.0 1716.4,975.5 1717.0,975.7 1717.5,975.7 1718.1,975.3 1718.6,975.8 1719.2,975.8 1719.7,974.6 1720.3,975.6 1720.8,976.2 1721.4,976.1 1721.9,975.6 1722.5,975.4 1723.0,975.4 1723.6,975.4 1724.1,975.6 1724.7,975.5 1725.2,975.7 1725.8,975.8 1726.3,975.6 1726.9,975.5 1727.4,975.4 1728.0,975.3 1728.5,975.3 1729.1,975.3 1729.6,975.9 1730.2,974.8 1730.7,975.4 1731.3,975.4 1731.8,975.2 1732.4,975.4 1732.9,975.4 1733.5,975.9 1734.0,975.5 1734.6,975.5 1735.1,975.6 1735.7,975.9 1736.2,975.5 1736.8,975.6 1737.3,975.3 1737.9,975.3 1738.4,974.9 1739.0,975.4 1739.5,975.6 1740.1,975.4 1740.6,975.8 1741.2,975.2 1741.7,975.1 1742.3,975.2 1742.8,974.9 1743.4,974.9 1743.9,975.0 1744.5,975.2 1745.0,975.2 1745.6,976.0 1746.1,975.1 1746.7,975.3 1747.2,975.1 1747.8,975.3 1748.3,975.0 1748.9,975.0 1749.4,975.5 1750.0,975.1 1750.5,975.4 1751.1,975.0 1751.6,974.8 1752.2,975.0 1752.7,974.6 1753.3,975.3 1753.8,975.0 1754.4,975.1 1754.9,974.7 1755.5,975.1 1756.0,974.7 1756.6,974.9 1757.1,974.7 1757.7,974.9 1758.2,974.6 1758.8,974.8 1759.3,974.8 1759.9,974.5 1760.4,975.0 1761.0,974.8 1761.5,974.1 1762.1,974.9 1762.6,974.5 1763.2,974.6 1763.7,974.3 1764.3,974.5 1764.8,974.2 1765.4,974.5 1765.9,974.5 1766.5,974.4 1767.0,974.8 1767.6,973.8 1768.1,974.2 1768.7,973.9 1769.2,973.8 1769.8,974.1 1770.3,973.9 1770.9,974.2 1771.4,973.9 1772.0,974.1 1772.5,973.8 1773.1,973.6 1773.6,973.9 1774.2,973.4 1774.7,974.0 1775.3,973.4 1775.8,973.5 1776.4,972.8 1776.9,973.6 1777.5,973.1 1778.0,972.8 1778.6,973.0 1779.1,972.5 1779.7,972.1 1780.2,972.7 1780.8,972.5 1781.3,971.6 1781.9,971.9 1782.4,971.9 1783.0,971.0 1783.5,971.3 1784.1,971.2 1784.6,970.8 1785.2,970.3 1785.7,970.1 1786.3,970.0 1786.8,969.7 1787.4,969.4 1787.9,969.4 1788.5,968.7 1789.0,968.1 1789.6,968.0 1790.1,967.7 1790.7,967.4 1791.2,966.7 1791.8,966.6 1792.3,966.5 1792.9,965.5 1793.4,965.6 1794.0,964.9 1794.5,964.5 1795.1,963.8 1795.6,964.0 1796.2,962.8 1796.7,962.7 1797.3,962.2 1797.8,961.9 1798.4,960.8 1798.9,960.2 1799.5,960.4 1800.0,959.9 1800.6,959.2 1801.1,958.9 1801.7,958.1 1802.2,957.4 1802.8,957.9 1803.3,957.5 1803.9,957.6 1804.4,957.0 1805.0,956.6 1805.5,956.3 1806.1,956.8 1806.6,957.1 1807.2,956.9 1807.7,957.3 1808.3,957.1 1808.8,957.2 1809.4,957.0 1809.9,957.5 1810.5,957.8 1811.0,958.1 1811.6,959.1 1812.1,958.5 1812.7,959.4 1813.2,960.8 1813.8,960.9 1814.3,961.1 1814.9,961.0 1815.4,961.7 1816.0,962.7 1816.5,962.9 1817.1,963.1 1817.6,963.7 1818.2,964.3 1818.7,964.8 1819.3,965.5 1819.8,965.6 1820.4,966.2 1820.9,966.0 1821.5,966.9 1822.0,967.3 1822.6,967.6 1823.1,967.5 1823.7,968.0 1824.2,969.0 1824.8,969.2 1825.3,969.2 1825.9,969.9 1826.4,969.3 1827.0,970.6 1827.5,970.1 1828.1,970.1 1828.6,970.9 1829.2,970.7 1829.7,971.1 1830.3,970.8 1830.8,970.9 1831.4,971.4 1831.9,971.5 1832.5,971.7 1833.0,971.3 1833.6,972.1 1834.1,972.3 1834.7,972.2 1835.2,972.3 1835.8,972.8 1836.3,972.6 1836.9,973.3 1837.4,972.7 1838.0,972.3 1838.5,972.9 1839.1,972.7 1839.6,972.9 1840.2,972.9 1840.7,972.6 1841.3,972.7 1841.8,972.4 1842.4,972.4 1842.9,972.9 1843.5,972.6 1844.0,972.5 1844.6,972.7 1845.1,972.5 1845.7,972.7 1846.2,972.1 1846.8,972.4 1847.3,972.6 1847.9,972.2 1848.4,972.5 1849.0,972.1 1849.5,971.9 1850.1,971.0 1850.6,971.8 1851.2,971.3 1851.7,971.4 1852.3,971.0 1852.8,971.1 1853.4,970.8 1853.9,970.3 1854.5,969.6 1855.0,970.4 1855.6,969.8 1856.1,969.5 1856.7,968.9 1857.2,969.1 1857.8,968.7 1858.3,968.2 1858.9,967.7 1859.4,968.2 1860.0,967.5 1860.5,967.1 1861.1,966.9 1861.6,966.3 1862.2,966.0 1862.7,965.8 1863.3,965.3 1863.8,965.2 1864.4,964.8 1864.9,964.7 1865.5,964.4 1866.0,964.1 1866.6,963.8 1867.1,963.7 1867.7,963.4 1868.2,963.1 1868.8,963.0 1869.3,963.0 1869.9,962.7 1870.4,962.8 1871.0,962.5 1871.5,963.0 1872.1,962.8 1872.6,962.7 1873.2,962.5 1873.7,963.4 1874.3,963.9 1874.8,964.1 1875.4,964.2 1875.9,964.7 1876.5,965.1 1877.0,965.7 1877.6,965.7 1878.1,965.7 1878.7,966.5 1879.2,967.4 1879.8,966.9 1880.3,967.2 1880.9,967.5 1881.4,968.2 1882.0,968.2 1882.5,969.0 1883.1,969.5 1883.6,969.0 1884.2,969.8 1884.7,970.0 1885.3,970.5 1885.8,970.4" fill="none" stroke="#008000" stroke-width="8.10" stroke-linejoin="round" stroke-linecap="round"/>
<path d="M232.0,1290.6 232.6,1291.0 233.1,1290.9 233.7,1290.7 234.2,1290.8 234.8,1290.9 235.3,1290.9 235.9,1290.8 236.4,1291.0 237.0,1291.1 237.5,1291.2 238.1,1290.8 238.6,1290.6 239.2,1291.0 239.7,1290.7 240.3,1290.6 240.8,1291.2 241.4,1291.0 241.9,1290.7 242.5,1290.7 243.0,1290.9 243.6,1290.8 244.1,1290.9 244.7,1290.8 245.2,1290.3 245.8,1290.3 246.3,1291.0 246.9,1290.8 247.4,1290.2 248.0,1290.8 248.5,1290.8 249.1,1290.9 249.6,1290.8 250.2,1290.8 250.7,1290.5 251.3,1290.3 251.8,1290.7 252.4,1290.8 252.9,1290.6 253.5,1290.3 254.0,1290.6 254.6,1290.5 255.1,1290.9 255.7,1290.4 256.2,1290.5 256.8,1290.5 257.3,1290.7 257.9,1291.0 258.4,1290.8 259.0,1290.3 259.5,1290.4 260.1,1291.1 260.6,1290.7 261.2,1290.6 261.7,1290.8 262.3,1290.8 262.8,1291.1 263.4,1290.7 263.9,1290.5 264.5,1290.4 265.0,1290.9 265.6,1290.6 266.1,1290.7 266.7,1290.8 267.2,1290.4 267.8,1291.0 268.3,1290.6 268.9,1290.6 269.4,1290.6 270.0,1290.7 270.5,1290.5 271.1,1290.5 271.6,1290.8 272.2,1290.9 272.7,1290.8 273.3,1290.3 273.8,1290.5 274.4,1290.9 274.9,1290.6 275.5,1290.6 276.0,1290.5 276.6,1290.9 277.1,1290.5 277.7,1290.4 278.2,1290.8 278.8,1290.2 279.3,1290.4 279.9,1291.2 280.4,1290.5 281.0,1290.6 281.5,1290.0 282.1,1290.5 282.6,1290.3 283.2,1290.3 283.7,1290.3 284.3,1290.5 284.8,1290.4 285.4,1290.7 285.9,1289.9 286.5,1290.3 287.0,1290.6 287.6,1290.6 288.1,1290.8 288.7,1290.3 289.2,1290.7 289.8,1290.6 290.3,1290.1 290.9,1290.0 291.4,1290.9 292.0,1290.7 292.5,1290.4 293.1,1290.2 293.6,1289.9 294.2,1290.3 294.7,1290.4 295.3,1290.8 295.8,1290.3 296.4,1290.3 296.9,1290.3 297.5,1290.6 298.0,1290.7 298.6,1290.8 299.1,1290.3 299.7,1290.5 300.2,1290.0 300.8,1290.1 301.3,1290.2 301.9,1290.5 302.4,1289.7 303.0,1290.3 303.5,1290.7 304.1,1290.5 304.6,1290.6 305.2,1290.1 305.7,1290.3 306.3,1289.9 306.8,1290.6 307.4,1290.1 307.9,1290.0 308.5,1289.9 309.0,1290.2 309.6,1290.5 310.1,1290.1 310.7,1290.0 311.2,1289.9 311.8,1290.3 312.3,1290.0 312.9,1290.1 313.4,1290.0 314.0,1290.0 314.5,1290.1 315.1,1290.1 315.6,1289.5 316.2,1289.9 316.7,1289.8 317.3,1289.9 317.8,1290.1 318.4,1289.6 318.9,1289.6 319.5,1289.3 320.0,1289.5 320.6,1289.9 321.1,1289.4 321.7,1289.9 322.2,1289.5 322.8,1289.4 323.3,1289.4 323.9,1289.2 324.4,1289.3 325.0,1289.2 325.5,1288.6 326.1,1288.8 326.6,1289.0 327.2,1288.7 327.7,1288.0 328.3,1288.7 328.8,1288.6 329.4,1287.7 329.9,1287.8 330.5,1287.7 331.0,1287.3 331.6,1287.0 332.1,1286.1 332.7,1286.3 333.2,1285.5 333.8,1284.9 334.3,1284.6 334.9,1284.1 335.4,1283.4 336.0,1282.3 336.5,1281.9 337.1,1280.6 337.6,1280.4 338.2,1279.1 338.7,1278.3 339.3,1277.8 339.8,1276.8 340.4,1275.8 340.9,1275.3 341.5,1274.8 342.0,1273.3 342.6,1273.1 343.1,1272.5 343.7,1272.1 344.2,1271.7 344.8,1271.7 345.3,1271.5 345.9,1271.2 346.4,1271.4 347.0,1271.1 347.5,1271.7 348.1,1271.3 348.6,1271.3 349.2,1271.5 349.7,1271.2 350.3,1271.2 350.8,1271.2 351.4,1271.7 351.9,1271.5 352.5,1271.1 353.0,1271.1 353.6,1271.1 354.1,1270.9 354.7,1271.0 355.2,1270.9 355.8,1271.0 356.3,1271.4 356.9,1272.2 357.4,1272.5 358.0,1272.8 358.5,1273.6 359.1,1273.9 359.6,1275.1 360.2,1275.7 360.7,1276.5 361.3,1277.6 361.8,1278.3 362.4,1279.7 362.9,1279.7 363.5,1280.7 364.0,1281.6 364.6,1282.2 365.1,1283.4 365.7,1283.6 366.2,1283.8 366.8,1284.6 367.3,1284.7 367.9,1285.7 368.4,1286.1 369.0,1286.7 369.5,1287.1 370.1,1286.9 370.6,1287.5 371.2,1287.7 371.7,1288.3 372.3,1288.1 372.8,1288.1 373.4,1288.2 373.9,1288.6 374.5,1288.1 375.0,1288.4 375.6,1288.5 376.1,1288.4 376.7,1289.0 377.2,1288.5 377.8,1289.3 378.3,1288.7 378.9,1288.8 379.4,1289.7 380.0,1288.8 380.5,1289.0 381.1,1289.1 381.6,1288.6 382.2,1289.1 382.7,1289.2 383.3,1289.4 383.8,1289.2 384.4,1289.4 384.9,1289.4 385.5,1289.0 386.0,1289.5 386.6,1289.4 387.1,1289.3 387.7,1289.2 388.2,1289.3 388.8,1289.3 389.3,1289.2 389.9,1289.1 390.4,1289.5 391.0,1289.3 391.5,1289.4 392.1,1289.6 392.6,1289.1 393.2,1289.4 393.7,1289.3 394.3,1289.4 394.8,1289.1 395.4,1289.6 395.9,1289.0 396.5,1289.2 397.0,1289.3 397.6,1289.3 398.1,1289.3 398.7,1288.9 399.2,1288.9 399.8,1288.7 400.3,1289.1 400.9,1289.6 401.4,1289.1 402.0,1289.5 402.5,1289.4 403.1,1289.0 403.6,1288.6 404.2,1288.7 404.7,1289.0 405.3,1289.2 405.8,1289.5 406.4,1289.0 406.9,1289.0 407.5,1289.3 408.0,1289.2 408.6,1289.1 409.1,1289.4 409.7,1289.0 410.2,1289.0 410.8,1288.8 411.3,1289.2 411.9,1288.6 412.4,1289.1 413.0,1288.7 413.5,1289.2 414.1,1288.7 414.6,1289.2 415.2,1289.2 415.7,1288.6 416.3,1289.3 416.8,1288.5 417.4,1288.6 417.9,1288.4 418.5,1288.6 419.0,1288.7 419.6,1288.6 420.1,1289.0 420.7,1288.7 421.2,1288.4 421.8,1288.4 422.3,1288.1 422.9,1288.5 423.4,1287.9 424.0,1287.8 424.5,1287.8 425.1,1288.6 425.6,1288.2 426.2,1288.0 426.7,1287.6 427.3,1287.9 427.8,1287.4 428.4,1287.9 428.9,1287.7 429.5,1287.6 430.0,1287.2 430.6,1287.6 431.1,1287.3 431.7,1287.4 432.2,1287.0 432.8,1286.8 433.3,1287.5 433.9,1286.8 434.4,1286.7 435.0,1286.6 435.5,1286.5 436.1,1286.5 436.6,1285.9 437.2,1286.1 437.7,1286.0 438.3,1285.7 438.8,1285.0 439.4,1285.4 439.9,1285.2 440.5,1284.9 441.0,1284.1 441.6,1284.4 442.1,1283.7 442.7,1283.2 443.2,1282.9 443.8,1282.2 444.3,1281.9 444.9,1281.2 445.4,1280.4 446.0,1280.0 446.5,1278.7 447.1,1277.9 447.6,1276.2 448.2,1274.8 448.7,1273.4 449.3,1271.2 449.8,1268.9 450.4,1266.1 450.9,1264.3 451.5,1261.1 452.0,1257.4 452.6,1253.7 453.1,1249.7 453.7,1245.2 454.2,1239.8 454.8,1235.1 455.3,1229.5 455.9,1223.7 456.4,1218.3 457.0,1212.3 457.5,1206.5 458.1,1200.9 458.6,1195.7 459.2,1191.1 459.7,1187.2 460.3,1184.4 460.8,1182.7 461.4,1181.6 461.9,1182.6 462.5,1183.9 463.0,1186.6 463.6,1190.8 464.1,1194.9 464.7,1199.9 465.2,1205.0 465.8,1211.3 466.3,1217.4 466.9,1222.3 467.4,1228.3 468.0,1233.9 468.5,1239.2 469.1,1243.4 469.6,1248.5 470.2,1252.6 470.7,1256.7 471.3,1260.1 471.8,1263.4 472.4,1265.7 472.9,1268.2 473.5,1270.9 474.0,1272.2 474.6,1274.6 475.1,1275.8 475.7,1277.6 476.2,1278.5 476.8,1279.5 477.3,1280.0 477.9,1281.1 478.4,1281.5 479.0,1282.1 479.5,1282.8 480.1,1283.2 480.6,1283.1 481.2,1283.4 481.7,1283.7 482.3,1284.4 482.8,1284.7 483.4,1284.0 483.9,1284.6 484.5,1285.4 485.0,1285.5 485.6,1285.0 486.1,1285.5 486.7,1285.6 487.2,1286.0 487.8,1285.7 488.3,1286.1 488.9,1285.8 489.4,1286.4 490.0,1286.5 490.5,1286.6 491.1,1286.3 491.6,1286.8 492.2,1286.8 492.7,1286.5 493.3,1287.1 493.8,1287.3 494.4,1287.3 494.9,1286.9 495.5,1287.5 496.0,1287.2 496.6,1287.4 497.1,1287.5 497.7,1287.6 498.2,1287.3 498.8,1287.3 499.3,1287.8 499.9,1287.8 500.4,1287.4 501.0,1288.1 501.5,1288.0 502.1,1287.5 502.6,1287.6 503.2,1287.7 503.7,1287.7 504.3,1287.4 504.8,1287.7 505.4,1287.7 505.9,1287.6 506.5,1287.8 507.0,1288.0 507.6,1287.7 508.1,1287.8 508.7,1287.7 509.2,1287.5 509.8,1287.2 510.3,1287.7 510.9,1287.5 511.4,1287.8 512.0,1287.9 512.5,1287.7 513.1,1287.2 513.6,1287.5 514.2,1287.3 514.7,1287.4 515.3,1287.0 515.8,1287.4 516.4,1287.3 516.9,1287.4 517.5,1287.3 518.0,1287.5 518.6,1287.3 519.1,1286.8 519.7,1287.7 520.2,1287.1 520.8,1286.8 521.3,1286.8 521.9,1286.9 522.4,1287.2 523.0,1286.7 523.5,1286.4 524.1,1287.2 524.6,1286.7 525.2,1286.3 525.7,1286.5 526.3,1286.3 526.8,1286.5 527.4,1286.0 527.9,1285.5 528.5,1285.9 529.0,1285.5 529.6,1285.7 530.1,1285.5 530.7,1285.6 531.2,1285.0 531.8,1284.5 532.3,1284.8 532.9,1284.7 533.4,1283.8 534.0,1283.6 534.5,1283.2 535.1,1282.9 535.6,1282.4 536.2,1281.8 536.7,1280.9 537.3,1279.7 537.8,1279.8 538.4,1277.9 538.9,1276.4 539.5,1275.0 540.0,1273.9 540.6,1271.7 541.1,1269.9 541.7,1267.2 542.2,1264.9 542.8,1261.6 543.3,1259.2 543.9,1255.4 544.4,1252.1 545.0,1248.2 545.5,1244.1 546.1,1239.7 546.6,1235.9 547.2,1231.4 547.7,1227.7 548.3,1222.7 548.8,1219.6 549.4,1216.4 549.9,1213.7 550.5,1211.6 551.0,1210.6 551.6,1209.6 552.1,1210.2 552.7,1212.3 553.2,1213.8 553.8,1217.3 554.3,1220.2 554.9,1224.5 555.4,1228.3 556.0,1232.4 556.5,1236.1 557.1,1241.1 557.6,1244.9 558.2,1248.7 558.7,1252.1 559.3,1256.3 559.8,1259.7 560.4,1262.5 560.9,1265.5 561.5,1268.2 562.0,1270.2 562.6,1272.4 563.1,1273.9 563.7,1275.6 564.2,1277.2 564.8,1278.2 565.3,1279.5 565.9,1280.2 566.4,1280.9 567.0,1281.2 567.5,1281.8 568.1,1282.7 568.6,1283.3 569.2,1283.4 569.7,1283.8 570.3,1284.1 570.8,1284.1 571.4,1283.9 571.9,1284.7 572.5,1285.5 573.0,1285.9 573.6,1286.3 574.1,1285.8 574.7,1285.8 575.2,1285.5 575.8,1286.2 576.3,1286.0 576.9,1286.2 577.4,1286.2 578.0,1286.3 578.5,1286.1 579.1,1287.1 579.6,1286.6 580.2,1286.7 580.7,1286.7 581.3,1287.0 581.8,1287.0 582.4,1287.2 582.9,1286.9 583.4,1287.3 584.0,1286.5 584.5,1286.9 585.1,1287.0 585.6,1287.1 586.2,1286.9 586.7,1286.9 587.3,1287.4 587.8,1287.2 588.4,1287.7 588.9,1287.9 589.5,1286.8 590.0,1287.1 590.6,1287.0 591.1,1287.0 591.7,1287.3 592.2,1287.2 592.8,1287.0 593.3,1287.5 593.9,1287.0 594.4,1287.7 595.0,1287.1 595.5,1287.6 596.1,1286.9 596.6,1287.1 597.2,1287.5 597.7,1286.6 598.3,1287.3 598.8,1287.0 599.4,1286.9 599.9,1286.9 600.5,1287.0 601.0,1286.5 601.6,1286.5 602.1,1286.8 602.7,1286.6 603.2,1286.8 603.8,1286.2 604.3,1286.6 604.9,1286.6 605.4,1286.4 606.0,1286.2 606.5,1286.6 607.1,1285.5 607.6,1285.9 608.2,1285.6 608.7,1285.7 609.3,1285.4 609.8,1285.3 610.4,1284.8 610.9,1284.8 611.5,1284.3 612.0,1284.5 612.6,1283.7 613.1,1283.5 613.7,1283.1 614.2,1282.6 614.8,1282.1 615.3,1281.5 615.9,1281.2 616.4,1280.0 617.0,1279.7 617.5,1279.1 618.1,1278.2 618.6,1277.3 619.2,1276.6 619.7,1275.5 620.3,1274.4 620.8,1273.0 621.4,1271.9 621.9,1270.5 622.5,1269.5 623.0,1268.2 623.6,1267.1 624.1,1265.4 624.7,1264.5 625.2,1263.1 625.8,1261.9 626.3,1260.4 626.9,1259.5 627.4,1258.6 628.0,1258.0 628.5,1257.6 629.1,1257.4 629.6,1257.1 630.2,1257.4 630.7,1257.5 631.3,1258.0 631.8,1258.7 632.4,1260.0 632.9,1260.7 633.5,1261.8 634.0,1262.6 634.6,1264.0 635.1,1265.3 635.7,1266.3 636.2,1267.6 636.8,1269.0 637.3,1270.1 637.9,1271.3 638.4,1272.1 639.0,1273.9 639.5,1273.5 640.1,1275.2 640.6,1275.5 641.2,1275.6 641.7,1276.8 642.3,1276.9 642.8,1277.0 643.4,1277.5 643.9,1277.5 644.5,1278.0 645.0,1277.5 645.6,1277.9 646.1,1277.5 646.7,1277.2 647.2,1276.8 647.8,1276.7 648.3,1276.4 648.9,1275.8 649.4,1274.7 650.0,1274.8 650.5,1274.4 651.1,1273.9 651.6,1273.2 652.2,1272.6 652.7,1271.8 653.3,1271.0 653.8,1271.1 654.4,1270.5 654.9,1270.1 655.5,1270.2 656.0,1269.5 656.6,1269.6 657.1,1269.6 657.7,1269.8 658.2,1269.8 658.8,1270.1 659.3,1270.7 659.9,1271.2 660.4,1271.6 661.0,1272.2 661.5,1272.7 662.1,1274.1 662.6,1274.8 663.2,1275.4 663.7,1275.7 664.3,1277.1 664.8,1277.4 665.4,1278.2 665.9,1278.7 666.5,1279.8 667.0,1280.2 667.6,1281.0 668.1,1281.5 668.7,1281.8 669.2,1282.9 669.8,1282.8 670.3,1283.2 670.9,1284.0 671.4,1284.2 672.0,1284.6 672.5,1284.8 673.1,1285.3 673.6,1285.2 674.2,1285.4 674.7,1285.7 675.3,1286.4 675.8,1286.0 676.4,1286.2 676.9,1286.2 677.5,1286.5 678.0,1286.7 678.6,1286.5 679.1,1286.6 679.7,1287.3 680.2,1287.3 680.8,1286.9 681.3,1287.3 681.9,1287.7 682.4,1287.4 683.0,1287.4 683.5,1287.6 684.1,1287.5 684.6,1288.2 685.2,1287.4 685.7,1287.5 686.3,1288.3 686.8,1287.6 687.4,1288.4 687.9,1287.5 688.5,1288.3 689.0,1287.8 689.6,1287.9 690.1,1288.0 690.7,1288.3 691.2,1288.0 691.8,1288.0 692.3,1288.4 692.9,1288.2 693.4,1287.8 694.0,1288.2 694.5,1288.4 695.1,1288.1 695.6,1288.3 696.2,1287.9 696.7,1288.0 697.3,1288.2 697.8,1288.4 698.4,1288.5 698.9,1288.3 699.5,1288.5 700.0,1288.7 700.6,1288.3 701.1,1288.2 701.7,1288.6 702.2,1288.6 702.8,1288.9 703.3,1288.0 703.9,1288.5 704.4,1288.9 705.0,1288.6 705.5,1288.0 706.1,1288.6 706.6,1288.5 707.2,1288.8 707.7,1288.7 708.3,1288.7 708.8,1289.1 709.4,1288.5 709.9,1288.8 710.5,1288.9 711.0,1288.9 711.6,1288.6 712.1,1288.7 712.7,1288.5 713.2,1288.7 713.8,1288.9 714.3,1288.8 714.9,1288.7 715.4,1288.7 716.0,1288.9 716.5,1288.6 717.1,1288.0 717.6,1288.5 718.2,1289.1 718.7,1288.6 719.3,1288.7 719.8,1288.7 720.4,1288.9 720.9,1288.3 721.5,1288.6 722.0,1288.4 722.6,1288.6 723.1,1288.7 723.7,1288.3 724.2,1288.7 724.8,1288.7 725.3,1288.5 725.9,1288.6 726.4,1288.3 727.0,1288.1 727.5,1288.2 728.1,1288.2 728.6,1287.8 729.2,1287.9 729.7,1287.9 730.3,1287.8 730.8,1288.1 731.4,1288.5 731.9,1286.8 732.5,1287.8 733.0,1288.1 733.6,1287.5 734.1,1287.0 734.7,1286.8 735.2,1287.2 735.8,1287.2 736.3,1286.7 736.9,1286.9 737.4,1286.4 738.0,1286.2 738.5,1286.1 739.1,1285.6 739.6,1285.4 740.2,1285.3 740.7,1284.8 741.3,1284.9 741.8,1284.5 742.4,1284.7 742.9,1284.0 743.5,1284.1 744.0,1283.7 744.6,1283.9 745.1,1283.1 745.7,1283.6 746.2,1283.2 746.8,1282.7 747.3,1283.0 747.9,1282.9 748.4,1282.8 749.0,1282.8 749.5,1282.9 750.1,1283.5 750.6,1282.9 751.2,1283.7 751.7,1283.6 752.3,1284.2 752.8,1284.3 753.4,1284.5 753.9,1284.7 754.5,1284.5 755.0,1285.0 755.6,1284.5 756.1,1285.1 756.7,1285.8 757.2,1285.3 757.8,1286.0 758.3,1286.2 758.9,1286.9 759.4,1286.6 760.0,1286.8 760.5,1286.9 761.1,1287.2 761.6,1287.3 762.2,1287.5 762.7,1287.6 763.3,1287.3 763.8,1288.0 764.4,1287.6 764.9,1288.0 765.5,1287.6 766.0,1288.0 766.6,1288.4 767.1,1287.4 767.7,1288.1 768.2,1288.3 768.8,1287.8 769.3,1288.3 769.9,1288.0 770.4,1288.3 771.0,1288.3 771.5,1288.0 772.1,1288.1 772.6,1287.8 773.2,1288.4 773.7,1288.2 774.3,1287.8 774.8,1288.1 775.4,1288.3 775.9,1288.1 776.5,1288.5 777.0,1288.3 777.6,1288.2 778.1,1288.0 778.7,1287.9 779.2,1288.1 779.8,1288.0 780.3,1288.2 780.9,1287.7 781.4,1288.0 782.0,1287.9 782.5,1288.1 783.1,1287.6 783.6,1287.6 784.2,1287.6 784.7,1287.7 785.3,1287.2 785.8,1287.6 786.4,1287.5 786.9,1287.6 787.5,1287.2 788.0,1287.3 788.6,1287.2 789.1,1287.3 789.7,1287.3 790.2,1286.7 790.8,1286.4 791.3,1286.6 791.9,1286.0 792.4,1286.3 793.0,1285.8 793.5,1285.5 794.1,1285.1 794.6,1285.9 795.2,1284.9 795.7,1284.2 796.3,1284.1 796.8,1283.6 797.4,1283.6 797.9,1283.3 798.5,1282.3 799.0,1282.2 799.6,1281.6 800.1,1280.6 800.7,1279.9 801.2,1279.6 801.8,1278.9 802.3,1278.7 802.9,1277.5 803.4,1277.4 804.0,1276.3 804.5,1275.2 805.1,1274.8 805.6,1274.2 806.2,1273.9 806.7,1273.0 807.3,1272.9 807.8,1272.1 808.4,1272.0 808.9,1271.4 809.5,1271.3 810.0,1271.6 810.6,1271.5 811.1,1271.3 811.7,1271.8 812.2,1272.1 812.8,1272.4 813.3,1272.7 813.9,1273.0 814.4,1273.7 815.0,1273.9 815.5,1274.1 816.1,1274.8 816.6,1274.6 817.2,1275.0 817.7,1275.6 818.3,1275.6 818.8,1276.0 819.4,1276.1 819.9,1276.5 820.5,1276.9 821.0,1276.9 821.6,1277.1 822.1,1277.1 822.7,1276.7 823.2,1276.8 823.8,1277.1 824.3,1277.6 824.9,1277.6 825.4,1278.3 826.0,1278.1 826.5,1278.2 827.1,1279.1 827.6,1279.9 828.2,1280.1 828.7,1280.2 829.3,1280.2 829.8,1281.2 830.4,1281.6 830.9,1282.1 831.5,1282.8 832.0,1282.9 832.6,1283.7 833.1,1284.3 833.7,1283.9 834.2,1285.1 834.8,1284.8 835.3,1285.4 835.9,1285.7 836.4,1286.2 837.0,1286.1 837.5,1286.4 838.1,1286.2 838.6,1286.9 839.2,1287.6 839.7,1287.0 840.3,1287.2 840.8,1286.8 841.4,1287.1 841.9,1287.4 842.5,1287.3 843.0,1288.2 843.6,1287.7 844.1,1287.8 844.7,1288.2 845.2,1288.4 845.8,1288.9 846.3,1287.3 846.9,1288.0 847.4,1288.4 848.0,1288.2 848.5,1288.0 849.1,1288.0 849.6,1288.2 850.2,1288.4 850.7,1288.4 851.3,1288.3 851.8,1288.2 852.4,1288.2 852.9,1288.3 853.5,1288.3 854.0,1288.9 854.6,1288.5 855.1,1288.4 855.7,1288.4 856.2,1288.6 856.8,1288.4 857.3,1288.7 857.9,1288.7 858.4,1288.6 859.0,1288.2 859.5,1288.7 860.1,1288.9 860.6,1288.0 861.2,1288.6 861.7,1288.5 862.3,1288.6 862.8,1288.4 863.4,1288.2 863.9,1288.3 864.5,1288.2 865.0,1288.8 865.6,1288.0 866.1,1288.2 866.7,1288.5 867.2,1288.8 867.8,1288.4 868.3,1288.5 868.9,1288.4 869.4,1288.0 870.0,1288.5 870.5,1288.3 871.1,1288.4 871.6,1288.7 872.2,1289.0 872.7,1288.5 873.3,1288.6 873.8,1288.6 874.4,1288.0 874.9,1288.8 875.5,1288.6 876.0,1288.9 876.6,1288.6 877.1,1288.3 877.7,1288.2 878.2,1288.2 878.8,1288.8 879.3,1288.7 879.9,1288.4 880.4,1288.5 881.0,1288.4 881.5,1289.0 882.1,1288.5 882.6,1288.5 883.2,1288.2 883.7,1288.2 884.3,1288.1 884.8,1288.0 885.4,1287.9 885.9,1288.2 886.5,1288.1 887.0,1287.8 887.6,1288.4 888.1,1288.1 888.7,1288.3 889.2,1288.1 889.8,1288.3 890.3,1287.9 890.9,1287.6 891.4,1287.9 892.0,1287.8 892.5,1287.7 893.1,1287.6 893.6,1287.6 894.2,1287.5 894.7,1287.5 895.3,1287.6 895.8,1287.5 896.4,1287.0 896.9,1287.1 897.5,1287.1 898.0,1286.7 898.6,1286.9 899.1,1286.7 899.7,1286.3 900.2,1286.6 900.8,1286.3 901.3,1285.9 901.9,1285.9 902.4,1285.3 903.0,1285.3 903.5,1285.2 904.1,1285.3 904.6,1285.4 905.2,1284.3 905.7,1284.6 906.3,1284.6 906.8,1284.3 907.4,1283.9 907.9,1283.6 908.5,1282.8 909.0,1282.8 909.6,1282.8 910.1,1282.4 910.7,1282.4 911.2,1282.0 911.8,1281.3 912.3,1281.3 912.9,1281.4 913.4,1280.5 914.0,1280.4 914.5,1279.8 915.1,1280.2 915.6,1279.9 916.2,1279.7 916.7,1279.6 917.3,1279.4 917.8,1279.6 918.4,1278.7 918.9,1279.1 919.5,1279.3 920.0,1278.7 920.6,1278.9 921.1,1279.0 921.7,1279.1 922.2,1279.6 922.8,1279.6 923.3,1279.0 923.9,1279.4 924.4,1279.0 925.0,1279.7 925.5,1279.9 926.1,1280.2 926.6,1279.9 927.2,1280.2 927.7,1279.7 928.3,1280.2 928.8,1280.3 929.4,1280.5 929.9,1280.6 930.5,1280.7 931.0,1281.2 931.6,1280.7 932.1,1280.9 932.7,1281.0 933.2,1280.7 933.8,1280.8 934.3,1280.9 934.9,1280.3 935.4,1281.2 936.0,1280.7 936.5,1280.8 937.1,1281.0 937.6,1280.4 938.2,1280.7 938.7,1280.6 939.3,1280.5 939.8,1280.9 940.4,1280.7 940.9,1280.7 941.5,1280.8 942.0,1280.7 942.6,1281.2 943.1,1281.5 943.7,1281.4 944.2,1281.8 944.8,1283.0 945.3,1282.6 945.9,1282.6 946.4,1282.5 947.0,1283.2 947.5,1283.4 948.1,1283.8 948.6,1283.9 949.2,1284.1 949.7,1284.6 950.3,1285.4 950.8,1285.5 951.4,1285.6 951.9,1285.4 952.5,1285.8 953.0,1286.1 953.6,1286.4 954.1,1286.5 954.7,1287.0 955.2,1286.3 955.8,1286.9 956.3,1286.9 956.9,1287.6 957.4,1286.7 958.0,1287.7 958.5,1287.6 959.1,1287.7 959.6,1287.9 960.2,1288.0 960.7,1288.0 961.3,1287.8 961.8,1287.6 962.4,1287.7 962.9,1288.2 963.5,1288.5 964.0,1288.5 964.6,1288.0 965.1,1287.9 965.7,1287.9 966.2,1287.7 966.8,1288.3 967.3,1288.4 967.9,1288.3 968.4,1288.5 969.0,1288.5 969.5,1288.0 970.1,1288.4 970.6,1288.6 971.2,1287.8 971.7,1288.5 972.3,1288.7 972.8,1288.2 973.4,1288.6 973.9,1288.8 974.5,1288.6 975.0,1288.2 975.6,1288.5 976.1,1288.6 976.7,1288.2 977.2,1288.0 977.8,1288.9 978.3,1288.6 978.9,1288.5 979.4,1288.6 980.0,1288.5 980.5,1289.1 981.1,1288.2 981.6,1288.4 982.2,1288.4 982.7,1288.4 983.3,1288.7 983.8,1288.7 984.4,1288.8 984.9,1288.7 985.5,1288.5 986.0,1288.1 986.6,1288.3 987.1,1288.3 987.7,1288.4 988.2,1288.0 988.8,1288.1 989.3,1288.4 989.9,1288.3 990.4,1288.5 991.0,1288.0 991.5,1288.9 992.1,1288.0 992.6,1288.2 993.2,1288.8 993.7,1288.7 994.3,1288.1 994.8,1288.2 995.4,1288.3 995.9,1288.3 996.5,1288.1 997.0,1288.4 997.6,1288.4 998.1,1287.7 998.7,1287.7 999.2,1288.0 999.8,1288.7 1000.3,1288.4 1000.9,1287.5 1001.4,1288.1 1002.0,1288.4 1002.5,1288.0 1003.1,1288.1 1003.6,1288.0 1004.2,1288.3 1004.7,1288.6 1005.3,1287.8 1005.8,1288.0 1006.4,1288.2 1006.9,1288.0 1007.5,1288.3 1008.0,1288.1 1008.6,1287.5 1009.1,1288.1 1009.7,1287.8 1010.2,1287.8 1010.8,1287.8 1011.3,1287.6 1011.9,1288.0 1012.4,1287.8 1013.0,1287.9 1013.5,1287.9 1014.1,1287.9 1014.6,1288.0 1015.2,1287.4 1015.7,1287.8 1016.3,1287.2 1016.8,1287.6 1017.4,1287.4 1017.9,1287.5 1018.5,1287.5 1019.0,1287.4 1019.6,1287.0 1020.1,1287.7 1020.7,1286.9 1021.2,1287.2 1021.8,1287.1 1022.3,1287.1 1022.9,1287.1 1023.4,1286.9 1024.0,1286.7 1024.5,1287.1 1025.1,1286.7 1025.6,1286.3 1026.2,1286.6 1026.7,1286.2 1027.3,1286.3 1027.8,1285.9 1028.4,1286.2 1028.9,1286.3 1029.5,1285.9 1030.0,1285.4 1030.6,1285.1 1031.1,1284.7 1031.7,1284.7 1032.2,1284.7 1032.8,1284.4 1033.3,1283.9 1033.9,1283.2 1034.4,1282.8 1035.0,1282.4 1035.5,1281.7 1036.1,1280.8 1036.6,1280.2 1037.2,1279.3 1037.7,1278.4 1038.3,1277.8 1038.8,1276.6 1039.4,1275.7 1039.9,1273.7 1040.5,1272.9 1041.0,1272.3 1041.6,1270.5 1042.1,1269.5 1042.7,1267.9 1043.2,1266.8 1043.8,1265.3 1044.3,1264.3 1044.9,1263.7 1045.4,1263.1 1046.0,1262.8 1046.5,1263.5 1047.1,1263.2 1047.6,1263.8 1048.2,1264.5 1048.7,1265.7 1049.3,1266.6 1049.8,1267.8 1050.4,1267.9 1050.9,1269.6 1051.5,1269.9 1052.0,1270.9 1052.6,1271.9 1053.1,1273.1 1053.7,1273.1 1054.2,1273.8 1054.8,1273.2 1055.3,1273.8 1055.9,1274.0 1056.4,1274.3 1057.0,1273.8 1057.5,1273.9 1058.1,1273.5 1058.6,1273.4 1059.2,1272.5 1059.7,1271.8 1060.3,1270.5 1060.8,1270.1 1061.4,1269.3 1061.9,1267.8 1062.5,1266.6 1063.0,1265.2 1063.6,1264.2 1064.1,1262.8 1064.7,1260.3 1065.2,1259.4 1065.8,1257.3 1066.3,1256.0 1066.9,1254.2 1067.4,1252.5 1068.0,1250.7 1068.5,1249.8 1069.1,1248.8 1069.6,1248.1 1070.2,1247.2 1070.7,1247.2 1071.3,1246.9 1071.8,1247.3 1072.4,1248.2 1072.9,1249.0 1073.5,1250.6 1074.0,1251.7 1074.6,1253.0 1075.1,1254.2 1075.7,1256.0 1076.2,1257.5 1076.8,1258.5 1077.3,1260.0 1077.9,1261.1 1078.4,1262.1 1079.0,1263.3 1079.5,1263.8 1080.1,1265.5 1080.6,1266.4 1081.2,1266.7 1081.7,1267.7 1082.3,1268.4 1082.8,1269.1 1083.4,1270.0 1083.9,1270.5 1084.5,1270.6 1085.0,1271.1 1085.6,1271.5 1086.1,1271.9 1086.7,1272.3 1087.2,1273.2 1087.8,1272.9 1088.3,1273.3 1088.9,1273.6 1089.4,1274.0 1090.0,1274.4 1090.5,1274.3 1091.1,1274.7 1091.6,1275.3 1092.2,1275.6 1092.7,1275.6 1093.3,1275.8 1093.8,1275.9 1094.4,1275.8 1094.9,1276.9 1095.5,1276.4 1096.0,1276.8 1096.6,1277.5 1097.1,1277.3 1097.7,1278.2 1098.2,1277.8 1098.8,1277.9 1099.3,1278.5 1099.9,1278.7 1100.4,1278.3 1101.0,1278.9 1101.5,1279.1 1102.1,1279.3 1102.6,1280.0 1103.2,1279.5 1103.7,1280.0 1104.3,1280.6 1104.8,1280.9 1105.4,1280.9 1105.9,1281.0 1106.5,1281.2 1107.0,1281.6 1107.6,1281.3 1108.1,1282.0 1108.7,1282.1 1109.2,1282.3 1109.8,1282.4 1110.3,1282.7 1110.9,1283.1 1111.4,1282.9 1112.0,1283.6 1112.5,1283.5 1113.1,1283.6 1113.6,1283.5 1114.2,1283.8 1114.7,1283.9 1115.3,1284.3 1115.8,1284.8 1116.4,1284.7 1116.9,1284.5 1117.5,1284.9 1118.0,1284.7 1118.6,1284.6 1119.1,1285.2 1119.7,1285.4 1120.2,1285.3 1120.8,1285.4 1121.3,1285.5 1121.9,1285.7 1122.4,1285.6 1123.0,1285.4 1123.5,1285.8 1124.1,1286.1 1124.6,1285.7 1125.2,1286.4 1125.7,1286.1 1126.3,1286.0 1126.8,1286.8 1127.4,1286.7 1127.9,1286.6 1128.5,1286.1 1129.0,1286.7 1129.6,1286.6 1130.1,1287.1 1130.7,1287.0 1131.2,1287.4 1131.8,1286.9 1132.3,1287.2 1132.9,1287.2 1133.4,1286.6 1134.0,1286.9 1134.5,1287.1 1135.1,1287.4 1135.6,1287.4 1136.2,1287.4 1136.7,1287.1 1137.3,1287.4 1137.8,1287.4 1138.4,1287.3 1138.9,1287.2 1139.5,1287.3 1140.0,1287.5 1140.6,1287.6 1141.1,1287.7 1141.7,1287.7 1142.2,1286.9 1142.8,1287.6 1143.3,1287.1 1143.9,1287.4 1144.4,1287.5 1145.0,1287.5 1145.5,1287.8 1146.1,1287.3 1146.6,1287.6 1147.2,1287.3 1147.7,1287.6 1148.3,1287.3 1148.8,1287.7 1149.4,1287.2 1149.9,1287.2 1150.5,1287.1 1151.0,1287.7 1151.6,1287.9 1152.1,1287.4 1152.7,1287.4 1153.2,1287.3 1153.8,1287.1 1154.3,1287.3 1154.9,1287.3 1155.4,1287.0 1156.0,1287.2 1156.5,1287.6 1157.1,1287.0 1157.6,1287.4 1158.2,1287.2 1158.7,1286.7 1159.3,1287.1 1159.8,1287.4 1160.4,1286.6 1160.9,1286.5 1161.5,1286.4 1162.0,1287.0 1162.6,1286.1 1163.1,1286.9 1163.7,1286.4 1164.2,1286.2 1164.8,1285.6 1165.3,1285.7 1165.9,1285.8 1166.4,1284.9 1167.0,1285.0 1167.5,1284.3 1168.1,1284.3 1168.6,1283.6 1169.2,1283.5 1169.7,1283.2 1170.3,1283.0 1170.8,1281.3 1171.4,1280.7 1171.9,1280.5 1172.5,1279.5 1173.0,1278.6 1173.6,1278.3 1174.1,1277.4 1174.7,1276.4 1175.2,1276.1 1175.8,1275.1 1176.3,1274.8 1176.9,1273.9 1177.4,1273.7 1178.0,1273.5 1178.5,1273.1 1179.1,1273.1 1179.6,1273.6 1180.2,1274.1 1180.7,1274.1 1181.3,1274.8 1181.8,1275.2 1182.4,1276.1 1182.9,1277.3 1183.5,1277.9 1184.0,1278.3 1184.6,1279.3 1185.1,1279.0 1185.7,1279.6 1186.2,1280.4 1186.8,1281.0 1187.3,1281.7 1187.9,1281.9 1188.4,1282.4 1189.0,1282.5 1189.5,1283.0 1190.1,1283.1 1190.6,1283.2 1191.2,1283.2 1191.7,1283.4 1192.3,1283.1 1192.8,1283.5 1193.4,1283.6 1193.9,1283.6 1194.5,1283.2 1195.0,1282.6 1195.6,1282.8 1196.1,1282.6 1196.7,1282.3 1197.2,1282.6 1197.8,1282.5 1198.3,1282.0 1198.9,1281.1 1199.4,1280.9 1200.0,1280.6 1200.5,1279.8 1201.1,1279.7 1201.6,1279.0 1202.2,1278.7 1202.7,1277.8 1203.3,1277.7 1203.8,1277.1 1204.4,1276.4 1204.9,1275.1 1205.5,1274.4 1206.0,1273.7 1206.6,1273.1 1207.1,1272.6 1207.7,1271.7 1208.2,1270.9 1208.8,1270.2 1209.3,1269.5 1209.9,1269.0 1210.4,1267.9 1211.0,1267.6 1211.5,1266.4 1212.1,1266.2 1212.6,1265.4 1213.2,1265.5 1213.7,1264.7 1214.3,1264.6 1214.8,1264.4 1215.4,1264.4 1215.9,1264.7 1216.5,1264.9 1217.0,1265.4 1217.6,1265.2 1218.1,1265.2 1218.7,1266.5 1219.2,1267.1 1219.8,1267.4 1220.3,1268.6 1220.9,1269.1 1221.4,1269.6 1222.0,1270.5 1222.5,1271.3 1223.1,1272.3 1223.6,1273.3 1224.2,1273.9 1224.7,1274.8 1225.3,1275.1 1225.8,1275.7 1226.4,1276.9 1226.9,1277.0 1227.5,1278.5 1228.0,1278.5 1228.6,1279.7 1229.1,1279.7 1229.7,1280.2 1230.2,1280.4 1230.8,1280.8 1231.3,1281.5 1231.9,1282.3 1232.4,1282.5 1233.0,1283.1 1233.5,1282.9 1234.1,1283.5 1234.6,1283.9 1235.2,1284.1 1235.7,1284.8 1236.3,1284.2 1236.8,1284.6 1237.4,1284.8 1237.9,1285.1 1238.5,1285.4 1239.0,1285.5 1239.6,1286.0 1240.1,1285.9 1240.7,1285.6 1241.2,1285.6 1241.8,1285.5 1242.3,1285.7 1242.9,1285.9 1243.4,1286.4 1244.0,1286.0 1244.5,1286.1 1245.1,1285.8 1245.6,1286.3 1246.2,1286.5 1246.7,1286.2 1247.3,1286.3 1247.8,1286.2 1248.4,1285.9 1248.9,1286.0 1249.5,1286.0 1250.0,1286.0 1250.6,1285.9 1251.1,1285.8 1251.7,1285.9 1252.2,1285.6 1252.8,1286.0 1253.3,1285.5 1253.9,1285.5 1254.4,1285.5 1255.0,1284.7 1255.5,1284.8 1256.1,1285.0 1256.6,1285.1 1257.2,1284.4 1257.7,1284.4 1258.3,1284.3 1258.8,1284.2 1259.4,1283.9 1259.9,1284.3 1260.5,1283.5 1261.0,1283.3 1261.6,1282.9 1262.1,1283.1 1262.7,1282.6 1263.2,1282.9 1263.8,1282.0 1264.3,1282.3 1264.9,1282.0 1265.4,1282.2 1266.0,1281.8 1266.5,1281.4 1267.1,1281.1 1267.6,1281.1 1268.2,1280.6 1268.7,1280.7 1269.3,1280.0 1269.8,1280.2 1270.4,1279.5 1270.9,1279.8 1271.5,1280.3 1272.0,1279.8 1272.6,1279.6 1273.1,1280.0 1273.7,1279.6 1274.2,1279.4 1274.8,1279.4 1275.3,1279.4 1275.9,1279.7 1276.4,1279.4 1277.0,1279.7 1277.5,1279.7 1278.1,1279.9 1278.6,1279.6 1279.2,1280.7 1279.7,1280.1 1280.3,1280.5 1280.8,1281.0 1281.4,1281.0 1281.9,1280.8 1282.5,1281.3 1283.0,1281.6 1283.6,1281.6 1284.1,1281.7 1284.7,1282.0 1285.2,1281.7 1285.8,1282.4 1286.3,1282.4 1286.9,1282.6 1287.4,1282.5 1288.0,1283.2 1288.5,1283.6 1289.1,1283.8 1289.6,1284.0 1290.2,1284.0 1290.7,1284.6 1291.3,1284.2 1291.8,1284.9 1292.4,1284.4 1292.9,1284.9 1293.5,1285.0 1294.0,1286.1 1294.6,1285.7 1295.1,1285.0 1295.7,1286.1 1296.2,1286.0 1296.8,1285.7 1297.3,1286.2 1297.9,1286.2 1298.4,1286.2 1299.0,1286.4 1299.5,1286.5 1300.1,1286.8 1300.6,1286.5 1301.2,1286.0 1301.7,1286.8 1302.3,1286.5 1302.8,1286.9 1303.4,1287.0 1303.9,1287.7 1304.5,1286.9 1305.0,1286.4 1305.6,1287.0 1306.1,1287.3 1306.7,1287.2 1307.2,1287.0 1307.8,1287.0 1308.3,1286.8 1308.9,1287.1 1309.4,1286.8 1310.0,1287.1 1310.5,1287.4 1311.1,1287.5 1311.6,1287.6 1312.2,1287.1 1312.7,1287.1 1313.3,1286.9 1313.8,1286.8 1314.4,1287.3 1314.9,1286.9 1315.5,1286.8 1316.0,1286.7 1316.6,1286.9 1317.1,1286.7 1317.7,1286.7 1318.2,1286.5 1318.8,1286.3 1319.3,1286.6 1319.9,1286.1 1320.4,1285.7 1321.0,1285.7 1321.5,1285.4 1322.1,1285.4 1322.6,1285.2 1323.2,1284.8 1323.7,1284.7 1324.3,1284.1 1324.8,1283.8 1325.4,1283.4 1325.9,1282.9 1326.5,1282.7 1327.0,1282.2 1327.6,1281.4 1328.1,1280.6 1328.7,1280.4 1329.2,1279.4 1329.8,1278.8 1330.3,1278.6 1330.9,1277.9 1331.4,1277.1 1332.0,1276.1 1332.5,1275.7 1333.1,1275.1 1333.6,1274.4 1334.2,1273.5 1334.7,1272.9 1335.3,1272.1 1335.8,1271.8 1336.4,1271.1 1336.9,1271.2 1337.5,1270.7 1338.0,1270.4 1338.6,1270.6 1339.1,1270.7 1339.7,1270.9 1340.2,1271.1 1340.8,1271.8 1341.3,1271.9 1341.9,1272.7 1342.4,1273.2 1343.0,1274.2 1343.5,1274.3 1344.1,1275.4 1344.6,1275.9 1345.2,1276.7 1345.7,1277.8 1346.3,1278.3 1346.8,1278.5 1347.4,1279.5 1347.9,1280.5 1348.5,1281.3 1349.0,1282.0 1349.6,1281.7 1350.1,1282.2 1350.7,1282.8 1351.2,1283.1 1351.8,1283.3 1352.3,1284.1 1352.9,1284.4 1353.4,1285.2 1354.0,1285.0 1354.5,1285.0 1355.1,1285.2 1355.6,1285.3 1356.2,1285.5 1356.7,1285.5 1357.3,1286.2 1357.8,1286.0 1358.4,1285.9 1358.9,1286.4 1359.5,1286.2 1360.0,1286.3 1360.6,1286.4 1361.1,1286.5 1361.7,1286.2 1362.2,1286.6 1362.8,1286.6 1363.3,1285.8 1363.9,1286.4 1364.4,1286.3 1365.0,1286.8 1365.5,1286.5 1366.1,1285.9 1366.6,1286.1 1367.2,1286.1 1367.7,1285.8 1368.3,1285.9 1368.8,1285.8 1369.4,1285.5 1369.9,1285.3 1370.5,1285.4 1371.0,1285.5 1371.6,1285.6 1372.1,1284.8 1372.7,1284.8 1373.2,1284.2 1373.8,1284.4 1374.3,1284.2 1374.9,1283.9 1375.4,1283.9 1376.0,1283.4 1376.5,1283.3 1377.1,1282.6 1377.6,1282.4 1378.2,1282.1 1378.7,1282.7 1379.3,1281.7 1379.8,1281.4 1380.4,1281.3 1380.9,1281.4 1381.5,1280.5 1382.0,1280.5 1382.6,1280.1 1383.1,1280.0 1383.7,1280.1 1384.2,1279.7 1384.8,1279.2 1385.3,1279.8 1385.9,1279.6 1386.4,1279.7 1387.0,1279.8 1387.5,1279.4 1388.1,1279.3 1388.6,1280.1 1389.2,1279.2 1389.7,1279.8 1390.3,1279.9 1390.8,1280.0 1391.4,1280.4 1391.9,1280.3 1392.5,1281.2 1393.0,1280.7 1393.6,1281.1 1394.1,1281.2 1394.7,1281.7 1395.2,1282.1 1395.8,1282.3 1396.3,1282.3 1396.9,1282.9 1397.4,1282.9 1398.0,1283.2 1398.5,1283.2 1399.1,1283.7 1399.6,1283.9 1400.2,1284.1 1400.7,1284.4 1401.3,1284.2 1401.8,1284.5 1402.4,1284.0 1402.9,1284.5 1403.5,1285.0 1404.0,1284.6 1404.6,1284.3 1405.1,1285.1 1405.7,1285.3 1406.2,1284.9 1406.8,1284.5 1407.3,1284.3 1407.9,1284.1 1408.4,1284.0 1409.0,1283.9 1409.5,1283.6 1410.1,1283.4 1410.6,1283.4 1411.2,1282.8 1411.7,1282.5 1412.3,1282.0 1412.8,1282.0 1413.4,1281.9 1413.9,1280.7 1414.5,1280.8 1415.0,1280.1 1415.6,1279.9 1416.1,1279.6 1416.7,1279.0 1417.2,1278.3 1417.8,1278.4 1418.3,1277.5 1418.9,1277.7 1419.4,1277.1 1420.0,1276.5 1420.5,1276.6 1421.1,1276.9 1421.6,1276.2 1422.2,1276.8 1422.7,1276.9 1423.3,1277.1 1423.8,1277.0 1424.4,1277.3 1424.9,1278.3 1425.5,1278.4 1426.0,1278.2 1426.6,1279.0 1427.1,1279.3 1427.7,1280.6 1428.2,1280.3 1428.8,1280.7 1429.3,1281.7 1429.9,1282.3 1430.4,1283.4 1431.0,1282.4 1431.5,1283.2 1432.1,1283.9 1432.6,1284.0 1433.2,1284.2 1433.7,1284.6 1434.3,1285.2 1434.8,1285.6 1435.4,1285.8 1435.9,1286.2 1436.5,1285.9 1437.0,1286.3 1437.6,1286.3 1438.1,1287.0 1438.7,1286.8 1439.2,1287.3 1439.8,1287.0 1440.3,1287.3 1440.9,1287.3 1441.4,1286.9 1442.0,1287.9 1442.5,1287.5 1443.1,1287.7 1443.6,1287.6 1444.2,1287.7 1444.7,1287.7 1445.3,1287.3 1445.8,1287.5 1446.4,1287.4 1446.9,1288.0 1447.5,1287.1 1448.0,1287.3 1448.6,1287.4 1449.1,1288.0 1449.7,1286.9 1450.2,1287.3 1450.8,1287.3 1451.3,1287.7 1451.9,1287.4 1452.4,1287.2 1453.0,1287.1 1453.5,1286.9 1454.1,1287.0 1454.6,1286.3 1455.2,1286.7 1455.7,1286.2 1456.3,1286.4 1456.8,1286.3 1457.4,1286.0 1457.9,1286.2 1458.5,1285.6 1459.0,1286.1 1459.6,1285.1 1460.1,1285.2 1460.7,1285.0 1461.2,1285.2 1461.8,1285.6 1462.3,1285.0 1462.9,1285.1 1463.4,1284.6 1464.0,1284.6 1464.5,1284.8 1465.1,1285.1 1465.6,1284.7 1466.2,1285.0 1466.7,1285.2 1467.3,1285.3 1467.8,1285.4 1468.4,1285.1 1468.9,1285.3 1469.5,1285.9 1470.0,1285.9 1470.6,1285.1 1471.1,1286.0 1471.7,1286.0 1472.2,1286.5 1472.8,1286.6 1473.3,1286.5 1473.9,1286.4 1474.4,1286.5 1475.0,1286.7 1475.5,1287.0 1476.1,1287.1 1476.6,1286.6 1477.2,1287.2 1477.7,1287.9 1478.3,1287.7 1478.8,1287.6 1479.4,1288.0 1479.9,1287.8 1480.5,1287.6 1481.0,1287.1 1481.6,1287.8 1482.1,1287.5 1482.7,1287.5 1483.2,1287.6 1483.8,1287.5 1484.3,1287.3 1484.9,1287.6 1485.4,1287.0 1486.0,1287.4 1486.5,1287.3 1487.1,1287.4 1487.6,1286.8 1488.2,1286.5 1488.7,1286.2 1489.3,1286.0 1489.8,1286.2 1490.4,1285.7 1490.9,1285.0 1491.5,1284.8 1492.0,1284.2 1492.6,1284.4 1493.1,1283.9 1493.7,1283.0 1494.2,1282.8 1494.8,1282.1 1495.3,1282.3 1495.9,1281.6 1496.4,1281.5 1497.0,1280.8 1497.5,1280.8 1498.1,1280.4 1498.6,1280.1 1499.2,1280.2 1499.7,1280.1 1500.3,1279.9 1500.8,1280.4 1501.4,1280.3 1501.9,1280.1 1502.5,1281.1 1503.0,1281.1 1503.6,1281.9 1504.1,1282.2 1504.7,1283.0 1505.2,1282.9 1505.8,1283.5 1506.3,1284.4 1506.9,1284.5 1507.4,1284.9 1508.0,1285.1 1508.5,1285.8 1509.1,1286.3 1509.6,1286.3 1510.2,1286.8 1510.7,1287.3 1511.3,1287.2 1511.8,1287.7 1512.4,1288.1 1512.9,1288.2 1513.5,1288.5 1514.0,1288.7 1514.6,1288.7 1515.1,1288.8 1515.7,1288.9 1516.2,1289.3 1516.8,1289.4 1517.3,1289.5 1517.9,1289.6 1518.4,1289.3 1519.0,1289.9 1519.5,1290.3 1520.1,1289.4 1520.6,1289.9 1521.2,1289.9 1521.7,1290.0 1522.3,1289.7 1522.8,1289.8 1523.4,1290.5 1523.9,1290.1 1524.5,1289.9 1525.0,1290.4 1525.6,1290.2 1526.1,1290.4 1526.7,1290.9 1527.2,1290.5 1527.8,1290.5 1528.3,1290.7 1528.9,1290.8 1529.4,1290.9 1530.0,1290.4 1530.5,1290.7 1531.1,1290.6 1531.6,1290.6 1532.2,1290.6 1532.7,1290.9 1533.3,1290.6 1533.8,1290.9 1534.4,1290.7 1534.9,1290.8 1535.5,1290.8 1536.0,1290.8 1536.6,1290.8 1537.1,1290.8 1537.7,1290.4 1538.2,1290.8 1538.8,1290.6 1539.3,1290.9 1539.9,1291.2 1540.4,1291.1 1541.0,1290.7 1541.5,1291.4 1542.1,1290.8 1542.6,1291.0 1543.2,1291.0 1543.7,1290.7 1544.3,1291.2 1544.8,1290.6 1545.4,1291.2 1545.9,1291.4 1546.5,1291.3 1547.0,1291.1 1547.6,1291.1 1548.1,1290.6 1548.7,1291.3 1549.2,1291.7 1549.8,1291.4 1550.3,1291.7 1550.9,1291.2 1551.4,1291.2 1552.0,1291.3 1552.5,1291.3 1553.1,1291.2 1553.6,1291.0 1554.2,1291.3 1554.7,1291.5 1555.3,1291.6 1555.8,1291.3 1556.4,1291.4 1556.9,1291.3 1557.5,1291.8 1558.0,1291.5 1558.6,1291.3 1559.1,1291.2 1559.7,1291.6 1560.2,1291.4 1560.8,1291.1 1561.3,1290.9 1561.9,1292.0 1562.4,1291.2 1563.0,1291.3 1563.5,1291.3 1564.1,1291.3 1564.6,1291.8 1565.2,1291.5 1565.7,1291.4 1566.3,1291.2 1566.8,1291.4 1567.4,1291.0 1567.9,1291.4 1568.5,1291.5 1569.0,1290.8 1569.6,1291.5 1570.1,1291.3 1570.7,1291.6 1571.2,1291.2 1571.8,1291.3 1572.3,1291.1 1572.9,1291.2 1573.4,1291.7 1574.0,1291.0 1574.5,1291.1 1575.1,1291.2 1575.6,1291.7 1576.2,1291.0 1576.7,1291.0 1577.3,1291.1 1577.8,1291.2 1578.4,1290.9 1578.9,1291.0 1579.5,1291.0 1580.0,1291.1 1580.6,1291.1 1581.1,1291.1 1581.7,1291.3 1582.2,1291.1 1582.8,1291.3 1583.3,1291.3 1583.9,1291.2 1584.4,1291.1 1585.0,1291.2 1585.5,1291.1 1586.1,1290.8 1586.6,1291.3 1587.2,1291.6 1587.7,1291.5 1588.3,1291.2 1588.8,1291.2 1589.4,1291.3 1589.9,1290.9 1590.5,1291.0 1591.0,1291.0 1591.6,1291.1 1592.1,1291.4 1592.7,1291.4 1593.2,1291.2 1593.8,1291.3 1594.3,1291.4 1594.9,1291.0 1595.4,1291.0 1596.0,1291.4 1596.5,1291.1 1597.1,1291.5 1597.6,1291.1 1598.2,1291.3 1598.7,1290.9 1599.3,1291.2 1599.8,1291.2 1600.4,1291.0 1600.9,1291.0 1601.5,1291.4 1602.0,1291.0 1602.6,1290.4 1603.1,1291.0 1603.7,1291.0 1604.2,1291.5 1604.8,1291.2 1605.3,1290.9 1605.9,1291.0 1606.4,1290.9 1607.0,1290.5 1607.5,1290.7 1608.1,1290.6 1608.6,1291.1 1609.2,1290.7 1609.7,1290.8 1610.3,1290.9 1610.8,1290.9 1611.4,1290.8 1611.9,1290.5 1612.5,1290.9 1613.0,1290.8 1613.6,1290.4 1614.1,1290.6 1614.7,1290.8 1615.2,1290.5 1615.8,1290.3 1616.3,1290.5 1616.9,1290.8 1617.4,1290.5 1618.0,1290.2 1618.5,1290.6 1619.1,1290.5 1619.6,1290.5 1620.2,1290.4 1620.7,1290.6 1621.3,1290.4 1621.8,1290.8 1622.4,1290.2 1622.9,1290.6 1623.5,1290.9 1624.0,1290.1 1624.6,1290.6 1625.1,1290.8 1625.7,1290.3 1626.2,1290.0 1626.8,1290.4 1627.3,1289.9 1627.9,1290.3 1628.4,1290.5 1629.0,1290.0 1629.5,1290.2 1630.1,1290.1 1630.6,1289.5 1631.2,1289.9 1631.7,1289.7 1632.3,1290.2 1632.8,1290.0 1633.4,1289.9 1633.9,1289.7 1634.5,1289.7 1635.0,1289.9 1635.6,1289.4 1636.1,1289.5 1636.7,1289.6 1637.2,1289.6 1637.8,1289.0 1638.3,1289.1 1638.9,1288.4 1639.4,1288.9 1640.0,1288.9 1640.5,1288.9 1641.1,1287.9 1641.6,1288.4 1642.2,1287.9 1642.7,1287.7 1643.3,1287.5 1643.8,1286.9 1644.4,1287.1 1644.9,1286.9 1645.5,1286.7 1646.0,1286.0 1646.6,1286.3 1647.1,1286.0 1647.7,1286.0 1648.2,1285.5 1648.8,1285.0 1649.3,1284.7 1649.9,1284.9 1650.4,1284.8 1651.0,1284.6 1651.5,1284.3 1652.1,1284.2 1652.6,1283.9 1653.2,1283.7 1653.7,1283.7 1654.3,1283.8 1654.8,1283.3 1655.4,1283.7 1655.9,1283.7 1656.5,1283.7 1657.0,1284.4 1657.6,1284.3 1658.1,1284.6 1658.7,1285.1 1659.2,1284.9 1659.8,1285.2 1660.3,1284.8 1660.9,1285.8 1661.4,1285.7 1662.0,1285.6 1662.5,1285.9 1663.1,1286.8 1663.6,1287.0 1664.2,1286.9 1664.7,1286.9 1665.3,1286.8 1665.8,1287.5 1666.4,1287.6 1666.9,1287.8 1667.5,1287.9 1668.0,1288.2 1668.6,1288.4 1669.1,1287.9 1669.7,1288.3 1670.2,1288.9 1670.8,1288.6 1671.3,1288.3 1671.9,1288.9 1672.4,1288.8 1673.0,1288.7 1673.5,1289.3 1674.1,1289.0 1674.6,1289.1 1675.2,1289.3 1675.7,1289.5 1676.3,1289.2 1676.8,1289.3 1677.4,1289.2 1677.9,1289.4 1678.5,1289.4 1679.0,1289.4 1679.6,1289.3 1680.1,1289.4 1680.7,1289.1 1681.2,1289.7 1681.8,1289.2 1682.3,1289.5 1682.9,1289.4 1683.4,1290.0 1684.0,1289.4 1684.5,1289.6 1685.1,1289.7 1685.6,1289.6 1686.2,1289.5 1686.7,1289.5 1687.3,1289.7 1687.8,1288.9 1688.4,1289.3 1688.9,1289.6 1689.5,1289.7 1690.0,1289.2 1690.6,1289.4 1691.1,1289.4 1691.7,1289.5 1692.2,1289.6 1692.8,1289.4 1693.3,1289.2 1693.9,1289.4 1694.4,1289.0 1695.0,1289.8 1695.5,1289.3 1696.1,1289.6 1696.6,1289.4 1697.2,1289.2 1697.7,1289.6 1698.3,1289.7 1698.8,1289.5 1699.4,1289.5 1699.9,1289.1 1700.5,1289.6 1701.0,1289.6 1701.6,1289.7 1702.1,1289.1 1702.7,1289.5 1703.2,1289.4 1703.8,1289.9 1704.3,1289.4 1704.9,1289.4 1705.4,1289.4 1706.0,1289.4 1706.5,1289.7 1707.1,1289.5 1707.6,1289.7 1708.2,1289.2 1708.7,1289.7 1709.3,1289.6 1709.8,1289.1 1710.4,1289.7 1710.9,1289.5 1711.5,1289.5 1712.0,1289.7 1712.6,1289.0 1713.1,1289.7 1713.7,1289.9 1714.2,1289.3 1714.8,1289.6 1715.3,1289.5 1715.9,1289.7 1716.4,1289.5 1717.0,1289.1 1717.5,1289.1 1718.1,1289.9 1718.6,1289.7 1719.2,1289.3 1719.7,1289.6 1720.3,1289.3 1720.8,1289.5 1721.4,1289.4 1721.9,1289.4 1722.5,1289.1 1723.0,1289.6 1723.6,1289.5 1724.1,1289.5 1724.7,1289.3 1725.2,1288.9 1725.8,1288.8 1726.3,1289.6 1726.9,1288.9 1727.4,1289.2 1728.0,1289.3 1728.5,1289.4 1729.1,1289.1 1729.6,1289.3 1730.2,1289.2 1730.7,1288.7 1731.3,1288.9 1731.8,1289.4 1732.4,1289.3 1732.9,1288.9 1733.5,1289.0 1734.0,1289.0 1734.6,1289.2 1735.1,1289.2 1735.7,1288.7 1736.2,1288.7 1736.8,1288.7 1737.3,1288.7 1737.9,1288.3 1738.4,1288.3 1739.0,1288.7 1739.5,1288.4 1740.1,1287.9 1740.6,1288.3 1741.2,1288.0 1741.7,1287.8 1742.3,1287.7 1742.8,1287.6 1743.4,1287.5 1743.9,1287.7 1744.5,1287.3 1745.0,1287.5 1745.6,1286.7 1746.1,1286.8 1746.7,1287.0 1747.2,1286.7 1747.8,1286.3 1748.3,1286.4 1748.9,1286.6 1749.4,1286.4 1750.0,1286.7 1750.5,1285.3 1751.1,1286.0 1751.6,1285.6 1752.2,1285.0 1752.7,1285.0 1753.3,1284.9 1753.8,1284.5 1754.4,1284.8 1754.9,1284.6 1755.5,1284.4 1756.0,1284.8 1756.6,1284.7 1757.1,1284.5 1757.7,1284.6 1758.2,1284.5 1758.8,1284.1 1759.3,1284.3 1759.9,1284.1 1760.4,1284.5 1761.0,1284.7 1761.5,1284.6 1762.1,1284.8 1762.6,1284.9 1763.2,1285.5 1763.7,1285.2 1764.3,1285.4 1764.8,1285.2 1765.4,1286.2 1765.9,1285.9 1766.5,1286.5 1767.0,1286.1 1767.6,1286.4 1768.1,1286.5 1768.7,1286.9 1769.2,1286.8 1769.8,1287.3 1770.3,1287.3 1770.9,1287.6 1771.4,1287.6 1772.0,1287.6 1772.5,1287.9 1773.1,1287.8 1773.6,1288.0 1774.2,1287.6 1774.7,1288.3 1775.3,1288.8 1775.8,1288.4 1776.4,1288.8 1776.9,1288.4 1777.5,1288.7 1778.0,1288.7 1778.6,1289.0 1779.1,1289.0 1779.7,1289.3 1780.2,1289.1 1780.8,1289.4 1781.3,1289.3 1781.9,1289.1 1782.4,1289.3 1783.0,1289.5 1783.5,1289.2 1784.1,1289.2 1784.6,1289.4 1785.2,1289.4 1785.7,1289.5 1786.3,1289.5 1786.8,1289.5 1787.4,1289.8 1787.9,1289.8 1788.5,1290.0 1789.0,1289.5 1789.6,1289.6 1790.1,1290.0 1790.7,1289.4 1791.2,1289.9 1791.8,1289.9 1792.3,1290.0 1792.9,1290.1 1793.4,1290.0 1794.0,1290.3 1794.5,1290.0 1795.1,1290.1 1795.6,1289.6 1796.2,1289.5 1796.7,1289.9 1797.3,1289.7 1797.8,1289.8 1798.4,1289.8 1798.9,1289.5 1799.5,1290.0 1800.0,1289.8 1800.6,1290.1 1801.1,1290.1 1801.7,1290.3 1802.2,1289.8 1802.8,1290.3 1803.3,1290.2 1803.9,1289.0 1804.4,1289.8 1805.0,1290.3 1805.5,1289.3 1806.1,1289.7 1806.6,1290.5 1807.2,1290.1 1807.7,1289.9 1808.3,1289.9 1808.8,1290.1 1809.4,1290.2 1809.9,1290.2 1810.5,1290.3 1811.0,1290.2 1811.6,1289.9 1812.1,1290.6 1812.7,1290.1 1813.2,1290.1 1813.8,1289.7 1814.3,1289.9 1814.9,1290.1 1815.4,1290.4 1816.0,1290.0 1816.5,1289.9 1817.1,1289.9 1817.6,1290.2 1818.2,1290.1 1818.7,1289.7 1819.3,1289.9 1819.8,1290.6 1820.4,1289.7 1820.9,1290.5 1821.5,1290.2 1822.0,1289.6 1822.6,1289.7 1823.1,1290.2 1823.7,1290.1 1824.2,1290.3 1824.8,1290.4 1825.3,1290.1 1825.9,1290.3 1826.4,1290.0 1827.0,1289.9 1827.5,1290.7 1828.1,1289.9 1828.6,1290.0 1829.2,1290.2 1829.7,1290.3 1830.3,1290.4 1830.8,1290.0 1831.4,1290.3 1831.9,1290.3 1832.5,1290.4 1833.0,1290.4 1833.6,1290.4 1834.1,1290.4 1834.7,1290.0 1835.2,1290.1 1835.8,1289.9 1836.3,1290.4 1836.9,1290.1 1837.4,1290.2 1838.0,1290.3 1838.5,1290.2 1839.1,1290.2 1839.6,1290.6 1840.2,1290.6 1840.7,1290.1 1841.3,1290.2 1841.8,1290.5 1842.4,1290.4 1842.9,1290.2 1843.5,1290.4 1844.0,1290.3 1844.6,1290.4 1845.1,1291.0 1845.7,1290.3 1846.2,1290.6 1846.8,1290.1 1847.3,1290.2 1847.9,1290.2 1848.4,1290.4 1849.0,1290.6 1849.5,1290.2 1850.1,1290.2 1850.6,1290.3 1851.2,1290.5 1851.7,1290.2 1852.3,1290.2 1852.8,1290.7 1853.4,1290.2 1853.9,1290.4 1854.5,1290.6 1855.0,1290.4 1855.6,1290.4 1856.1,1290.1 1856.7,1290.5 1857.2,1290.8 1857.8,1290.4 1858.3,1290.5 1858.9,1290.2 1859.4,1290.2 1860.0,1290.2 1860.5,1290.5 1861.1,1290.3 1861.6,1290.1 1862.2,1290.0 1862.7,1290.3 1863.3,1290.4 1863.8,1290.4 1864.4,1290.1 1864.9,1290.8 1865.5,1290.6 1866.0,1290.6 1866.6,1290.4 1867.1,1290.7 1867.7,1290.7 1868.2,1290.5 1868.8,1290.5 1869.3,1290.6 1869.9,1290.5 1870.4,1290.2 1871.0,1290.7 1871.5,1290.8 1872.1,1290.6 1872.6,1290.4 1873.2,1290.9 1873.7,1290.1 1874.3,1290.4 1874.8,1290.2 1875.4,1291.0 1875.9,1290.4 1876.5,1290.5 1877.0,1290.2 1877.6,1290.3 1878.1,1290.7 1878.7,1290.6 1879.2,1290.0 1879.8,1290.9 1880.3,1290.5 1880.9,1290.4 1881.4,1290.6 1882.0,1290.6 1882.5,1290.8 1883.1,1290.0 1883.6,1290.7 1884.2,1290.5 1884.7,1290.5 1885.3,1290.4 1885.8,1290.5" fill="none" stroke="#A6A016" stroke-width="8.10" stroke-linejoin="round" stroke-linecap="round"/>
<path d="M232.0,1489.0 232.6,1488.7 233.1,1488.6 233.7,1488.7 234.2,1488.6 234.8,1487.7 235.3,1488.1 235.9,1488.6 236.4,1488.0 237.0,1487.2 237.5,1488.0 238.1,1487.8 238.6,1487.9 239.2,1488.5 239.7,1488.2 240.3,1487.8 240.8,1487.7 241.4,1488.1 241.9,1488.2 242.5,1488.2 243.0,1488.3 243.6,1488.9 244.1,1487.6 244.7,1487.9 245.2,1488.5 245.8,1488.4 246.3,1487.6 246.9,1488.3 247.4,1488.5 248.0,1488.9 248.5,1488.0 249.1,1488.5 249.6,1488.4 250.2,1488.1 250.7,1488.6 251.3,1488.2 251.8,1488.1 252.4,1488.5 252.9,1487.6 253.5,1488.5 254.0,1488.4 254.6,1488.8 255.1,1488.0 255.7,1488.5 256.2,1488.8 256.8,1488.8 257.3,1488.0 257.9,1488.6 258.4,1488.2 259.0,1488.2 259.5,1488.7 260.1,1487.6 260.6,1488.3 261.2,1489.1 261.7,1488.3 262.3,1488.1 262.8,1488.4 263.4,1488.5 263.9,1488.0 264.5,1488.6 265.0,1487.9 265.6,1488.4 266.1,1488.2 266.7,1488.3 267.2,1488.5 267.8,1488.9 268.3,1488.2 268.9,1488.5 269.4,1488.2 270.0,1489.5 270.5,1488.6 271.1,1487.8 271.6,1488.2 272.2,1488.8 272.7,1488.3 273.3,1487.9 273.8,1488.4 274.4,1488.4 274.9,1488.4 275.5,1488.2 276.0,1488.2 276.6,1488.9 277.1,1488.8 277.7,1488.3 278.2,1488.3 278.8,1488.3 279.3,1488.8 279.9,1488.4 280.4,1487.9 281.0,1488.3 281.5,1488.3 282.1,1488.1 282.6,1488.5 283.2,1488.4 283.7,1489.0 284.3,1488.5 284.8,1488.2 285.4,1488.3 285.9,1487.9 286.5,1488.6 287.0,1488.3 287.6,1488.6 288.1,1488.8 288.7,1489.3 289.2,1488.7 289.8,1489.0 290.3,1488.5 290.9,1488.3 291.4,1488.7 292.0,1488.1 292.5,1488.8 293.1,1488.5 293.6,1488.2 294.2,1488.7 294.7,1488.5 295.3,1489.0 295.8,1488.2 296.4,1488.7 296.9,1488.8 297.5,1488.3 298.0,1489.2 298.6,1488.8 299.1,1488.5 299.7,1488.6 300.2,1488.6 300.8,1487.9 301.3,1488.2 301.9,1488.0 302.4,1488.5 303.0,1489.4 303.5,1488.1 304.1,1489.2 304.6,1489.1 305.2,1488.6 305.7,1488.0 306.3,1488.9 306.8,1488.5 307.4,1488.2 307.9,1489.0 308.5,1488.8 309.0,1488.6 309.6,1488.6 310.1,1487.9 310.7,1489.1 311.2,1488.6 311.8,1488.3 312.3,1489.0 312.9,1489.0 313.4,1488.4 314.0,1488.4 314.5,1487.4 315.1,1488.5 315.6,1488.4 316.2,1488.3 316.7,1489.1 317.3,1488.8 317.8,1489.7 318.4,1488.8 318.9,1488.1 319.5,1488.6 320.0,1488.6 320.6,1488.6 321.1,1489.0 321.7,1488.1 322.2,1489.5 322.8,1489.1 323.3,1489.5 323.9,1487.8 324.4,1489.4 325.0,1489.2 325.5,1488.8 326.1,1488.4 326.6,1489.2 327.2,1489.0 327.7,1489.2 328.3,1488.9 328.8,1488.9 329.4,1488.3 329.9,1488.5 330.5,1489.1 331.0,1488.8 331.6,1488.8 332.1,1488.1 332.7,1488.4 333.2,1488.9 333.8,1488.7 334.3,1488.5 334.9,1489.4 335.4,1488.6 336.0,1489.4 336.5,1489.5 337.1,1488.5 337.6,1488.3 338.2,1488.3 338.7,1488.9 339.3,1488.6 339.8,1488.4 340.4,1489.3 340.9,1488.1 341.5,1488.9 342.0,1489.4 342.6,1488.7 343.1,1488.2 343.7,1488.4 344.2,1488.9 344.8,1488.7 345.3,1489.5 345.9,1489.0 346.4,1489.1 347.0,1488.3 347.5,1488.5 348.1,1488.9 348.6,1489.4 349.2,1488.7 349.7,1489.4 350.3,1488.7 350.8,1489.0 351.4,1488.6 351.9,1488.8 352.5,1488.6 353.0,1488.6 353.6,1489.2 354.1,1487.5 354.7,1488.6 355.2,1488.7 355.8,1488.7 356.3,1489.0 356.9,1488.1 357.4,1489.2 358.0,1488.0 358.5,1488.9 359.1,1488.3 359.6,1488.7 360.2,1488.7 360.7,1488.5 361.3,1489.1 361.8,1488.8 362.4,1488.7 362.9,1488.9 363.5,1489.1 364.0,1488.9 364.6,1489.2 365.1,1489.1 365.7,1488.8 366.2,1488.9 366.8,1488.8 367.3,1488.8 367.9,1488.4 368.4,1489.1 369.0,1488.7 369.5,1489.1 370.1,1488.7 370.6,1489.7 371.2,1488.6 371.7,1488.6 372.3,1488.8 372.8,1488.3 373.4,1488.3 373.9,1488.5 374.5,1488.5 375.0,1488.8 375.6,1488.3 376.1,1488.5 376.7,1488.7 377.2,1489.0 377.8,1488.6 378.3,1488.8 378.9,1488.8 379.4,1488.4 380.0,1487.8 380.5,1488.2 381.1,1488.5 381.6,1488.1 382.2,1488.1 382.7,1489.0 383.3,1488.3 383.8,1488.5 384.4,1488.0 384.9,1488.3 385.5,1487.8 386.0,1488.2 386.6,1488.4 387.1,1487.6 387.7,1488.1 388.2,1488.1 388.8,1488.3 389.3,1487.6 389.9,1487.8 390.4,1487.9 391.0,1487.2 391.5,1488.5 392.1,1488.8 392.6,1487.7 393.2,1488.5 393.7,1487.9 394.3,1488.5 394.8,1487.5 395.4,1488.1 395.9,1488.2 396.5,1487.2 397.0,1487.7 397.6,1486.7 398.1,1487.3 398.7,1487.7 399.2,1487.7 399.8,1487.0 400.3,1487.3 400.9,1488.5 401.4,1487.9 402.0,1486.9 402.5,1486.6 403.1,1487.4 403.6,1486.9 404.2,1487.4 404.7,1487.4 405.3,1486.6 405.8,1487.1 406.4,1486.9 406.9,1486.6 407.5,1486.9 408.0,1487.7 408.6,1487.1 409.1,1486.4 409.7,1487.0 410.2,1486.3 410.8,1486.5 411.3,1486.9 411.9,1486.9 412.4,1487.1 413.0,1486.9 413.5,1486.9 414.1,1487.1 414.6,1486.7 415.2,1485.8 415.7,1486.9 416.3,1486.3 416.8,1485.9 417.4,1486.2 417.9,1485.9 418.5,1486.0 419.0,1486.2 419.6,1486.8 420.1,1486.2 420.7,1485.8 421.2,1486.5 421.8,1486.4 422.3,1486.0 422.9,1486.3 423.4,1486.5 424.0,1485.4 424.5,1486.4 425.1,1485.7 425.6,1485.8 426.2,1485.5 426.7,1485.4 427.3,1485.4 427.8,1485.9 428.4,1486.2 428.9,1485.5 429.5,1485.4 430.0,1485.6 430.6,1485.2 431.1,1485.8 431.7,1485.3 432.2,1486.0 432.8,1485.0 433.3,1485.3 433.9,1485.6 434.4,1485.0 435.0,1485.3 435.5,1485.0 436.1,1485.0 436.6,1485.6 437.2,1485.3 437.7,1484.6 438.3,1485.0 438.8,1485.2 439.4,1485.7 439.9,1485.3 440.5,1485.7 441.0,1484.8 441.6,1484.8 442.1,1485.8 442.7,1485.9 443.2,1485.2 443.8,1485.4 444.3,1485.1 444.9,1485.2 445.4,1485.2 446.0,1485.6 446.5,1484.7 447.1,1484.8 447.6,1485.3 448.2,1484.9 448.7,1484.8 449.3,1485.4 449.8,1484.3 450.4,1484.3 450.9,1484.8 451.5,1484.9 452.0,1484.9 452.6,1483.5 453.1,1484.1 453.7,1484.6 454.2,1484.4 454.8,1484.5 455.3,1484.6 455.9,1484.6 456.4,1484.8 457.0,1484.7 457.5,1484.9 458.1,1485.3 458.6,1484.6 459.2,1483.3 459.7,1485.1 460.3,1484.4 460.8,1484.3 461.4,1483.6 461.9,1485.2 462.5,1484.6 463.0,1484.8 463.6,1484.1 464.1,1484.1 464.7,1483.9 465.2,1484.2 465.8,1484.0 466.3,1483.4 466.9,1483.5 467.4,1483.9 468.0,1484.4 468.5,1484.0 469.1,1483.9 469.6,1484.2 470.2,1484.6 470.7,1484.1 471.3,1483.8 471.8,1483.9 472.4,1484.0 472.9,1483.9 473.5,1482.7 474.0,1484.5 474.6,1483.9 475.1,1483.5 475.7,1483.6 476.2,1483.5 476.8,1483.3 477.3,1483.7 477.9,1483.9 478.4,1483.6 479.0,1483.8 479.5,1483.1 480.1,1484.0 480.6,1483.9 481.2,1483.8 481.7,1483.9 482.3,1483.3 482.8,1484.0 483.4,1483.9 483.9,1483.5 484.5,1483.2 485.0,1483.7 485.6,1482.6 486.1,1483.1 486.7,1482.4 487.2,1483.3 487.8,1482.6 488.3,1483.8 488.9,1483.9 489.4,1483.4 490.0,1482.9 490.5,1482.5 491.1,1483.0 491.6,1483.2 492.2,1483.4 492.7,1483.3 493.3,1483.8 493.8,1482.9 494.4,1483.2 494.9,1483.5 495.5,1482.5 496.0,1482.9 496.6,1482.9 497.1,1482.1 497.7,1483.2 498.2,1483.0 498.8,1483.2 499.3,1483.2 499.9,1482.8 500.4,1482.1 501.0,1482.5 501.5,1482.8 502.1,1483.0 502.6,1482.6 503.2,1482.7 503.7,1482.6 504.3,1481.9 504.8,1482.8 505.4,1482.8 505.9,1483.1 506.5,1482.0 507.0,1482.3 507.6,1482.2 508.1,1482.4 508.7,1482.9 509.2,1482.2 509.8,1481.8 510.3,1482.6 510.9,1481.4 511.4,1483.1 512.0,1482.6 512.5,1481.6 513.1,1482.1 513.6,1481.5 514.2,1481.9 514.7,1481.6 515.3,1482.0 515.8,1481.9 516.4,1481.7 516.9,1481.9 517.5,1482.1 518.0,1482.4 518.6,1481.7 519.1,1482.0 519.7,1481.2 520.2,1481.8 520.8,1481.5 521.3,1482.0 521.9,1481.6 522.4,1482.3 523.0,1481.2 523.5,1482.7 524.1,1481.3 524.6,1481.2 525.2,1480.8 525.7,1481.7 526.3,1482.0 526.8,1481.6 527.4,1481.0 527.9,1481.3 528.5,1482.0 529.0,1481.1 529.6,1481.3 530.1,1481.2 530.7,1481.6 531.2,1481.5 531.8,1481.2 532.3,1481.2 532.9,1481.9 533.4,1481.1 534.0,1481.4 534.5,1481.3 535.1,1480.5 535.6,1481.1 536.2,1480.8 536.7,1480.8 537.3,1481.1 537.8,1480.6 538.4,1480.8 538.9,1480.6 539.5,1480.7 540.0,1481.0 540.6,1480.9 541.1,1481.0 541.7,1480.6 542.2,1480.7 542.8,1481.0 543.3,1481.2 543.9,1480.9 544.4,1481.1 545.0,1481.3 545.5,1480.3 546.1,1480.5 546.6,1480.5 547.2,1480.7 547.7,1480.6 548.3,1481.2 548.8,1480.2 549.4,1479.8 549.9,1479.4 550.5,1480.1 551.0,1479.6 551.6,1479.8 552.1,1480.3 552.7,1480.8 553.2,1479.9 553.8,1480.8 554.3,1480.0 554.9,1479.8 555.4,1479.5 556.0,1480.1 556.5,1480.2 557.1,1480.0 557.6,1479.0 558.2,1479.3 558.7,1479.7 559.3,1479.7 559.8,1479.3 560.4,1479.8 560.9,1478.9 561.5,1479.5 562.0,1479.4 562.6,1479.1 563.1,1479.4 563.7,1480.0 564.2,1479.3 564.8,1478.5 565.3,1479.0 565.9,1478.8 566.4,1478.5 567.0,1478.6 567.5,1478.7 568.1,1478.9 568.6,1478.5 569.2,1478.1 569.7,1478.1 570.3,1478.2 570.8,1477.8 571.4,1478.1 571.9,1478.1 572.5,1477.3 573.0,1477.8 573.6,1478.4 574.1,1478.0 574.7,1477.2 575.2,1477.9 575.8,1477.4 576.3,1477.1 576.9,1477.1 577.4,1476.7 578.0,1477.3 578.5,1477.4 579.1,1477.7 579.6,1477.5 580.2,1477.8 580.7,1477.4 581.3,1477.9 581.8,1477.5 582.4,1477.1 582.9,1478.3 583.4,1477.6 584.0,1477.8 584.5,1477.8 585.1,1477.7 585.6,1477.1 586.2,1477.1 586.7,1477.0 587.3,1477.1 587.8,1477.8 588.4,1476.9 588.9,1477.3 589.5,1477.2 590.0,1477.4 590.6,1477.8 591.1,1477.4 591.7,1476.7 592.2,1476.8 592.8,1477.9 593.3,1477.6 593.9,1477.5 594.4,1478.1 595.0,1478.1 595.5,1477.0 596.1,1477.4 596.6,1477.7 597.2,1477.1 597.7,1477.0 598.3,1478.1 598.8,1477.3 599.4,1478.5 599.9,1478.1 600.5,1478.0 601.0,1476.6 601.6,1477.7 602.1,1478.1 602.7,1477.9 603.2,1477.9 603.8,1477.4 604.3,1477.4 604.9,1477.7 605.4,1478.4 606.0,1477.7 606.5,1477.9 607.1,1477.3 607.6,1477.6 608.2,1477.7 608.7,1478.1 609.3,1478.2 609.8,1477.6 610.4,1477.6 610.9,1477.5 611.5,1478.1 612.0,1477.4 612.6,1478.4 613.1,1477.8 613.7,1478.1 614.2,1477.7 614.8,1477.5 615.3,1477.9 615.9,1477.6 616.4,1478.7 617.0,1477.8 617.5,1478.0 618.1,1478.4 618.6,1478.3 619.2,1478.5 619.7,1478.1 620.3,1477.7 620.8,1477.7 621.4,1478.0 621.9,1477.9 622.5,1478.1 623.0,1478.2 623.6,1478.5 624.1,1479.1 624.7,1477.3 625.2,1478.2 625.8,1478.1 626.3,1477.7 626.9,1477.5 627.4,1478.5 628.0,1478.9 628.5,1477.8 629.1,1478.1 629.6,1477.9 630.2,1477.7 630.7,1477.5 631.3,1479.0 631.8,1478.1 632.4,1478.4 632.9,1477.5 633.5,1477.8 634.0,1477.7 634.6,1477.9 635.1,1477.5 635.7,1477.9 636.2,1477.8 636.8,1478.1 637.3,1477.8 637.9,1478.1 638.4,1476.9 639.0,1477.7 639.5,1478.2 640.1,1478.0 640.6,1477.6 641.2,1478.0 641.7,1477.8 642.3,1476.0 642.8,1477.5 643.4,1476.9 643.9,1477.3 644.5,1476.7 645.0,1477.8 645.6,1477.3 646.1,1476.5 646.7,1476.9 647.2,1476.3 647.8,1477.5 648.3,1477.7 648.9,1476.8 649.4,1477.2 650.0,1476.5 650.5,1477.1 651.1,1476.5 651.6,1477.0 652.2,1476.0 652.7,1476.6 653.3,1476.6 653.8,1476.6 654.4,1476.7 654.9,1476.4 655.5,1476.3 656.0,1476.2 656.6,1475.8 657.1,1475.6 657.7,1476.2 658.2,1475.9 658.8,1475.8 659.3,1475.9 659.9,1475.6 660.4,1477.1 661.0,1476.8 661.5,1475.7 662.1,1474.9 662.6,1475.2 663.2,1475.8 663.7,1476.5 664.3,1475.5 664.8,1475.8 665.4,1475.2 665.9,1474.7 666.5,1475.4 667.0,1475.3 667.6,1475.0 668.1,1475.4 668.7,1474.4 669.2,1475.0 669.8,1475.3 670.3,1474.7 670.9,1473.8 671.4,1475.6 672.0,1474.0 672.5,1474.0 673.1,1474.6 673.6,1474.9 674.2,1475.0 674.7,1474.7 675.3,1474.3 675.8,1474.0 676.4,1474.2 676.9,1473.6 677.5,1473.9 678.0,1474.9 678.6,1474.0 679.1,1473.2 679.7,1473.5 680.2,1473.5 680.8,1474.1 681.3,1472.9 681.9,1473.3 682.4,1473.2 683.0,1472.8 683.5,1473.1 684.1,1472.5 684.6,1473.2 685.2,1472.8 685.7,1472.4 686.3,1472.9 686.8,1472.6 687.4,1472.4 687.9,1472.6 688.5,1472.0 689.0,1472.4 689.6,1472.3 690.1,1472.1 690.7,1472.7 691.2,1471.5 691.8,1471.9 692.3,1471.9 692.9,1471.5 693.4,1471.2 694.0,1471.4 694.5,1471.6 695.1,1471.1 695.6,1470.3 696.2,1470.9 696.7,1471.0 697.3,1471.5 697.8,1470.8 698.4,1470.7 698.9,1470.3 699.5,1470.4 700.0,1470.6 700.6,1470.1 701.1,1469.9 701.7,1470.0 702.2,1469.0 702.8,1469.7 703.3,1469.1 703.9,1470.2 704.4,1470.5 705.0,1469.4 705.5,1469.5 706.1,1468.9 706.6,1469.3 707.2,1469.1 707.7,1469.5 708.3,1468.7 708.8,1468.4 709.4,1468.7 709.9,1468.1 710.5,1468.7 711.0,1468.9 711.6,1468.0 712.1,1468.1 712.7,1468.4 713.2,1468.5 713.8,1467.9 714.3,1468.2 714.9,1467.3 715.4,1468.1 716.0,1468.3 716.5,1467.8 717.1,1468.9 717.6,1468.2 718.2,1468.5 718.7,1468.0 719.3,1468.2 719.8,1468.4 720.4,1468.0 720.9,1468.1 721.5,1468.2 722.0,1469.0 722.6,1469.7 723.1,1468.6 723.7,1469.0 724.2,1468.9 724.8,1469.6 725.3,1469.4 725.9,1469.6 726.4,1469.4 727.0,1469.1 727.5,1469.7 728.1,1469.8 728.6,1470.0 729.2,1469.3 729.7,1469.8 730.3,1469.9 730.8,1470.9 731.4,1470.7 731.9,1470.5 732.5,1470.8 733.0,1471.1 733.6,1470.7 734.1,1471.1 734.7,1470.6 735.2,1470.9 735.8,1470.7 736.3,1471.7 736.9,1472.0 737.4,1471.7 738.0,1472.0 738.5,1472.0 739.1,1472.1 739.6,1471.6 740.2,1472.2 740.7,1472.4 741.3,1472.8 741.8,1472.2 742.4,1472.7 742.9,1472.9 743.5,1472.7 744.0,1473.9 744.6,1473.8 745.1,1473.8 745.7,1474.6 746.2,1474.7 746.8,1475.4 747.3,1474.6 747.9,1475.0 748.4,1474.7 749.0,1475.0 749.5,1474.9 750.1,1475.6 750.6,1475.4 751.2,1475.5 751.7,1475.8 752.3,1475.2 752.8,1476.3 753.4,1476.4 753.9,1476.3 754.5,1475.7 755.0,1476.6 755.6,1475.8 756.1,1476.3 756.7,1476.4 757.2,1476.4 757.8,1477.6 758.3,1477.2 758.9,1476.5 759.4,1476.5 760.0,1477.2 760.5,1476.1 761.1,1476.9 761.6,1476.8 762.2,1476.3 762.7,1476.2 763.3,1476.4 763.8,1476.8 764.4,1476.7 764.9,1476.5 765.5,1476.4 766.0,1476.7 766.6,1475.8 767.1,1475.4 767.7,1475.0 768.2,1475.7 768.8,1475.3 769.3,1475.6 769.9,1475.4 770.4,1474.8 771.0,1475.4 771.5,1474.6 772.1,1474.7 772.6,1475.3 773.2,1474.7 773.7,1475.0 774.3,1474.7 774.8,1474.7 775.4,1473.5 775.9,1474.9 776.5,1475.5 777.0,1474.7 777.6,1475.1 778.1,1475.1 778.7,1474.9 779.2,1475.3 779.8,1475.8 780.3,1475.8 780.9,1477.0 781.4,1476.5 782.0,1477.2 782.5,1477.5 783.1,1477.3 783.6,1476.8 784.2,1477.4 784.7,1477.7 785.3,1478.0 785.8,1477.1 786.4,1478.0 786.9,1478.1 787.5,1478.1 788.0,1478.5 788.6,1478.3 789.1,1478.7 789.7,1478.9 790.2,1478.9 790.8,1478.7 791.3,1478.2 791.9,1478.2 792.4,1479.3 793.0,1479.1 793.5,1479.0 794.1,1479.3 794.6,1479.4 795.2,1479.3 795.7,1479.4 796.3,1479.6 796.8,1479.8 797.4,1479.4 797.9,1480.1 798.5,1480.0 799.0,1479.8 799.6,1480.1 800.1,1479.5 800.7,1480.4 801.2,1479.7 801.8,1480.0 802.3,1479.7 802.9,1479.8 803.4,1480.4 804.0,1479.6 804.5,1478.9 805.1,1480.3 805.6,1481.2 806.2,1479.4 806.7,1480.0 807.3,1480.1 807.8,1480.0 808.4,1480.5 808.9,1479.8 809.5,1480.3 810.0,1479.9 810.6,1480.0 811.1,1479.6 811.7,1479.6 812.2,1480.2 812.8,1480.2 813.3,1480.7 813.9,1480.4 814.4,1479.7 815.0,1479.9 815.5,1480.0 816.1,1480.5 816.6,1479.5 817.2,1479.9 817.7,1479.8 818.3,1479.5 818.8,1480.3 819.4,1479.5 819.9,1479.1 820.5,1480.2 821.0,1479.8 821.6,1480.6 822.1,1479.9 822.7,1479.7 823.2,1479.7 823.8,1479.8 824.3,1479.5 824.9,1479.3 825.4,1480.2 826.0,1479.9 826.5,1479.7 827.1,1479.6 827.6,1479.4 828.2,1479.5 828.7,1479.7 829.3,1479.2 829.8,1480.0 830.4,1479.8 830.9,1479.8 831.5,1479.3 832.0,1479.2 832.6,1478.5 833.1,1479.7 833.7,1478.7 834.2,1478.7 834.8,1479.0 835.3,1478.6 835.9,1479.4 836.4,1479.7 837.0,1479.0 837.5,1478.5 838.1,1479.2 838.6,1478.8 839.2,1478.7 839.7,1479.7 840.3,1479.1 840.8,1479.2 841.4,1478.7 841.9,1479.4 842.5,1479.0 843.0,1478.7 843.6,1478.7 844.1,1479.2 844.7,1479.3 845.2,1478.7 845.8,1478.9 846.3,1478.8 846.9,1478.2 847.4,1478.9 848.0,1478.4 848.5,1478.6 849.1,1478.0 849.6,1479.0 850.2,1478.4 850.7,1478.8 851.3,1478.5 851.8,1478.0 852.4,1478.6 852.9,1478.2 853.5,1478.0 854.0,1478.1 854.6,1477.9 855.1,1478.9 855.7,1478.4 856.2,1478.1 856.8,1477.9 857.3,1477.8 857.9,1478.3 858.4,1478.1 859.0,1477.9 859.5,1477.4 860.1,1477.3 860.6,1477.9 861.2,1478.1 861.7,1478.4 862.3,1477.2 862.8,1477.9 863.4,1477.5 863.9,1477.9 864.5,1477.3 865.0,1478.1 865.6,1478.2 866.1,1477.7 866.7,1477.3 867.2,1477.1 867.8,1477.4 868.3,1477.9 868.9,1476.8 869.4,1477.2 870.0,1477.3 870.5,1477.4 871.1,1477.3 871.6,1477.5 872.2,1476.5 872.7,1477.8 873.3,1477.3 873.8,1477.7 874.4,1477.2 874.9,1477.6 875.5,1477.8 876.0,1476.9 876.6,1477.9 877.1,1477.5 877.7,1477.1 878.2,1477.1 878.8,1476.8 879.3,1477.1 879.9,1477.0 880.4,1477.3 881.0,1477.0 881.5,1476.5 882.1,1477.1 882.6,1476.9 883.2,1477.4 883.7,1476.6 884.3,1476.3 884.8,1476.9 885.4,1476.7 885.9,1476.4 886.5,1477.0 887.0,1476.5 887.6,1477.1 888.1,1476.6 888.7,1475.8 889.2,1477.0 889.8,1476.8 890.3,1477.0 890.9,1476.7 891.4,1475.4 892.0,1476.2 892.5,1476.9 893.1,1476.7 893.6,1476.7 894.2,1475.9 894.7,1475.8 895.3,1476.1 895.8,1476.1 896.4,1476.2 896.9,1476.0 897.5,1476.2 898.0,1476.6 898.6,1476.4 899.1,1476.3 899.7,1476.2 900.2,1476.5 900.8,1476.5 901.3,1475.8 901.9,1475.5 902.4,1475.7 903.0,1476.2 903.5,1475.4 904.1,1475.6 904.6,1476.0 905.2,1475.7 905.7,1475.5 906.3,1475.6 906.8,1475.2 907.4,1476.0 907.9,1475.8 908.5,1475.6 909.0,1475.0 909.6,1476.0 910.1,1475.6 910.7,1475.6 911.2,1475.1 911.8,1475.4 912.3,1476.2 912.9,1474.9 913.4,1475.1 914.0,1475.0 914.5,1475.1 915.1,1475.0 915.6,1474.1 916.2,1475.3 916.7,1474.4 917.3,1475.0 917.8,1474.8 918.4,1474.5 918.9,1474.4 919.5,1474.5 920.0,1474.3 920.6,1474.8 921.1,1474.1 921.7,1474.0 922.2,1474.0 922.8,1474.8 923.3,1473.4 923.9,1473.7 924.4,1473.7 925.0,1473.7 925.5,1473.7 926.1,1472.9 926.6,1472.6 927.2,1472.6 927.7,1472.5 928.3,1473.3 928.8,1472.1 929.4,1472.1 929.9,1471.5 930.5,1471.6 931.0,1472.1 931.6,1470.8 932.1,1471.8 932.7,1470.7 933.2,1471.9 933.8,1470.7 934.3,1470.7 934.9,1470.3 935.4,1470.5 936.0,1470.9 936.5,1470.3 937.1,1470.2 937.6,1469.8 938.2,1469.7 938.7,1468.5 939.3,1469.2 939.8,1468.7 940.4,1469.2 940.9,1469.7 941.5,1468.9 942.0,1468.3 942.6,1468.8 943.1,1469.3 943.7,1468.7 944.2,1468.4 944.8,1469.0 945.3,1469.5 945.9,1469.3 946.4,1468.2 947.0,1468.8 947.5,1469.3 948.1,1469.5 948.6,1469.9 949.2,1469.8 949.7,1469.4 950.3,1469.2 950.8,1470.0 951.4,1469.9 951.9,1470.8 952.5,1470.8 953.0,1470.9 953.6,1470.3 954.1,1470.3 954.7,1471.2 955.2,1471.3 955.8,1470.3 956.3,1471.2 956.9,1471.4 957.4,1471.1 958.0,1471.3 958.5,1470.9 959.1,1471.7 959.6,1471.9 960.2,1472.1 960.7,1471.4 961.3,1471.6 961.8,1472.0 962.4,1472.0 962.9,1472.3 963.5,1471.9 964.0,1473.1 964.6,1472.6 965.1,1472.8 965.7,1473.3 966.2,1473.1 966.8,1472.7 967.3,1473.6 967.9,1473.2 968.4,1473.6 969.0,1473.3 969.5,1473.8 970.1,1474.3 970.6,1473.8 971.2,1475.1 971.7,1474.4 972.3,1474.0 972.8,1474.2 973.4,1474.3 973.9,1474.6 974.5,1473.9 975.0,1474.6 975.6,1474.3 976.1,1474.5 976.7,1474.9 977.2,1474.8 977.8,1475.2 978.3,1475.0 978.9,1475.0 979.4,1475.4 980.0,1475.4 980.5,1475.8 981.1,1475.8 981.6,1475.9 982.2,1476.1 982.7,1476.7 983.3,1476.2 983.8,1476.0 984.4,1476.6 984.9,1477.0 985.5,1477.4 986.0,1476.8 986.6,1477.6 987.1,1477.0 987.7,1476.9 988.2,1476.4 988.8,1477.5 989.3,1477.2 989.9,1478.3 990.4,1476.8 991.0,1477.3 991.5,1477.6 992.1,1477.4 992.6,1478.0 993.2,1478.4 993.7,1478.4 994.3,1478.5 994.8,1478.5 995.4,1479.3 995.9,1478.5 996.5,1478.7 997.0,1479.0 997.6,1478.9 998.1,1479.3 998.7,1479.0 999.2,1478.3 999.8,1478.9 1000.3,1478.7 1000.9,1479.4 1001.4,1479.3 1002.0,1478.9 1002.5,1479.5 1003.1,1478.8 1003.6,1479.2 1004.2,1479.2 1004.7,1480.0 1005.3,1479.5 1005.8,1480.0 1006.4,1480.2 1006.9,1480.1 1007.5,1480.0 1008.0,1480.3 1008.6,1480.2 1009.1,1480.3 1009.7,1480.1 1010.2,1480.6 1010.8,1481.0 1011.3,1481.1 1011.9,1480.8 1012.4,1481.4 1013.0,1481.2 1013.5,1481.1 1014.1,1481.5 1014.6,1480.6 1015.2,1481.2 1015.7,1481.6 1016.3,1481.7 1016.8,1481.8 1017.4,1481.1 1017.9,1481.7 1018.5,1482.6 1019.0,1481.1 1019.6,1481.8 1020.1,1480.8 1020.7,1482.3 1021.2,1482.4 1021.8,1481.7 1022.3,1482.0 1022.9,1481.7 1023.4,1482.9 1024.0,1482.1 1024.5,1481.8 1025.1,1481.7 1025.6,1482.9 1026.2,1483.3 1026.7,1483.1 1027.3,1481.8 1027.8,1482.9 1028.4,1483.0 1028.9,1482.4 1029.5,1483.3 1030.0,1483.0 1030.6,1483.1 1031.1,1482.5 1031.7,1483.2 1032.2,1482.6 1032.8,1484.1 1033.3,1483.1 1033.9,1483.2 1034.4,1483.5 1035.0,1482.9 1035.5,1483.3 1036.1,1483.4 1036.6,1483.8 1037.2,1484.2 1037.7,1483.7 1038.3,1484.2 1038.8,1483.8 1039.4,1483.1 1039.9,1483.4 1040.5,1483.8 1041.0,1484.1 1041.6,1483.6 1042.1,1483.4 1042.7,1484.3 1043.2,1483.9 1043.8,1483.9 1044.3,1483.6 1044.9,1483.9 1045.4,1483.8 1046.0,1483.7 1046.5,1484.1 1047.1,1484.4 1047.6,1484.5 1048.2,1483.7 1048.7,1484.0 1049.3,1484.3 1049.8,1483.9 1050.4,1485.2 1050.9,1485.0 1051.5,1484.3 1052.0,1484.6 1052.6,1485.5 1053.1,1484.8 1053.7,1485.3 1054.2,1485.2 1054.8,1484.2 1055.3,1485.3 1055.9,1484.4 1056.4,1485.3 1057.0,1484.6 1057.5,1484.4 1058.1,1485.0 1058.6,1484.0 1059.2,1485.0 1059.7,1484.8 1060.3,1485.1 1060.8,1484.7 1061.4,1484.9 1061.9,1484.4 1062.5,1485.2 1063.0,1485.8 1063.6,1484.0 1064.1,1484.2 1064.7,1484.3 1065.2,1484.7 1065.8,1485.0 1066.3,1484.3 1066.9,1484.5 1067.4,1485.1 1068.0,1485.2 1068.5,1484.6 1069.1,1485.5 1069.6,1485.0 1070.2,1484.6 1070.7,1484.5 1071.3,1485.0 1071.8,1484.3 1072.4,1485.6 1072.9,1485.9 1073.5,1484.1 1074.0,1485.1 1074.6,1484.5 1075.1,1485.3 1075.7,1484.2 1076.2,1484.7 1076.8,1484.9 1077.3,1485.7 1077.9,1484.5 1078.4,1485.7 1079.0,1484.6 1079.5,1485.0 1080.1,1485.2 1080.6,1485.1 1081.2,1485.3 1081.7,1485.5 1082.3,1485.3 1082.8,1485.8 1083.4,1486.1 1083.9,1485.5 1084.5,1486.0 1085.0,1485.1 1085.6,1485.6 1086.1,1485.6 1086.7,1486.2 1087.2,1485.2 1087.8,1485.4 1088.3,1485.0 1088.9,1484.7 1089.4,1484.9 1090.0,1485.6 1090.5,1485.2 1091.1,1485.2 1091.6,1485.6 1092.2,1485.9 1092.7,1485.8 1093.3,1485.7 1093.8,1485.3 1094.4,1485.4 1094.9,1485.3 1095.5,1485.7 1096.0,1485.7 1096.6,1486.2 1097.1,1485.7 1097.7,1485.0 1098.2,1486.1 1098.8,1484.9 1099.3,1485.6 1099.9,1485.7 1100.4,1485.1 1101.0,1485.8 1101.5,1485.5 1102.1,1486.0 1102.6,1485.7 1103.2,1485.9 1103.7,1485.8 1104.3,1485.4 1104.8,1485.5 1105.4,1485.8 1105.9,1485.9 1106.5,1485.7 1107.0,1486.0 1107.6,1486.5 1108.1,1486.1 1108.7,1486.5 1109.2,1485.5 1109.8,1485.5 1110.3,1486.5 1110.9,1485.7 1111.4,1485.3 1112.0,1485.4 1112.5,1485.2 1113.1,1485.4 1113.6,1485.6 1114.2,1485.1 1114.7,1485.4 1115.3,1485.3 1115.8,1486.2 1116.4,1486.1 1116.9,1485.5 1117.5,1486.0 1118.0,1485.9 1118.6,1485.6 1119.1,1485.7 1119.7,1486.0 1120.2,1485.9 1120.8,1486.1 1121.3,1485.4 1121.9,1486.5 1122.4,1485.3 1123.0,1486.0 1123.5,1485.4 1124.1,1485.6 1124.6,1485.5 1125.2,1485.8 1125.7,1485.8 1126.3,1485.4 1126.8,1484.9 1127.4,1485.8 1127.9,1486.3 1128.5,1486.1 1129.0,1486.5 1129.6,1485.9 1130.1,1485.3 1130.7,1485.4 1131.2,1486.1 1131.8,1485.2 1132.3,1485.0 1132.9,1486.5 1133.4,1486.0 1134.0,1485.7 1134.5,1486.5 1135.1,1486.1 1135.6,1486.0 1136.2,1485.3 1136.7,1485.2 1137.3,1485.5 1137.8,1486.4 1138.4,1485.5 1138.9,1485.5 1139.5,1485.9 1140.0,1485.6 1140.6,1485.2 1141.1,1485.9 1141.7,1485.2 1142.2,1485.7 1142.8,1485.8 1143.3,1485.1 1143.9,1486.2 1144.4,1486.3 1145.0,1485.2 1145.5,1485.9 1146.1,1485.9 1146.6,1486.4 1147.2,1485.6 1147.7,1486.1 1148.3,1485.2 1148.8,1485.5 1149.4,1486.0 1149.9,1486.3 1150.5,1485.9 1151.0,1485.3 1151.6,1485.8 1152.1,1486.2 1152.7,1485.8 1153.2,1485.6 1153.8,1485.9 1154.3,1485.7 1154.9,1485.4 1155.4,1484.4 1156.0,1486.3 1156.5,1486.6 1157.1,1486.0 1157.6,1485.8 1158.2,1486.3 1158.7,1485.8 1159.3,1486.0 1159.8,1485.9 1160.4,1485.8 1160.9,1485.9 1161.5,1485.9 1162.0,1485.5 1162.6,1486.1 1163.1,1486.4 1163.7,1486.1 1164.2,1485.8 1164.8,1486.4 1165.3,1486.0 1165.9,1485.6 1166.4,1485.7 1167.0,1485.8 1167.5,1486.1 1168.1,1485.8 1168.6,1485.7 1169.2,1485.9 1169.7,1485.4 1170.3,1485.7 1170.8,1486.3 1171.4,1485.8 1171.9,1485.3 1172.5,1485.3 1173.0,1485.7 1173.6,1486.0 1174.1,1484.9 1174.7,1485.2 1175.2,1485.4 1175.8,1486.2 1176.3,1485.8 1176.9,1485.8 1177.4,1486.3 1178.0,1485.1 1178.5,1485.2 1179.1,1485.6 1179.6,1485.5 1180.2,1486.1 1180.7,1485.3 1181.3,1485.3 1181.8,1485.8 1182.4,1485.7 1182.9,1486.0 1183.5,1485.5 1184.0,1485.5 1184.6,1485.8 1185.1,1485.6 1185.7,1485.6 1186.2,1485.8 1186.8,1485.9 1187.3,1484.9 1187.9,1485.5 1188.4,1486.0 1189.0,1485.6 1189.5,1486.3 1190.1,1486.1 1190.6,1485.8 1191.2,1485.3 1191.7,1485.6 1192.3,1485.0 1192.8,1485.3 1193.4,1484.8 1193.9,1485.4 1194.5,1485.9 1195.0,1485.6 1195.6,1486.0 1196.1,1485.7 1196.7,1485.3 1197.2,1485.1 1197.8,1484.9 1198.3,1485.0 1198.9,1485.1 1199.4,1486.0 1200.0,1485.7 1200.5,1485.6 1201.1,1484.8 1201.6,1484.6 1202.2,1485.8 1202.7,1485.7 1203.3,1485.6 1203.8,1486.0 1204.4,1485.4 1204.9,1485.1 1205.5,1485.8 1206.0,1484.8 1206.6,1485.9 1207.1,1486.2 1207.7,1485.2 1208.2,1485.2 1208.8,1484.5 1209.3,1484.7 1209.9,1484.7 1210.4,1485.4 1211.0,1485.5 1211.5,1485.5 1212.1,1485.9 1212.6,1485.2 1213.2,1486.1 1213.7,1485.5 1214.3,1485.5 1214.8,1484.8 1215.4,1485.5 1215.9,1485.2 1216.5,1484.8 1217.0,1486.2 1217.6,1485.6 1218.1,1485.7 1218.7,1485.7 1219.2,1485.1 1219.8,1484.3 1220.3,1485.2 1220.9,1485.3 1221.4,1484.9 1222.0,1485.2 1222.5,1484.3 1223.1,1485.3 1223.6,1484.7 1224.2,1484.6 1224.7,1485.1 1225.3,1485.3 1225.8,1484.1 1226.4,1484.6 1226.9,1484.5 1227.5,1484.6 1228.0,1485.2 1228.6,1485.2 1229.1,1485.0 1229.7,1484.7 1230.2,1485.1 1230.8,1485.1 1231.3,1484.9 1231.9,1485.2 1232.4,1485.2 1233.0,1485.0 1233.5,1484.9 1234.1,1485.0 1234.6,1485.0 1235.2,1484.9 1235.7,1484.3 1236.3,1484.9 1236.8,1485.1 1237.4,1484.7 1237.9,1484.9 1238.5,1485.2 1239.0,1485.1 1239.6,1484.9 1240.1,1485.5 1240.7,1485.2 1241.2,1484.1 1241.8,1485.6 1242.3,1484.9 1242.9,1485.0 1243.4,1485.5 1244.0,1484.4 1244.5,1484.9 1245.1,1484.5 1245.6,1485.0 1246.2,1484.7 1246.7,1485.1 1247.3,1484.3 1247.8,1484.8 1248.4,1484.4 1248.9,1485.2 1249.5,1484.8 1250.0,1484.8 1250.6,1484.8 1251.1,1485.2 1251.7,1484.8 1252.2,1486.1 1252.8,1485.1 1253.3,1484.9 1253.9,1484.5 1254.4,1484.2 1255.0,1485.1 1255.5,1484.0 1256.1,1485.4 1256.6,1484.4 1257.2,1485.2 1257.7,1485.1 1258.3,1485.3 1258.8,1484.8 1259.4,1484.4 1259.9,1483.8 1260.5,1484.3 1261.0,1484.5 1261.6,1485.0 1262.1,1484.4 1262.7,1484.3 1263.2,1484.9 1263.8,1484.9 1264.3,1484.1 1264.9,1484.9 1265.4,1484.8 1266.0,1484.3 1266.5,1485.0 1267.1,1484.4 1267.6,1484.8 1268.2,1484.9 1268.7,1484.0 1269.3,1484.5 1269.8,1483.9 1270.4,1484.5 1270.9,1485.4 1271.5,1483.7 1272.0,1483.9 1272.6,1484.2 1273.1,1484.3 1273.7,1485.2 1274.2,1484.4 1274.8,1484.8 1275.3,1484.2 1275.9,1484.3 1276.4,1484.5 1277.0,1483.9 1277.5,1484.1 1278.1,1484.4 1278.6,1483.5 1279.2,1484.6 1279.7,1484.4 1280.3,1484.6 1280.8,1483.7 1281.4,1484.1 1281.9,1483.3 1282.5,1484.0 1283.0,1484.4 1283.6,1483.3 1284.1,1484.3 1284.7,1483.4 1285.2,1483.5 1285.8,1483.0 1286.3,1483.6 1286.9,1483.6 1287.4,1483.3 1288.0,1483.7 1288.5,1482.9 1289.1,1483.9 1289.6,1483.6 1290.2,1483.7 1290.7,1483.3 1291.3,1483.8 1291.8,1483.0 1292.4,1483.6 1292.9,1483.3 1293.5,1482.5 1294.0,1484.0 1294.6,1482.8 1295.1,1483.2 1295.7,1483.7 1296.2,1483.0 1296.8,1483.5 1297.3,1482.7 1297.9,1483.8 1298.4,1483.1 1299.0,1483.7 1299.5,1483.2 1300.1,1483.2 1300.6,1483.2 1301.2,1483.4 1301.7,1483.2 1302.3,1483.2 1302.8,1482.8 1303.4,1483.3 1303.9,1483.1 1304.5,1483.2 1305.0,1482.8 1305.6,1482.3 1306.1,1482.7 1306.7,1482.8 1307.2,1482.6 1307.8,1483.1 1308.3,1483.3 1308.9,1483.0 1309.4,1482.0 1310.0,1482.3 1310.5,1482.2 1311.1,1483.1 1311.6,1483.2 1312.2,1483.2 1312.7,1482.0 1313.3,1482.5 1313.8,1482.5 1314.4,1481.7 1314.9,1482.1 1315.5,1481.7 1316.0,1482.6 1316.6,1481.7 1317.1,1482.7 1317.7,1482.2 1318.2,1481.6 1318.8,1482.0 1319.3,1482.2 1319.9,1482.2 1320.4,1482.2 1321.0,1481.6 1321.5,1482.7 1322.1,1481.4 1322.6,1481.7 1323.2,1481.8 1323.7,1482.1 1324.3,1482.3 1324.8,1482.2 1325.4,1481.4 1325.9,1482.0 1326.5,1482.2 1327.0,1482.2 1327.6,1481.8 1328.1,1481.9 1328.7,1481.4 1329.2,1481.0 1329.8,1481.9 1330.3,1481.9 1330.9,1481.3 1331.4,1480.4 1332.0,1481.5 1332.5,1481.5 1333.1,1481.0 1333.6,1481.2 1334.2,1481.1 1334.7,1481.5 1335.3,1480.9 1335.8,1482.1 1336.4,1481.3 1336.9,1482.1 1337.5,1480.8 1338.0,1481.6 1338.6,1481.5 1339.1,1480.6 1339.7,1481.0 1340.2,1481.8 1340.8,1481.5 1341.3,1480.6 1341.9,1481.2 1342.4,1480.5 1343.0,1480.9 1343.5,1481.2 1344.1,1481.1 1344.6,1480.7 1345.2,1481.0 1345.7,1481.4 1346.3,1480.8 1346.8,1481.2 1347.4,1480.9 1347.9,1480.9 1348.5,1480.4 1349.0,1481.2 1349.6,1481.2 1350.1,1480.4 1350.7,1481.3 1351.2,1480.6 1351.8,1480.7 1352.3,1481.0 1352.9,1480.6 1353.4,1480.2 1354.0,1480.7 1354.5,1480.6 1355.1,1480.6 1355.6,1480.9 1356.2,1480.9 1356.7,1480.3 1357.3,1481.3 1357.8,1480.8 1358.4,1480.5 1358.9,1480.7 1359.5,1480.7 1360.0,1480.5 1360.6,1479.8 1361.1,1480.7 1361.7,1480.5 1362.2,1480.5 1362.8,1480.9 1363.3,1480.9 1363.9,1481.2 1364.4,1480.3 1365.0,1481.1 1365.5,1480.5 1366.1,1480.7 1366.6,1481.4 1367.2,1480.8 1367.7,1480.7 1368.3,1481.3 1368.8,1481.0 1369.4,1481.0 1369.9,1481.1 1370.5,1480.8 1371.0,1480.3 1371.6,1480.5 1372.1,1480.4 1372.7,1480.4 1373.2,1481.0 1373.8,1481.3 1374.3,1480.8 1374.9,1481.1 1375.4,1481.5 1376.0,1481.1 1376.5,1480.8 1377.1,1481.0 1377.6,1480.7 1378.2,1481.3 1378.7,1481.2 1379.3,1481.6 1379.8,1481.4 1380.4,1481.4 1380.9,1482.4 1381.5,1480.1 1382.0,1480.6 1382.6,1481.3 1383.1,1480.7 1383.7,1481.6 1384.2,1481.5 1384.8,1481.9 1385.3,1480.3 1385.9,1481.2 1386.4,1481.1 1387.0,1481.9 1387.5,1481.6 1388.1,1481.3 1388.6,1481.2 1389.2,1482.2 1389.7,1481.1 1390.3,1481.5 1390.8,1481.5 1391.4,1481.4 1391.9,1481.7 1392.5,1480.7 1393.0,1481.9 1393.6,1481.1 1394.1,1481.4 1394.7,1481.1 1395.2,1481.6 1395.8,1481.4 1396.3,1481.5 1396.9,1481.3 1397.4,1482.2 1398.0,1481.0 1398.5,1481.8 1399.1,1481.3 1399.6,1481.9 1400.2,1481.8 1400.7,1482.8 1401.3,1481.8 1401.8,1482.0 1402.4,1481.4 1402.9,1482.5 1403.5,1481.3 1404.0,1481.8 1404.6,1481.8 1405.1,1482.6 1405.7,1481.8 1406.2,1481.7 1406.8,1481.9 1407.3,1483.0 1407.9,1482.2 1408.4,1481.2 1409.0,1482.3 1409.5,1482.1 1410.1,1482.4 1410.6,1482.1 1411.2,1482.2 1411.7,1482.7 1412.3,1482.6 1412.8,1482.2 1413.4,1482.1 1413.9,1481.8 1414.5,1481.6 1415.0,1482.2 1415.6,1482.0 1416.1,1482.3 1416.7,1482.4 1417.2,1482.5 1417.8,1482.3 1418.3,1482.8 1418.9,1482.3 1419.4,1482.1 1420.0,1482.5 1420.5,1482.2 1421.1,1483.0 1421.6,1482.3 1422.2,1482.6 1422.7,1482.2 1423.3,1483.4 1423.8,1482.7 1424.4,1483.2 1424.9,1482.0 1425.5,1481.8 1426.0,1482.6 1426.6,1482.9 1427.1,1482.6 1427.7,1482.5 1428.2,1482.6 1428.8,1482.4 1429.3,1482.9 1429.9,1481.8 1430.4,1482.8 1431.0,1482.9 1431.5,1482.8 1432.1,1482.8 1432.6,1482.1 1433.2,1482.4 1433.7,1483.3 1434.3,1482.3 1434.8,1483.2 1435.4,1482.6 1435.9,1482.3 1436.5,1482.3 1437.0,1481.8 1437.6,1482.3 1438.1,1482.8 1438.7,1482.6 1439.2,1483.3 1439.8,1482.9 1440.3,1482.3 1440.9,1482.8 1441.4,1482.1 1442.0,1482.0 1442.5,1482.4 1443.1,1482.6 1443.6,1482.2 1444.2,1482.0 1444.7,1481.8 1445.3,1482.5 1445.8,1482.7 1446.4,1482.9 1446.9,1482.4 1447.5,1483.0 1448.0,1482.5 1448.6,1482.4 1449.1,1482.3 1449.7,1483.1 1450.2,1483.3 1450.8,1482.4 1451.3,1482.7 1451.9,1482.0 1452.4,1482.4 1453.0,1481.9 1453.5,1483.2 1454.1,1482.5 1454.6,1482.4 1455.2,1482.0 1455.7,1482.7 1456.3,1482.2 1456.8,1481.9 1457.4,1482.5 1457.9,1482.4 1458.5,1482.8 1459.0,1482.5 1459.6,1481.7 1460.1,1482.2 1460.7,1482.1 1461.2,1482.3 1461.8,1481.8 1462.3,1481.9 1462.9,1482.1 1463.4,1481.2 1464.0,1482.5 1464.5,1481.9 1465.1,1482.6 1465.6,1481.9 1466.2,1481.6 1466.7,1481.7 1467.3,1481.8 1467.8,1481.6 1468.4,1482.2 1468.9,1481.5 1469.5,1481.7 1470.0,1482.0 1470.6,1482.0 1471.1,1481.8 1471.7,1481.5 1472.2,1481.5 1472.8,1481.1 1473.3,1481.8 1473.9,1480.8 1474.4,1481.1 1475.0,1480.8 1475.5,1481.8 1476.1,1481.4 1476.6,1480.6 1477.2,1481.5 1477.7,1481.1 1478.3,1481.3 1478.8,1481.2 1479.4,1480.7 1479.9,1480.9 1480.5,1480.8 1481.0,1480.1 1481.6,1480.2 1482.1,1480.5 1482.7,1480.5 1483.2,1480.5 1483.8,1481.0 1484.3,1480.0 1484.9,1480.0 1485.4,1480.2 1486.0,1479.8 1486.5,1480.7 1487.1,1479.7 1487.6,1479.8 1488.2,1479.9 1488.7,1480.0 1489.3,1479.7 1489.8,1478.7 1490.4,1479.6 1490.9,1480.1 1491.5,1479.5 1492.0,1479.7 1492.6,1478.6 1493.1,1479.2 1493.7,1478.7 1494.2,1478.8 1494.8,1478.7 1495.3,1478.7 1495.9,1479.0 1496.4,1478.6 1497.0,1478.5 1497.5,1478.3 1498.1,1478.5 1498.6,1477.6 1499.2,1478.8 1499.7,1477.1 1500.3,1478.0 1500.8,1478.0 1501.4,1477.7 1501.9,1477.5 1502.5,1476.9 1503.0,1477.5 1503.6,1477.0 1504.1,1477.8 1504.7,1476.7 1505.2,1476.9 1505.8,1476.4 1506.3,1477.0 1506.9,1476.5 1507.4,1476.1 1508.0,1475.8 1508.5,1476.1 1509.1,1476.1 1509.6,1475.0 1510.2,1474.2 1510.7,1474.5 1511.3,1474.8 1511.8,1475.0 1512.4,1474.6 1512.9,1473.7 1513.5,1473.3 1514.0,1472.4 1514.6,1473.7 1515.1,1473.5 1515.7,1473.2 1516.2,1472.3 1516.8,1472.6 1517.3,1471.6 1517.9,1472.1 1518.4,1471.5 1519.0,1471.2 1519.5,1470.1 1520.1,1469.6 1520.6,1468.9 1521.2,1469.7 1521.7,1468.9 1522.3,1468.5 1522.8,1468.1 1523.4,1467.4 1523.9,1468.4 1524.5,1467.3 1525.0,1466.8 1525.6,1466.6 1526.1,1465.9 1526.7,1464.9 1527.2,1464.7 1527.8,1464.7 1528.3,1464.3 1528.9,1463.3 1529.4,1463.5 1530.0,1462.7 1530.5,1462.7 1531.1,1461.5 1531.6,1462.1 1532.2,1461.0 1532.7,1460.6 1533.3,1460.6 1533.8,1460.1 1534.4,1459.3 1534.9,1459.3 1535.5,1458.4 1536.0,1458.9 1536.6,1457.8 1537.1,1458.1 1537.7,1457.5 1538.2,1457.5 1538.8,1457.5 1539.3,1457.0 1539.9,1457.2 1540.4,1457.6 1541.0,1457.0 1541.5,1457.5 1542.1,1457.4 1542.6,1457.0 1543.2,1457.1 1543.7,1457.0 1544.3,1458.1 1544.8,1457.9 1545.4,1458.8 1545.9,1458.8 1546.5,1459.0 1547.0,1458.9 1547.6,1460.2 1548.1,1460.6 1548.7,1460.1 1549.2,1461.5 1549.8,1461.9 1550.3,1462.8 1550.9,1463.1 1551.4,1463.9 1552.0,1463.3 1552.5,1464.0 1553.1,1464.8 1553.6,1465.8 1554.2,1466.3 1554.7,1466.0 1555.3,1466.7 1555.8,1466.4 1556.4,1468.3 1556.9,1468.8 1557.5,1469.0 1558.0,1469.8 1558.6,1469.9 1559.1,1470.5 1559.7,1470.9 1560.2,1471.5 1560.8,1471.4 1561.3,1472.4 1561.9,1472.9 1562.4,1473.4 1563.0,1473.4 1563.5,1473.8 1564.1,1474.7 1564.6,1475.1 1565.2,1475.1 1565.7,1475.0 1566.3,1475.4 1566.8,1475.1 1567.4,1476.1 1567.9,1476.6 1568.5,1477.1 1569.0,1476.9 1569.6,1477.4 1570.1,1477.2 1570.7,1478.6 1571.2,1478.7 1571.8,1478.7 1572.3,1479.4 1572.9,1479.6 1573.4,1479.4 1574.0,1479.8 1574.5,1479.0 1575.1,1479.5 1575.6,1479.8 1576.2,1480.0 1576.7,1480.5 1577.3,1480.9 1577.8,1480.6 1578.4,1480.8 1578.9,1481.1 1579.5,1481.4 1580.0,1481.5 1580.6,1482.0 1581.1,1481.7 1581.7,1481.2 1582.2,1481.3 1582.8,1481.7 1583.3,1481.9 1583.9,1482.1 1584.4,1482.2 1585.0,1481.9 1585.5,1481.7 1586.1,1482.9 1586.6,1482.8 1587.2,1482.8 1587.7,1483.1 1588.3,1482.9 1588.8,1482.7 1589.4,1482.6 1589.9,1482.6 1590.5,1482.9 1591.0,1483.6 1591.6,1484.3 1592.1,1484.0 1592.7,1482.7 1593.2,1483.8 1593.8,1483.9 1594.3,1483.5 1594.9,1483.4 1595.4,1483.6 1596.0,1483.2 1596.5,1483.6 1597.1,1483.8 1597.6,1485.0 1598.2,1484.5 1598.7,1483.9 1599.3,1484.6 1599.8,1484.8 1600.4,1483.9 1600.9,1485.2 1601.5,1484.5 1602.0,1484.9 1602.6,1484.6 1603.1,1485.2 1603.7,1485.0 1604.2,1485.1 1604.8,1484.9 1605.3,1485.1 1605.9,1484.6 1606.4,1485.0 1607.0,1485.1 1607.5,1484.8 1608.1,1484.8 1608.6,1484.5 1609.2,1485.5 1609.7,1485.0 1610.3,1485.2 1610.8,1485.1 1611.4,1485.2 1611.9,1484.8 1612.5,1485.1 1613.0,1485.1 1613.6,1484.4 1614.1,1485.0 1614.7,1485.1 1615.2,1485.3 1615.8,1485.9 1616.3,1485.2 1616.9,1485.8 1617.4,1485.5 1618.0,1485.4 1618.5,1485.9 1619.1,1485.8 1619.6,1485.5 1620.2,1485.0 1620.7,1484.8 1621.3,1485.9 1621.8,1485.7 1622.4,1485.5 1622.9,1486.5 1623.5,1485.7 1624.0,1486.2 1624.6,1485.0 1625.1,1486.0 1625.7,1485.5 1626.2,1486.2 1626.8,1486.0 1627.3,1485.4 1627.9,1485.5 1628.4,1486.1 1629.0,1486.0 1629.5,1486.1 1630.1,1485.8 1630.6,1486.3 1631.2,1486.2 1631.7,1485.8 1632.3,1486.1 1632.8,1486.1 1633.4,1486.3 1633.9,1486.3 1634.5,1485.8 1635.0,1486.6 1635.6,1485.9 1636.1,1486.0 1636.7,1486.1 1637.2,1485.9 1637.8,1485.7 1638.3,1485.8 1638.9,1486.9 1639.4,1485.9 1640.0,1486.2 1640.5,1486.7 1641.1,1486.2 1641.6,1486.7 1642.2,1486.8 1642.7,1485.9 1643.3,1486.6 1643.8,1486.4 1644.4,1486.5 1644.9,1486.1 1645.5,1486.5 1646.0,1486.6 1646.6,1486.4 1647.1,1486.9 1647.7,1486.5 1648.2,1486.5 1648.8,1487.4 1649.3,1485.9 1649.9,1486.1 1650.4,1486.1 1651.0,1487.1 1651.5,1486.5 1652.1,1485.9 1652.6,1486.9 1653.2,1486.7 1653.7,1487.0 1654.3,1486.5 1654.8,1487.5 1655.4,1486.3 1655.9,1486.5 1656.5,1486.5 1657.0,1486.8 1657.6,1487.0 1658.1,1486.7 1658.7,1486.9 1659.2,1487.1 1659.8,1486.7 1660.3,1486.3 1660.9,1487.1 1661.4,1487.5 1662.0,1486.8 1662.5,1486.8 1663.1,1486.3 1663.6,1486.4 1664.2,1486.7 1664.7,1486.8 1665.3,1485.9 1665.8,1487.1 1666.4,1487.1 1666.9,1486.5 1667.5,1486.4 1668.0,1487.0 1668.6,1486.9 1669.1,1487.1 1669.7,1486.4 1670.2,1486.8 1670.8,1487.1 1671.3,1486.8 1671.9,1486.6 1672.4,1486.7 1673.0,1487.1 1673.5,1487.0 1674.1,1486.8 1674.6,1486.9 1675.2,1486.7 1675.7,1487.6 1676.3,1487.1 1676.8,1487.0 1677.4,1487.7 1677.9,1486.8 1678.5,1486.9 1679.0,1487.3 1679.6,1487.1 1680.1,1486.5 1680.7,1486.5 1681.2,1487.9 1681.8,1486.9 1682.3,1486.8 1682.9,1486.3 1683.4,1486.3 1684.0,1486.6 1684.5,1487.0 1685.1,1486.7 1685.6,1486.8 1686.2,1486.8 1686.7,1486.5 1687.3,1486.7 1687.8,1487.3 1688.4,1487.4 1688.9,1487.4 1689.5,1487.3 1690.0,1487.1 1690.6,1487.1 1691.1,1487.3 1691.7,1486.4 1692.2,1486.9 1692.8,1486.5 1693.3,1487.1 1693.9,1486.6 1694.4,1487.3 1695.0,1487.2 1695.5,1487.2 1696.1,1487.0 1696.6,1487.0 1697.2,1486.8 1697.7,1487.4 1698.3,1487.0 1698.8,1487.0 1699.4,1487.1 1699.9,1487.1 1700.5,1486.8 1701.0,1486.4 1701.6,1486.9 1702.1,1487.0 1702.7,1487.4 1703.2,1487.2 1703.8,1487.6 1704.3,1486.8 1704.9,1486.7 1705.4,1487.6 1706.0,1486.8 1706.5,1486.4 1707.1,1486.3 1707.6,1487.5 1708.2,1487.1 1708.7,1487.8 1709.3,1487.2 1709.8,1487.3 1710.4,1487.0 1710.9,1487.5 1711.5,1487.1 1712.0,1487.0 1712.6,1487.5 1713.1,1487.4 1713.7,1486.8 1714.2,1487.5 1714.8,1487.2 1715.3,1487.2 1715.9,1487.1 1716.4,1487.0 1717.0,1487.0 1717.5,1487.1 1718.1,1487.2 1718.6,1487.4 1719.2,1486.7 1719.7,1487.2 1720.3,1487.6 1720.8,1487.4 1721.4,1487.3 1721.9,1487.2 1722.5,1486.5 1723.0,1487.3 1723.6,1486.8 1724.1,1487.0 1724.7,1487.5 1725.2,1487.1 1725.8,1487.5 1726.3,1488.0 1726.9,1487.0 1727.4,1487.6 1728.0,1487.4 1728.5,1486.6 1729.1,1487.5 1729.6,1487.4 1730.2,1487.3 1730.7,1487.5 1731.3,1487.0 1731.8,1487.2 1732.4,1487.7 1732.9,1487.7 1733.5,1487.2 1734.0,1487.4 1734.6,1487.4 1735.1,1486.6 1735.7,1487.2 1736.2,1487.4 1736.8,1487.4 1737.3,1487.3 1737.9,1487.4 1738.4,1487.9 1739.0,1487.7 1739.5,1487.3 1740.1,1487.7 1740.6,1487.9 1741.2,1487.7 1741.7,1487.3 1742.3,1487.3 1742.8,1487.2 1743.4,1488.1 1743.9,1487.3 1744.5,1488.2 1745.0,1487.5 1745.6,1487.7 1746.1,1487.3 1746.7,1486.9 1747.2,1487.5 1747.8,1487.2 1748.3,1487.4 1748.9,1486.9 1749.4,1487.9 1750.0,1486.7 1750.5,1488.1 1751.1,1487.4 1751.6,1487.6 1752.2,1487.4 1752.7,1487.5 1753.3,1488.3 1753.8,1487.6 1754.4,1487.6 1754.9,1487.4 1755.5,1486.7 1756.0,1487.9 1756.6,1487.4 1757.1,1487.8 1757.7,1488.1 1758.2,1487.4 1758.8,1487.4 1759.3,1486.9 1759.9,1488.3 1760.4,1488.2 1761.0,1487.6 1761.5,1487.9 1762.1,1487.8 1762.6,1487.2 1763.2,1486.3 1763.7,1487.4 1764.3,1487.3 1764.8,1488.2 1765.4,1488.0 1765.9,1487.8 1766.5,1487.8 1767.0,1487.4 1767.6,1487.7 1768.1,1487.5 1768.7,1487.6 1769.2,1487.6 1769.8,1488.3 1770.3,1487.7 1770.9,1487.3 1771.4,1487.8 1772.0,1487.8 1772.5,1487.6 1773.1,1487.9 1773.6,1487.0 1774.2,1487.5 1774.7,1487.6 1775.3,1487.9 1775.8,1487.5 1776.4,1487.6 1776.9,1488.5 1777.5,1487.3 1778.0,1487.9 1778.6,1487.6 1779.1,1487.2 1779.7,1488.0 1780.2,1487.6 1780.8,1488.2 1781.3,1488.0 1781.9,1487.4 1782.4,1487.4 1783.0,1487.6 1783.5,1487.7 1784.1,1487.3 1784.6,1488.5 1785.2,1487.6 1785.7,1488.0 1786.3,1487.3 1786.8,1488.2 1787.4,1487.8 1787.9,1488.0 1788.5,1487.8 1789.0,1487.1 1789.6,1488.3 1790.1,1487.0 1790.7,1488.0 1791.2,1486.9 1791.8,1487.1 1792.3,1487.7 1792.9,1487.9 1793.4,1487.1 1794.0,1487.6 1794.5,1488.2 1795.1,1487.6 1795.6,1487.9 1796.2,1487.3 1796.7,1487.4 1797.3,1488.4 1797.8,1487.4 1798.4,1487.6 1798.9,1488.5 1799.5,1487.6 1800.0,1487.6 1800.6,1488.0 1801.1,1487.7 1801.7,1487.5 1802.2,1487.6 1802.8,1488.0 1803.3,1487.4 1803.9,1487.8 1804.4,1487.6 1805.0,1488.2 1805.5,1487.5 1806.1,1487.4 1806.6,1487.9 1807.2,1487.7 1807.7,1487.7 1808.3,1488.0 1808.8,1487.3 1809.4,1488.4 1809.9,1487.9 1810.5,1487.7 1811.0,1487.8 1811.6,1487.4 1812.1,1487.7 1812.7,1488.3 1813.2,1487.8 1813.8,1488.3 1814.3,1487.6 1814.9,1488.5 1815.4,1487.7 1816.0,1488.0 1816.5,1488.1 1817.1,1487.4 1817.6,1487.8 1818.2,1488.4 1818.7,1488.0 1819.3,1488.2 1819.8,1487.6 1820.4,1488.0 1820.9,1488.2 1821.5,1488.4 1822.0,1488.2 1822.6,1487.7 1823.1,1487.3 1823.7,1487.9 1824.2,1488.2 1824.8,1488.0 1825.3,1488.6 1825.9,1488.4 1826.4,1487.8 1827.0,1487.9 1827.5,1487.9 1828.1,1488.2 1828.6,1487.5 1829.2,1488.4 1829.7,1487.5 1830.3,1488.4 1830.8,1487.5 1831.4,1487.8 1831.9,1488.0 1832.5,1487.7 1833.0,1488.7 1833.6,1488.5 1834.1,1487.5 1834.7,1487.9 1835.2,1488.3 1835.8,1488.3 1836.3,1488.0 1836.9,1487.3 1837.4,1487.9 1838.0,1487.7 1838.5,1487.8 1839.1,1487.8 1839.6,1487.7 1840.2,1487.5 1840.7,1487.9 1841.3,1487.3 1841.8,1488.1 1842.4,1487.8 1842.9,1488.3 1843.5,1488.4 1844.0,1488.7 1844.6,1488.2 1845.1,1488.3 1845.7,1488.3 1846.2,1488.6 1846.8,1488.2 1847.3,1488.2 1847.9,1488.5 1848.4,1487.6 1849.0,1487.6 1849.5,1487.0 1850.1,1487.7 1850.6,1488.0 1851.2,1487.9 1851.7,1488.2 1852.3,1488.1 1852.8,1488.0 1853.4,1487.7 1853.9,1487.8 1854.5,1488.2 1855.0,1487.9 1855.6,1488.6 1856.1,1487.6 1856.7,1488.2 1857.2,1488.2 1857.8,1488.3 1858.3,1487.7 1858.9,1487.9 1859.4,1488.2 1860.0,1488.6 1860.5,1488.1 1861.1,1487.8 1861.6,1488.1 1862.2,1488.2 1862.7,1488.8 1863.3,1488.6 1863.8,1487.5 1864.4,1487.8 1864.9,1487.5 1865.5,1488.0 1866.0,1488.5 1866.6,1488.0 1867.1,1488.4 1867.7,1488.0 1868.2,1488.1 1868.8,1488.0 1869.3,1488.5 1869.9,1487.7 1870.4,1488.2 1871.0,1488.4 1871.5,1488.2 1872.1,1488.6 1872.6,1488.2 1873.2,1488.4 1873.7,1488.3 1874.3,1488.7 1874.8,1488.5 1875.4,1488.5 1875.9,1488.6 1876.5,1488.0 1877.0,1487.8 1877.6,1488.6 1878.1,1489.2 1878.7,1488.7 1879.2,1487.1 1879.8,1487.9 1880.3,1488.7 1880.9,1488.5 1881.4,1488.4 1882.0,1488.2 1882.5,1487.9 1883.1,1488.3 1883.6,1488.2 1884.2,1488.2 1884.7,1488.9 1885.3,1488.6 1885.8,1488.1" fill="none" stroke="#FF0000" stroke-width="8.10" stroke-linejoin="round" stroke-linecap="round"/>
<line x1="367.9" y1="94.9" x2="327.9" y2="130.9" stroke="#000" stroke-width="3.40"/>
<line x1="621.7" y1="258.3" x2="662.0" y2="308.0" stroke="#000" stroke-width="3.40"/>
<line x1="703.5" y1="192.0" x2="703.5" y2="306.9" stroke="#000" stroke-width="3.40"/>
<line x1="733.2" y1="128.1" x2="733.2" y2="259.0" stroke="#000" stroke-width="3.40"/>
<line x1="770.7" y1="250.7" x2="755.5" y2="305.1" stroke="#000" stroke-width="3.40"/>
<line x1="1145.8" y1="259.8" x2="1163.5" y2="283.5" stroke="#000" stroke-width="3.40"/>
<line x1="1185.6" y1="211.5" x2="1185.6" y2="313.8" stroke="#000" stroke-width="3.40"/>
<line x1="1251.0" y1="150.4" x2="1215.3" y2="281.0" stroke="#000" stroke-width="3.40"/>
<line x1="1278.4" y1="269.1" x2="1258.0" y2="315.0" stroke="#000" stroke-width="3.40"/>
<line x1="1569.6" y1="250.3" x2="1585.1" y2="306.4" stroke="#000" stroke-width="4.50"/>
<line x1="1643.4" y1="271.2" x2="1632.6" y2="310.1" stroke="#000" stroke-width="4.50"/>
<line x1="1759.5" y1="192.5" x2="1759.5" y2="300.0" stroke="#000" stroke-width="4.50"/>
<line x1="1813.5" y1="270.2" x2="1794.7" y2="322.0" stroke="#000" stroke-width="4.50"/>
<line x1="1865.5" y1="892.2" x2="1865.5" y2="949.7" stroke="#000" stroke-width="4.00"/>
<line x1="323.2" y1="1247.4" x2="340.9" y2="1261.2" stroke="#000" stroke-width="3.40"/>
<line x1="359.2" y1="1199.9" x2="350.6" y2="1253.2" stroke="#000" stroke-width="3.40"/>
<line x1="458.5" y1="1135.5" x2="458.5" y2="1168.6" stroke="#000" stroke-width="3.40"/>
<line x1="630.1" y1="1127.3" x2="630.1" y2="1241.3" stroke="#000" stroke-width="3.40"/>
<line x1="672.9" y1="1191.7" x2="657.8" y2="1251.7" stroke="#000" stroke-width="3.40"/>
<line x1="810.0" y1="1124.1" x2="810.0" y2="1256.4" stroke="#000" stroke-width="3.40"/>
<line x1="846.0" y1="1176.1" x2="825.7" y2="1262.9" stroke="#000" stroke-width="3.40"/>
<line x1="911.4" y1="1243.0" x2="923.3" y2="1267.2" stroke="#000" stroke-width="3.40"/>
<line x1="1003.8" y1="1115.7" x2="949.6" y2="1260.7" stroke="#000" stroke-width="3.40"/>
<line x1="1033.4" y1="1233.8" x2="1038.3" y2="1249.5" stroke="#000" stroke-width="3.40"/>
<line x1="1106.8" y1="1171.8" x2="1070.3" y2="1239.6" stroke="#000" stroke-width="3.40"/>
<line x1="1179.1" y1="1237.4" x2="1179.1" y2="1271.5" stroke="#000" stroke-width="4.00"/>
<line x1="1217.9" y1="1120.4" x2="1217.9" y2="1249.5" stroke="#000" stroke-width="4.00"/>
<line x1="1271.5" y1="1215.0" x2="1271.5" y2="1271.5" stroke="#000" stroke-width="3.40"/>
<line x1="1341.6" y1="1162.1" x2="1341.6" y2="1256.4" stroke="#000" stroke-width="3.40"/>
<line x1="1392.3" y1="1244.1" x2="1392.3" y2="1267.6" stroke="#000" stroke-width="3.40"/>
<line x1="1482.2" y1="1128.6" x2="1426.9" y2="1266.1" stroke="#000" stroke-width="3.40"/>
<line x1="1512.8" y1="1237.4" x2="1502.5" y2="1276.9" stroke="#000" stroke-width="3.40"/>
<line x1="1656.8" y1="1174.4" x2="1656.8" y2="1272.6" stroke="#000" stroke-width="4.00"/>
<line x1="1756.1" y1="1248.2" x2="1756.1" y2="1271.5" stroke="#000" stroke-width="4.00"/>
<line x1="578.3" y1="1441.3" x2="578.3" y2="1468.6" stroke="#000" stroke-width="3.40"/>
<line x1="717.0" y1="1435.5" x2="717.0" y2="1459.4" stroke="#000" stroke-width="3.40"/>
<line x1="796.1" y1="1420.0" x2="768.8" y2="1466.0" stroke="#000" stroke-width="3.40"/>
<line x1="943.7" y1="1429.8" x2="943.7" y2="1458.0" stroke="#000" stroke-width="4.00"/>
<line x1="1544.9" y1="1423.5" x2="1544.9" y2="1446.5" stroke="#000" stroke-width="3.40"/>
<circle cx="384.1" cy="78.1" r="8.20" fill="none" stroke="#000" stroke-width="4.00"/>
<circle cx="706.0" cy="324.0" r="8.20" fill="none" stroke="#000" stroke-width="4.00"/>
<circle cx="732.0" cy="285.1" r="8.20" fill="none" stroke="#000" stroke-width="4.00"/>
<circle cx="753.9" cy="322.9" r="8.20" fill="none" stroke="#000" stroke-width="4.00"/>
<circle cx="1013.9" cy="269.1" r="8.20" fill="none" stroke="#000" stroke-width="4.00"/>
<circle cx="1175.8" cy="300.0" r="8.20" fill="none" stroke="#000" stroke-width="4.00"/>
<circle cx="1214.9" cy="294.3" r="8.20" fill="none" stroke="#000" stroke-width="4.00"/>
<circle cx="1420.0" cy="312.2" r="8.20" fill="none" stroke="#000" stroke-width="4.00"/>
<circle cx="1590.0" cy="324.1" r="8.20" fill="none" stroke="#000" stroke-width="4.00"/>
<circle cx="1633.2" cy="330.6" r="8.20" fill="none" stroke="#000" stroke-width="4.00"/>
<circle cx="1764.9" cy="326.3" r="8.20" fill="none" stroke="#000" stroke-width="4.00"/>
<circle cx="1793.0" cy="338.8" r="8.20" fill="none" stroke="#000" stroke-width="4.00"/>
<text transform="translate(426.32,344.26) scale(1,0.918)" font-size="84.10px">*</text>
<text transform="translate(659.62,368.06) scale(1,0.918)" font-size="84.10px">*</text>
<text transform="translate(810.42,371.26) scale(1,0.918)" font-size="84.10px">*</text>
<text transform="translate(1169.42,232.06) scale(1,0.918)" font-size="84.10px">*</text>
<text transform="translate(1235.62,379.86) scale(1,0.918)" font-size="84.10px">*</text>
<path d="M1762.0,73.1 L1774.8,94.2 L1749.2,94.2 Z" fill="none" stroke="#000" stroke-width="1.60" stroke-linejoin="miter"/>
<path d="M911.0,327.6 L923.8,348.5 L898.2,348.5 Z" fill="none" stroke="#000" stroke-width="1.60" stroke-linejoin="miter"/>
<path d="M917.2,698.4 L930.2,719.4 L904.2,719.4 Z" fill="none" stroke="#000" stroke-width="1.60" stroke-linejoin="miter"/>
<text x="252.00" y="170.90" font-size="40.30px">(101)</text>
<text x="401.00" y="273.40" font-size="40.30px">(110)</text>
<text x="560.50" y="242.50" font-size="40.30px">(101)</text>
<text x="614.20" y="179.50" font-size="40.30px">(103)</text>
<text x="683.30" y="120.80" font-size="40.30px">(004)</text>
<text x="743.10" y="233.00" font-size="40.30px">(112)</text>
<text x="783.30" y="305.80" font-size="40.30px">(111)</text>
<text x="962.20" y="246.00" font-size="40.30px">(200)</text>
<text x="1093.53" y="251.20" font-size="40.30px">105</text>
<text x="1139.50" y="163.10" font-size="40.30px">(211)</text>
<text x="1237.70" y="121.20" font-size="40.30px">(211)</text>
<text x="1266.10" y="254.00" font-size="40.30px">(220)</text>
<text x="1370.40" y="299.30" font-size="40.30px">(204)</text>
<text x="1507.30" y="235.60" font-size="40.30px">(116)</text>
<text x="1607.00" y="253.30" font-size="40.30px">(220)</text>
<text x="1702.00" y="177.80" font-size="40.30px">(215)</text>
<text x="1779.10" y="250.70" font-size="40.30px">(301)</text>
<text x="468.30" y="412.90" font-size="40.30px">(111)</text>
<text x="611.40" y="650.60" font-size="40.30px">(200)</text>
<text x="1033.50" y="579.80" font-size="40.30px">(220)</text>
<text x="1284.30" y="633.30" font-size="40.30px">(311)</text>
<text x="1372.50" y="710.50" font-size="40.30px">(222)</text>
<text x="1682.00" y="707.90" font-size="40.30px">(400)</text>
<text x="429.10" y="853.30" font-size="40.30px">(111)</text>
<text x="555.90" y="932.90" font-size="40.30px">(200)</text>
<text x="953.00" y="900.90" font-size="40.30px">(220)</text>
<text x="1188.80" y="913.90" font-size="40.30px">(311)</text>
<text x="1274.90" y="949.70" font-size="40.30px">(222)</text>
<text x="1557.20" y="950.20" font-size="40.30px">(400)</text>
<text x="1742.20" y="941.80" font-size="40.30px">(331)</text>
<text x="1794.70" y="878.00" font-size="40.30px">(420)</text>
<text x="235.20" y="1233.80" font-size="40.30px">(011)</text>
<text x="295.90" y="1178.30" font-size="40.30px">(-110)</text>
<text x="404.20" y="1117.80" font-size="40.30px">(-111)</text>
<text x="503.50" y="1196.40" font-size="40.30px">(111)</text>
<text x="585.10" y="1119.40" font-size="40.30px">(002)</text>
<text x="643.80" y="1182.00" font-size="40.30px">(200)</text>
<text x="697.40" y="1262.90" font-size="40.30px">(021)</text>
<text x="747.00" y="1108.60" font-size="40.30px">(-211)</text>
<text x="815.00" y="1169.40" font-size="40.30px">(-121)</text>
<text x="849.10" y="1227.90" font-size="40.30px">(112)</text>
<text x="948.80" y="1102.10" font-size="40.30px">(211)</text>
<text x="973.00" y="1225.10" font-size="40.30px">(022)</text>
<text x="1046.60" y="1153.90" font-size="40.30px">(-221)</text>
<text x="1112.00" y="1222.30" font-size="40.30px">(202)</text>
<text x="1165.40" y="1106.40" font-size="40.30px">(013)</text>
<text x="1229.00" y="1196.40" font-size="40.30px">(212)</text>
<text x="1300.30" y="1149.60" font-size="40.30px">(-302)</text>
<text x="1346.00" y="1229.90" font-size="40.30px">(113)</text>
<text x="1439.10" y="1118.70" font-size="40.30px">(311)</text>
<text x="1488.30" y="1218.20" font-size="40.30px">(-321)</text>
<text x="1618.20" y="1161.00" font-size="40.30px">(-104)</text>
<text x="1703.10" y="1237.40" font-size="40.30px">(-140)</text>
<text x="518.20" y="1437.30" font-size="40.30px">(220)</text>
<text x="651.20" y="1421.20" font-size="40.30px">(311)</text>
<text x="761.10" y="1399.00" font-size="40.30px">(222)</text>
<text x="898.10" y="1426.30" font-size="40.30px">(400)</text>
<text x="1501.50" y="1416.30" font-size="40.30px">(440)</text>
<text transform="translate(1800.85,114.80) scale(1,1.040)" font-size="75.00px">Ni</text>
<text transform="scale(1,1.035)" font-size="68.20px"><tspan x="1665.41" y="419.42">Ni/TiO</tspan><tspan x="1856.99" y="445.22" font-size="42.00px">2</tspan></text>
<text transform="scale(1,1.035)" font-size="68.20px"><tspan x="1645.41" y="771.79">Ni/YSZ</tspan></text>
<text transform="scale(1,1.035)" font-size="68.20px"><tspan x="1645.41" y="1001.74">Ni/CeO</tspan><tspan x="1864.99" y="1027.92" font-size="42.00px">2</tspan></text>
<text transform="scale(1,1.035)" font-size="68.20px"><tspan x="1647.41" y="1307.05">Ni/ZrO</tspan><tspan x="1844.99" y="1333.14" font-size="42.00px">2</tspan></text>
<text transform="scale(1,1.035)" font-size="68.20px"><tspan x="1648.41" y="1500.29">Ni/Al</tspan><tspan x="1789.89" y="1526.38" font-size="42.00px">2</tspan><tspan x="1812.87" y="1500.29">O</tspan><tspan x="1866.20" y="1526.38" font-size="42.00px">3</tspan></text>
<text transform="translate(172.97,1732.00) scale(1,1.010)" font-size="96.00px">20</text>
<text transform="translate(450.72,1732.00) scale(1,1.010)" font-size="96.00px">30</text>
<text transform="translate(728.62,1732.00) scale(1,1.010)" font-size="96.00px">40</text>
<text transform="translate(1004.96,1732.00) scale(1,1.010)" font-size="96.00px">50</text>
<text transform="translate(1281.61,1732.00) scale(1,1.010)" font-size="96.00px">60</text>
<text transform="translate(1558.76,1732.00) scale(1,1.010)" font-size="96.00px">70</text>
<text transform="translate(1836.30,1732.00) scale(1,1.010)" font-size="96.00px">80</text>
<text x="761.66" y="1886.90" font-size="122.00px">Angle (2<tspan font-style="italic">θ</tspan><tspan x="1282.04">)</tspan></text>
<text transform="translate(127.00,1205.00) rotate(-90)" x="-11.26" y="0" font-size="122.00px">Intensity (a.u.)</text>
</svg>
</body>
</html>
